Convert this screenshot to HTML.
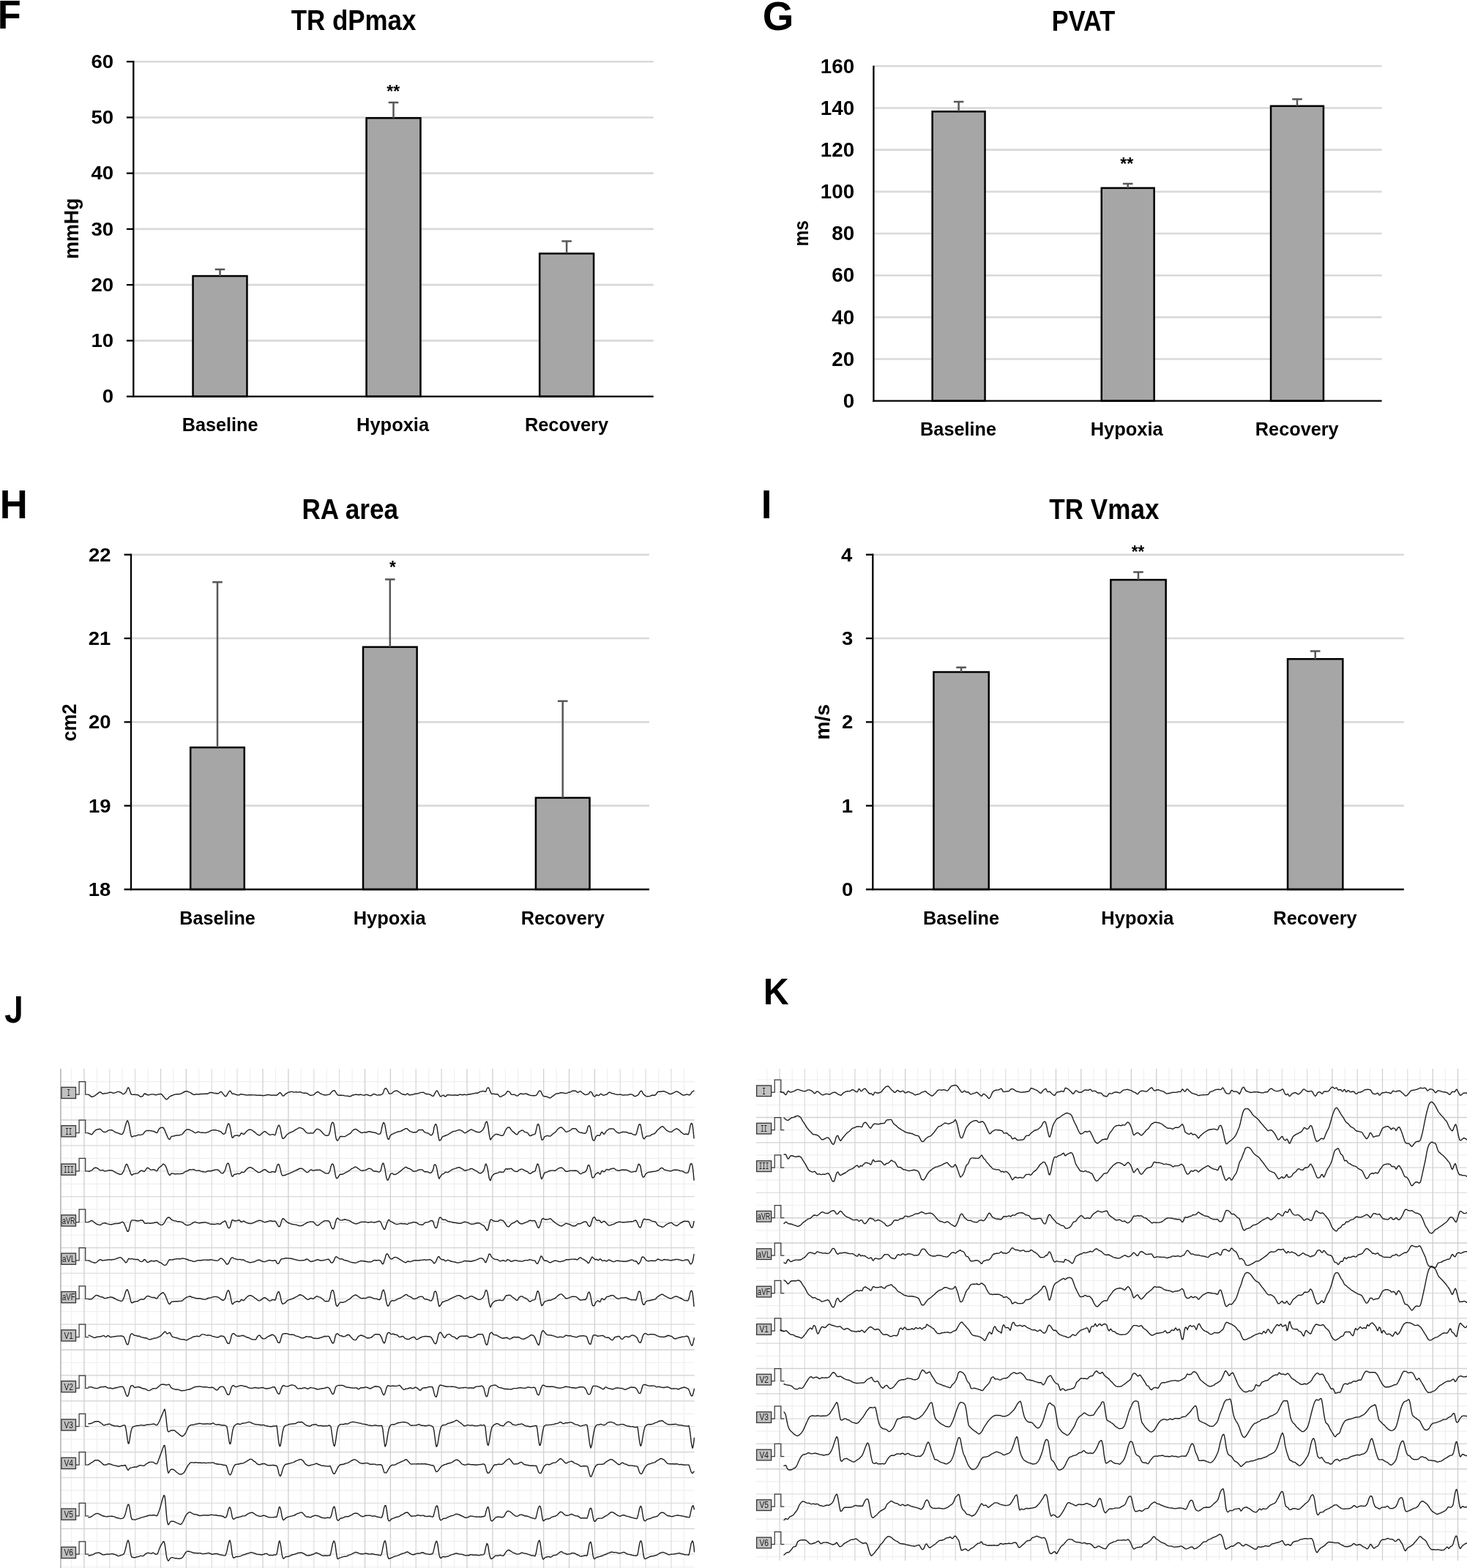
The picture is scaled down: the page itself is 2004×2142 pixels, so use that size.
<!DOCTYPE html>
<html lang="en"><head><meta charset="utf-8"><title>Figure panels F-K</title>
<style>
html,body{margin:0;padding:0;background:#fff}
body{width:2004px;height:2142px;overflow:hidden;font-family:"Liberation Sans",sans-serif}
svg{display:block}
text{white-space:pre}
</style></head><body>
<svg width="2004" height="2142" viewBox="0 0 2004 2142">
<rect width="2004" height="2142" fill="#fff"/>
<g>
<line x1="182.3" y1="465.37" x2="892.7" y2="465.37" stroke="#d9d9d9" stroke-width="2.6"/>
<line x1="182.3" y1="389.13" x2="892.7" y2="389.13" stroke="#d9d9d9" stroke-width="2.6"/>
<line x1="182.3" y1="312.90" x2="892.7" y2="312.90" stroke="#d9d9d9" stroke-width="2.6"/>
<line x1="182.3" y1="236.67" x2="892.7" y2="236.67" stroke="#d9d9d9" stroke-width="2.6"/>
<line x1="182.3" y1="160.43" x2="892.7" y2="160.43" stroke="#d9d9d9" stroke-width="2.6"/>
<line x1="182.3" y1="84.20" x2="892.7" y2="84.20" stroke="#d9d9d9" stroke-width="2.6"/>
<rect x="263.55" y="377.05" width="73.90" height="164.55" fill="#a6a6a6" stroke="#000" stroke-width="2.5"/>
<rect x="500.55" y="161.25" width="73.90" height="380.35" fill="#a6a6a6" stroke="#000" stroke-width="2.5"/>
<rect x="737.15" y="346.35" width="73.90" height="195.25" fill="#a6a6a6" stroke="#000" stroke-width="2.5"/>
<path d="M300.50 377.00V368.00M293.70 368.00H307.30" stroke="#575757" stroke-width="2.5" fill="none"/>
<path d="M537.50 161.20V140.00M530.70 140.00H544.30" stroke="#575757" stroke-width="2.5" fill="none"/>
<path d="M774.10 346.30V329.60M767.30 329.60H780.90" stroke="#575757" stroke-width="2.5" fill="none"/>
<line x1="182.3" y1="83.05" x2="182.3" y2="542.75" stroke="#000" stroke-width="2.3"/>
<line x1="172.90" y1="541.60" x2="892.7" y2="541.60" stroke="#000" stroke-width="2.3"/>
<text x="139.84" y="550.40" font-family='"Liberation Sans", sans-serif' font-size="25.8" font-weight="bold" fill="#000" textLength="15.35" lengthAdjust="spacingAndGlyphs">0</text>
<line x1="172.90" y1="465.37" x2="182.3" y2="465.37" stroke="#000" stroke-width="2.3"/>
<text x="124.49" y="474.17" font-family='"Liberation Sans", sans-serif' font-size="25.8" font-weight="bold" fill="#000" textLength="30.71" lengthAdjust="spacingAndGlyphs">10</text>
<line x1="172.90" y1="389.13" x2="182.3" y2="389.13" stroke="#000" stroke-width="2.3"/>
<text x="124.49" y="397.93" font-family='"Liberation Sans", sans-serif' font-size="25.8" font-weight="bold" fill="#000" textLength="30.71" lengthAdjust="spacingAndGlyphs">20</text>
<line x1="172.90" y1="312.90" x2="182.3" y2="312.90" stroke="#000" stroke-width="2.3"/>
<text x="124.49" y="321.70" font-family='"Liberation Sans", sans-serif' font-size="25.8" font-weight="bold" fill="#000" textLength="30.71" lengthAdjust="spacingAndGlyphs">30</text>
<line x1="172.90" y1="236.67" x2="182.3" y2="236.67" stroke="#000" stroke-width="2.3"/>
<text x="124.49" y="245.47" font-family='"Liberation Sans", sans-serif' font-size="25.8" font-weight="bold" fill="#000" textLength="30.71" lengthAdjust="spacingAndGlyphs">40</text>
<line x1="172.90" y1="160.43" x2="182.3" y2="160.43" stroke="#000" stroke-width="2.3"/>
<text x="124.49" y="169.23" font-family='"Liberation Sans", sans-serif' font-size="25.8" font-weight="bold" fill="#000" textLength="30.71" lengthAdjust="spacingAndGlyphs">50</text>
<line x1="172.90" y1="84.20" x2="182.3" y2="84.20" stroke="#000" stroke-width="2.3"/>
<text x="124.49" y="93.00" font-family='"Liberation Sans", sans-serif' font-size="25.8" font-weight="bold" fill="#000" textLength="30.71" lengthAdjust="spacingAndGlyphs">60</text>
<text x="248.66" y="589.20" font-family='"Liberation Sans", sans-serif' font-size="26.6" font-weight="bold" fill="#000" textLength="103.83" lengthAdjust="spacingAndGlyphs">Baseline</text>
<text x="487.05" y="589.20" font-family='"Liberation Sans", sans-serif' font-size="26.6" font-weight="bold" fill="#000" textLength="99.03" lengthAdjust="spacingAndGlyphs">Hypoxia</text>
<text x="716.95" y="589.20" font-family='"Liberation Sans", sans-serif' font-size="26.6" font-weight="bold" fill="#000" textLength="114.08" lengthAdjust="spacingAndGlyphs">Recovery</text>
<text x="397.65" y="40.80" font-family='"Liberation Sans", sans-serif' font-size="38.2" font-weight="bold" fill="#000" textLength="170.76" lengthAdjust="spacingAndGlyphs">TR dPmax</text>
<text transform="translate(107.40 352.05) rotate(-90)" x="-1.74" y="0" font-family='"Liberation Sans", sans-serif' font-size="27.5" font-weight="bold" fill="#000" textLength="83.25" lengthAdjust="spacingAndGlyphs">mmHg</text>
<text x="528.30" y="132.70" font-family='"Liberation Sans", sans-serif' font-size="23" font-weight="bold" fill="#000" textLength="17.78" lengthAdjust="spacingAndGlyphs">**</text>
<text x="-3.30" y="38.70" font-family='"Liberation Sans", sans-serif' font-size="56.2" font-weight="bold" fill="#000" textLength="31.98" lengthAdjust="spacingAndGlyphs">F</text>
</g>
<g>
<line x1="1193.4" y1="490.53" x2="1887.6" y2="490.53" stroke="#d9d9d9" stroke-width="2.6"/>
<line x1="1193.4" y1="433.35" x2="1887.6" y2="433.35" stroke="#d9d9d9" stroke-width="2.6"/>
<line x1="1193.4" y1="376.18" x2="1887.6" y2="376.18" stroke="#d9d9d9" stroke-width="2.6"/>
<line x1="1193.4" y1="319.00" x2="1887.6" y2="319.00" stroke="#d9d9d9" stroke-width="2.6"/>
<line x1="1193.4" y1="261.83" x2="1887.6" y2="261.83" stroke="#d9d9d9" stroke-width="2.6"/>
<line x1="1193.4" y1="204.65" x2="1887.6" y2="204.65" stroke="#d9d9d9" stroke-width="2.6"/>
<line x1="1193.4" y1="147.48" x2="1887.6" y2="147.48" stroke="#d9d9d9" stroke-width="2.6"/>
<line x1="1193.4" y1="90.30" x2="1887.6" y2="90.30" stroke="#d9d9d9" stroke-width="2.6"/>
<rect x="1273.65" y="152.35" width="71.90" height="395.35" fill="#a6a6a6" stroke="#000" stroke-width="2.5"/>
<rect x="1504.75" y="256.85" width="71.90" height="290.85" fill="#a6a6a6" stroke="#000" stroke-width="2.5"/>
<rect x="1736.05" y="144.85" width="71.90" height="402.85" fill="#a6a6a6" stroke="#000" stroke-width="2.5"/>
<path d="M1309.60 152.30V139.00M1302.80 139.00H1316.40" stroke="#575757" stroke-width="2.5" fill="none"/>
<path d="M1540.70 256.80V251.00M1533.90 251.00H1547.50" stroke="#575757" stroke-width="2.5" fill="none"/>
<path d="M1772.00 144.80V135.50M1765.20 135.50H1778.80" stroke="#575757" stroke-width="2.5" fill="none"/>
<line x1="1193.4" y1="89.70" x2="1193.4" y2="548.85" stroke="#000" stroke-width="2.3"/>
<line x1="1192.25" y1="547.70" x2="1887.6" y2="547.70" stroke="#000" stroke-width="2.3"/>
<text x="1151.67" y="557.00" font-family='"Liberation Sans", sans-serif' font-size="27.2" font-weight="bold" fill="#000" textLength="15.43" lengthAdjust="spacingAndGlyphs">0</text>
<text x="1136.24" y="499.83" font-family='"Liberation Sans", sans-serif' font-size="27.2" font-weight="bold" fill="#000" textLength="30.86" lengthAdjust="spacingAndGlyphs">20</text>
<text x="1136.24" y="442.65" font-family='"Liberation Sans", sans-serif' font-size="27.2" font-weight="bold" fill="#000" textLength="30.86" lengthAdjust="spacingAndGlyphs">40</text>
<text x="1136.24" y="385.48" font-family='"Liberation Sans", sans-serif' font-size="27.2" font-weight="bold" fill="#000" textLength="30.86" lengthAdjust="spacingAndGlyphs">60</text>
<text x="1136.24" y="328.30" font-family='"Liberation Sans", sans-serif' font-size="27.2" font-weight="bold" fill="#000" textLength="30.86" lengthAdjust="spacingAndGlyphs">80</text>
<text x="1120.81" y="271.13" font-family='"Liberation Sans", sans-serif' font-size="27.2" font-weight="bold" fill="#000" textLength="46.29" lengthAdjust="spacingAndGlyphs">100</text>
<text x="1120.81" y="213.95" font-family='"Liberation Sans", sans-serif' font-size="27.2" font-weight="bold" fill="#000" textLength="46.29" lengthAdjust="spacingAndGlyphs">120</text>
<text x="1120.81" y="156.78" font-family='"Liberation Sans", sans-serif' font-size="27.2" font-weight="bold" fill="#000" textLength="46.29" lengthAdjust="spacingAndGlyphs">140</text>
<text x="1120.81" y="99.60" font-family='"Liberation Sans", sans-serif' font-size="27.2" font-weight="bold" fill="#000" textLength="46.29" lengthAdjust="spacingAndGlyphs">160</text>
<text x="1257.06" y="594.90" font-family='"Liberation Sans", sans-serif' font-size="26.6" font-weight="bold" fill="#000" textLength="104.03" lengthAdjust="spacingAndGlyphs">Baseline</text>
<text x="1489.65" y="594.90" font-family='"Liberation Sans", sans-serif' font-size="26.6" font-weight="bold" fill="#000" textLength="99.03" lengthAdjust="spacingAndGlyphs">Hypoxia</text>
<text x="1714.86" y="594.90" font-family='"Liberation Sans", sans-serif' font-size="26.6" font-weight="bold" fill="#000" textLength="113.77" lengthAdjust="spacingAndGlyphs">Recovery</text>
<text x="1436.66" y="42.00" font-family='"Liberation Sans", sans-serif' font-size="38.2" font-weight="bold" fill="#000" textLength="86.74" lengthAdjust="spacingAndGlyphs">PVAT</text>
<text transform="translate(1103.90 334.90) rotate(-90)" x="-1.60" y="0" font-family='"Liberation Sans", sans-serif' font-size="27.5" font-weight="bold" fill="#000" textLength="35.48" lengthAdjust="spacingAndGlyphs">ms</text>
<text x="1530.20" y="231.60" font-family='"Liberation Sans", sans-serif' font-size="23" font-weight="bold" fill="#000" textLength="17.98" lengthAdjust="spacingAndGlyphs">**</text>
<text x="1041.81" y="41.40" font-family='"Liberation Sans", sans-serif' font-size="56.3" font-weight="bold" fill="#000" textLength="42.55" lengthAdjust="spacingAndGlyphs">G</text>
</g>
<g>
<line x1="179.0" y1="1100.67" x2="886.9" y2="1100.67" stroke="#d9d9d9" stroke-width="2.6"/>
<line x1="179.0" y1="986.35" x2="886.9" y2="986.35" stroke="#d9d9d9" stroke-width="2.6"/>
<line x1="179.0" y1="872.03" x2="886.9" y2="872.03" stroke="#d9d9d9" stroke-width="2.6"/>
<line x1="179.0" y1="757.70" x2="886.9" y2="757.70" stroke="#d9d9d9" stroke-width="2.6"/>
<rect x="260.20" y="1021.05" width="73.60" height="193.95" fill="#a6a6a6" stroke="#000" stroke-width="2.5"/>
<rect x="496.00" y="883.85" width="73.60" height="331.15" fill="#a6a6a6" stroke="#000" stroke-width="2.5"/>
<rect x="731.90" y="1089.85" width="73.60" height="125.15" fill="#a6a6a6" stroke="#000" stroke-width="2.5"/>
<path d="M297.00 1021.00V795.20M290.20 795.20H303.80" stroke="#575757" stroke-width="2.5" fill="none"/>
<path d="M532.80 883.80V791.50M526.00 791.50H539.60" stroke="#575757" stroke-width="2.5" fill="none"/>
<path d="M768.70 1089.80V957.70M761.90 957.70H775.50" stroke="#575757" stroke-width="2.5" fill="none"/>
<line x1="179.0" y1="756.55" x2="179.0" y2="1216.15" stroke="#000" stroke-width="2.3"/>
<line x1="169.60" y1="1215.00" x2="886.9" y2="1215.00" stroke="#000" stroke-width="2.3"/>
<text x="120.68" y="1223.90" font-family='"Liberation Sans", sans-serif' font-size="26.4" font-weight="bold" fill="#000" textLength="30.54" lengthAdjust="spacingAndGlyphs">18</text>
<line x1="169.60" y1="1100.67" x2="179.0" y2="1100.67" stroke="#000" stroke-width="2.3"/>
<text x="120.95" y="1109.58" font-family='"Liberation Sans", sans-serif' font-size="26.4" font-weight="bold" fill="#000" textLength="30.54" lengthAdjust="spacingAndGlyphs">19</text>
<line x1="169.60" y1="986.35" x2="179.0" y2="986.35" stroke="#000" stroke-width="2.3"/>
<text x="120.95" y="995.25" font-family='"Liberation Sans", sans-serif' font-size="26.4" font-weight="bold" fill="#000" textLength="30.54" lengthAdjust="spacingAndGlyphs">20</text>
<line x1="169.60" y1="872.03" x2="179.0" y2="872.03" stroke="#000" stroke-width="2.3"/>
<text x="120.68" y="880.93" font-family='"Liberation Sans", sans-serif' font-size="26.4" font-weight="bold" fill="#000" textLength="30.54" lengthAdjust="spacingAndGlyphs">21</text>
<line x1="169.60" y1="757.70" x2="179.0" y2="757.70" stroke="#000" stroke-width="2.3"/>
<text x="120.95" y="766.60" font-family='"Liberation Sans", sans-serif' font-size="26.4" font-weight="bold" fill="#000" textLength="30.54" lengthAdjust="spacingAndGlyphs">22</text>
<text x="245.26" y="1263.00" font-family='"Liberation Sans", sans-serif' font-size="26.6" font-weight="bold" fill="#000" textLength="103.62" lengthAdjust="spacingAndGlyphs">Baseline</text>
<text x="482.65" y="1263.00" font-family='"Liberation Sans", sans-serif' font-size="26.6" font-weight="bold" fill="#000" textLength="99.03" lengthAdjust="spacingAndGlyphs">Hypoxia</text>
<text x="711.65" y="1263.00" font-family='"Liberation Sans", sans-serif' font-size="26.6" font-weight="bold" fill="#000" textLength="114.08" lengthAdjust="spacingAndGlyphs">Recovery</text>
<text x="412.44" y="708.80" font-family='"Liberation Sans", sans-serif' font-size="38.2" font-weight="bold" fill="#000" textLength="131.55" lengthAdjust="spacingAndGlyphs">RA area</text>
<text transform="translate(104.20 1011.80) rotate(-90)" x="-0.90" y="0" font-family='"Liberation Sans", sans-serif' font-size="27.5" font-weight="bold" fill="#000" textLength="51.32" lengthAdjust="spacingAndGlyphs">cm2</text>
<text x="532.10" y="782.90" font-family='"Liberation Sans", sans-serif' font-size="23" font-weight="bold" fill="#000" textLength="8.78" lengthAdjust="spacingAndGlyphs">*</text>
<text x="-0.32" y="707.90" font-family='"Liberation Sans", sans-serif' font-size="56.1" font-weight="bold" fill="#000" textLength="37.94" lengthAdjust="spacingAndGlyphs">H</text>
</g>
<g>
<line x1="1192.3" y1="1100.67" x2="1917.8" y2="1100.67" stroke="#d9d9d9" stroke-width="2.6"/>
<line x1="1192.3" y1="986.35" x2="1917.8" y2="986.35" stroke="#d9d9d9" stroke-width="2.6"/>
<line x1="1192.3" y1="872.03" x2="1917.8" y2="872.03" stroke="#d9d9d9" stroke-width="2.6"/>
<line x1="1192.3" y1="757.70" x2="1917.8" y2="757.70" stroke="#d9d9d9" stroke-width="2.6"/>
<rect x="1275.45" y="918.05" width="75.30" height="296.95" fill="#a6a6a6" stroke="#000" stroke-width="2.5"/>
<rect x="1517.35" y="792.05" width="75.30" height="422.95" fill="#a6a6a6" stroke="#000" stroke-width="2.5"/>
<rect x="1759.05" y="900.25" width="75.30" height="314.75" fill="#a6a6a6" stroke="#000" stroke-width="2.5"/>
<path d="M1313.10 918.00V911.80M1306.30 911.80H1319.90" stroke="#575757" stroke-width="2.5" fill="none"/>
<path d="M1555.00 792.00V781.50M1548.20 781.50H1561.80" stroke="#575757" stroke-width="2.5" fill="none"/>
<path d="M1796.70 900.20V889.40M1789.90 889.40H1803.50" stroke="#575757" stroke-width="2.5" fill="none"/>
<line x1="1192.3" y1="756.55" x2="1192.3" y2="1216.15" stroke="#000" stroke-width="2.3"/>
<line x1="1182.90" y1="1215.00" x2="1917.8" y2="1215.00" stroke="#000" stroke-width="2.3"/>
<text x="1149.92" y="1223.90" font-family='"Liberation Sans", sans-serif' font-size="26.4" font-weight="bold" fill="#000" textLength="15.27" lengthAdjust="spacingAndGlyphs">0</text>
<line x1="1182.90" y1="1100.67" x2="1192.3" y2="1100.67" stroke="#000" stroke-width="2.3"/>
<text x="1149.65" y="1109.58" font-family='"Liberation Sans", sans-serif' font-size="26.4" font-weight="bold" fill="#000" textLength="15.27" lengthAdjust="spacingAndGlyphs">1</text>
<line x1="1182.90" y1="986.35" x2="1192.3" y2="986.35" stroke="#000" stroke-width="2.3"/>
<text x="1149.92" y="995.25" font-family='"Liberation Sans", sans-serif' font-size="26.4" font-weight="bold" fill="#000" textLength="15.27" lengthAdjust="spacingAndGlyphs">2</text>
<line x1="1182.90" y1="872.03" x2="1192.3" y2="872.03" stroke="#000" stroke-width="2.3"/>
<text x="1149.92" y="880.93" font-family='"Liberation Sans", sans-serif' font-size="26.4" font-weight="bold" fill="#000" textLength="15.27" lengthAdjust="spacingAndGlyphs">3</text>
<line x1="1182.90" y1="757.70" x2="1192.3" y2="757.70" stroke="#000" stroke-width="2.3"/>
<text x="1148.96" y="766.60" font-family='"Liberation Sans", sans-serif' font-size="26.4" font-weight="bold" fill="#000" textLength="15.27" lengthAdjust="spacingAndGlyphs">4</text>
<text x="1260.96" y="1263.00" font-family='"Liberation Sans", sans-serif' font-size="26.6" font-weight="bold" fill="#000" textLength="104.03" lengthAdjust="spacingAndGlyphs">Baseline</text>
<text x="1504.35" y="1263.00" font-family='"Liberation Sans", sans-serif' font-size="26.6" font-weight="bold" fill="#000" textLength="99.03" lengthAdjust="spacingAndGlyphs">Hypoxia</text>
<text x="1739.35" y="1263.00" font-family='"Liberation Sans", sans-serif' font-size="26.6" font-weight="bold" fill="#000" textLength="114.28" lengthAdjust="spacingAndGlyphs">Recovery</text>
<text x="1433.35" y="708.80" font-family='"Liberation Sans", sans-serif' font-size="38.2" font-weight="bold" fill="#000" textLength="150.07" lengthAdjust="spacingAndGlyphs">TR Vmax</text>
<text transform="translate(1132.50 1009.00) rotate(-90)" x="-1.85" y="0" font-family='"Liberation Sans", sans-serif' font-size="27.5" font-weight="bold" fill="#000" textLength="48.97" lengthAdjust="spacingAndGlyphs">m/s</text>
<text x="1545.80" y="761.70" font-family='"Liberation Sans", sans-serif' font-size="23" font-weight="bold" fill="#000" textLength="17.38" lengthAdjust="spacingAndGlyphs">**</text>
<text x="1039.68" y="707.90" font-family='"Liberation Sans", sans-serif' font-size="56.1" font-weight="bold" fill="#000" textLength="14.63" lengthAdjust="spacingAndGlyphs">I</text>
</g>
<text x="6.31" y="1396.60" font-family='"Liberation Sans", sans-serif' font-size="51.4" font-weight="bold" fill="#000" textLength="25.52" lengthAdjust="spacingAndGlyphs">J</text>
<rect x="13" y="1359" width="8.95" height="9" fill="#fff"/>
<text x="1042.86" y="1371.90" font-family='"Liberation Sans", sans-serif' font-size="50.4" font-weight="bold" fill="#000" textLength="34.89" lengthAdjust="spacingAndGlyphs">K</text>
<g fill="none">
<path d="M97.5 1460V2142M132.3 1460V2142M167.2 1460V2142M202.1 1460V2142M236.9 1460V2142M271.8 1460V2142M306.7 1460V2142M341.6 1460V2142M376.4 1460V2142M411.3 1460V2142M446.2 1460V2142M481.1 1460V2142M515.9 1460V2142M550.8 1460V2142M585.7 1460V2142M620.6 1460V2142M655.4 1460V2142M690.3 1460V2142M707.7 1460V2142M725.2 1460V2142M760.1 1460V2142M794.9 1460V2142M829.8 1460V2142M864.7 1460V2142M899.6 1460V2142M934.4 1460V2142M82.9 1477.7H948.7M82.9 1495.1H948.7M82.9 1512.6H948.7M82.9 1547.5H948.7M82.9 1582.4H948.7M82.9 1617.3H948.7M82.9 1652.2H948.7M82.9 1687.0H948.7M82.9 1721.9H948.7M82.9 1756.8H948.7M82.9 1791.7H948.7M82.9 1826.6H948.7M82.9 1861.5H948.7M82.9 1896.4H948.7M82.9 1931.3H948.7M82.9 1966.2H948.7M82.9 2001.1H948.7M82.9 2035.9H948.7M82.9 2070.8H948.7M82.9 2105.7H948.7M82.9 2140.6H948.7" stroke="#f0f0f0" stroke-width="1.2"/>
<path d="M149.8 1460V2142M184.6 1460V2142M289.3 1460V2142M324.1 1460V2142M428.8 1460V2142M463.6 1460V2142M847.2 1460V2142M882.1 1460V2142M917.0 1460V2142M82.9 1599.8H948.7M82.9 1669.6H948.7M82.9 1739.4H948.7M82.9 1774.3H948.7M82.9 1948.7H948.7M82.9 2018.5H948.7M82.9 2053.4H948.7M82.9 2123.2H948.7" stroke="#dfdfdf" stroke-width="1.3"/>
<path d="M568.2 1460V2142M603.1 1460V2142M82.9 1564.9H948.7M82.9 1634.7H948.7M82.9 1704.5H948.7M82.9 1809.2H948.7" stroke="#d8d8d8" stroke-width="1.3"/>
<path d="M114.9 1460V2142M219.5 1460V2142M254.4 1460V2142M359.0 1460V2142M393.9 1460V2142M498.5 1460V2142M533.4 1460V2142M638.0 1460V2142M672.9 1460V2142M742.6 1460V2142M777.5 1460V2142M812.4 1460V2142M82.9 1530.0H948.7M82.9 1844.0H948.7M82.9 1878.9H948.7M82.9 1913.8H948.7M82.9 1983.6H948.7M82.9 2088.3H948.7" stroke="#d1d1d1" stroke-width="1.35"/>
<path d="M82.9 1460V2142" stroke="#b4b4b4" stroke-width="1.6"/>
</g>
<path d="M103.5 1495.1h4.6v-17.4h8.6v17.4h4.5" fill="none" stroke="#3a3a3a" stroke-width="1.25"/>
<rect x="83.9" y="1485.3" width="19.6" height="15.2" fill="#c1c1c1" stroke="#333" stroke-width="1.3"/>
<text x="93.7" y="1497.2" font-family='"Liberation Mono", monospace' font-size="12.8" font-weight="normal" text-anchor="middle" fill="#1c1c1c" textLength="4.6" lengthAdjust="spacingAndGlyphs">I</text>
<path d="M103.5 1547.5h4.6v-17.4h8.6v17.4h4.5" fill="none" stroke="#3a3a3a" stroke-width="1.25"/>
<rect x="83.9" y="1537.7" width="19.6" height="15.2" fill="#c1c1c1" stroke="#333" stroke-width="1.3"/>
<text x="93.7" y="1549.6" font-family='"Liberation Mono", monospace' font-size="12.8" font-weight="normal" text-anchor="middle" fill="#1c1c1c" textLength="9.0" lengthAdjust="spacingAndGlyphs">II</text>
<path d="M103.5 1599.8h4.6v-17.4h8.6v17.4h4.5" fill="none" stroke="#3a3a3a" stroke-width="1.25"/>
<rect x="83.9" y="1590.0" width="19.6" height="15.2" fill="#c1c1c1" stroke="#333" stroke-width="1.3"/>
<text x="93.7" y="1601.9" font-family='"Liberation Mono", monospace' font-size="12.8" font-weight="normal" text-anchor="middle" fill="#1c1c1c" textLength="13.6" lengthAdjust="spacingAndGlyphs">III</text>
<path d="M103.5 1669.6h4.6v-17.4h8.6v17.4h4.5" fill="none" stroke="#3a3a3a" stroke-width="1.25"/>
<rect x="83.9" y="1659.8" width="19.6" height="15.2" fill="#c1c1c1" stroke="#333" stroke-width="1.3"/>
<text x="93.7" y="1671.7" font-family='"Liberation Sans", sans-serif' font-size="12.4" font-weight="normal" text-anchor="middle" fill="#1c1c1c" textLength="17.6" lengthAdjust="spacingAndGlyphs">aVR</text>
<path d="M103.5 1721.9h4.6v-17.4h8.6v17.4h4.5" fill="none" stroke="#3a3a3a" stroke-width="1.25"/>
<rect x="83.9" y="1712.1" width="19.6" height="15.2" fill="#c1c1c1" stroke="#333" stroke-width="1.3"/>
<text x="93.7" y="1724.0" font-family='"Liberation Sans", sans-serif' font-size="12.4" font-weight="normal" text-anchor="middle" fill="#1c1c1c" textLength="17.6" lengthAdjust="spacingAndGlyphs">aVL</text>
<path d="M103.5 1774.3h4.6v-17.4h8.6v17.4h4.5" fill="none" stroke="#3a3a3a" stroke-width="1.25"/>
<rect x="83.9" y="1764.5" width="19.6" height="15.2" fill="#c1c1c1" stroke="#333" stroke-width="1.3"/>
<text x="93.7" y="1776.4" font-family='"Liberation Sans", sans-serif' font-size="12.4" font-weight="normal" text-anchor="middle" fill="#1c1c1c" textLength="17.6" lengthAdjust="spacingAndGlyphs">aVF</text>
<path d="M103.5 1826.6h4.6v-17.4h8.6v17.4h4.5" fill="none" stroke="#3a3a3a" stroke-width="1.25"/>
<rect x="83.9" y="1816.8" width="19.6" height="15.2" fill="#c1c1c1" stroke="#333" stroke-width="1.3"/>
<text x="93.7" y="1828.7" font-family='"Liberation Sans", sans-serif' font-size="12.4" font-weight="normal" text-anchor="middle" fill="#1c1c1c" textLength="12.4" lengthAdjust="spacingAndGlyphs">V1</text>
<path d="M103.5 1896.4h4.6v-17.4h8.6v17.4h4.5" fill="none" stroke="#3a3a3a" stroke-width="1.25"/>
<rect x="83.9" y="1886.6" width="19.6" height="15.2" fill="#c1c1c1" stroke="#333" stroke-width="1.3"/>
<text x="93.7" y="1898.5" font-family='"Liberation Sans", sans-serif' font-size="12.4" font-weight="normal" text-anchor="middle" fill="#1c1c1c" textLength="12.4" lengthAdjust="spacingAndGlyphs">V2</text>
<path d="M103.5 1948.7h4.6v-17.4h8.6v17.4h4.5" fill="none" stroke="#3a3a3a" stroke-width="1.25"/>
<rect x="83.9" y="1938.9" width="19.6" height="15.2" fill="#c1c1c1" stroke="#333" stroke-width="1.3"/>
<text x="93.7" y="1950.8" font-family='"Liberation Sans", sans-serif' font-size="12.4" font-weight="normal" text-anchor="middle" fill="#1c1c1c" textLength="12.4" lengthAdjust="spacingAndGlyphs">V3</text>
<path d="M103.5 2001.1h4.6v-17.4h8.6v17.4h4.5" fill="none" stroke="#3a3a3a" stroke-width="1.25"/>
<rect x="83.9" y="1991.3" width="19.6" height="15.2" fill="#c1c1c1" stroke="#333" stroke-width="1.3"/>
<text x="93.7" y="2003.2" font-family='"Liberation Sans", sans-serif' font-size="12.4" font-weight="normal" text-anchor="middle" fill="#1c1c1c" textLength="12.4" lengthAdjust="spacingAndGlyphs">V4</text>
<path d="M103.5 2070.8h4.6v-17.4h8.6v17.4h4.5" fill="none" stroke="#3a3a3a" stroke-width="1.25"/>
<rect x="83.9" y="2061.0" width="19.6" height="15.2" fill="#c1c1c1" stroke="#333" stroke-width="1.3"/>
<text x="93.7" y="2072.9" font-family='"Liberation Sans", sans-serif' font-size="12.4" font-weight="normal" text-anchor="middle" fill="#1c1c1c" textLength="12.4" lengthAdjust="spacingAndGlyphs">V5</text>
<path d="M103.5 2123.2h4.6v-17.4h8.6v17.4h4.5" fill="none" stroke="#3a3a3a" stroke-width="1.25"/>
<rect x="83.9" y="2113.4" width="19.6" height="15.2" fill="#c1c1c1" stroke="#333" stroke-width="1.3"/>
<text x="93.7" y="2125.3" font-family='"Liberation Sans", sans-serif' font-size="12.4" font-weight="normal" text-anchor="middle" fill="#1c1c1c" textLength="12.4" lengthAdjust="spacingAndGlyphs">V6</text>
<g fill="none" stroke="#1e1e1e" stroke-width="1.4" stroke-linejoin="round" stroke-linecap="round">
<path d="M121.0 1495.6l1 .2l1 .8l1 1.1l1 .6l1 0l1-.3l1-.4l1-.4l1-.6l1-.9l1-.9l1-.6l1-.8l1-.8l1-.7l1-.1l1 .5l1 1l1 .8l1 .1l1-.4l1-.2l1-.1l1 .1l1-.1l1-.3l1-.3l1-.4l1-.2l1-.2l1 .2l1 .3l1 .5l1 .2l1-.2l1-.3l1-.4l1-.3l1-.5l1-.3l1 .1l1 .3l1 .3l1 .4l1 .7l1 .9l1 .6l1-.2l1-.6l1-.9l1-1l1-2.2l1-2.4l1-1.6l1 .6l1 2.5l1 3.3l1 2.3l1 .7l1 .3l1 0l1-.1l1 0l1 .1l1 .1l1 .1l1 .1l1 .3l1 .8l1 .9l1 .5l1 0l1-.4l1-.4l1-1.5l1-1.7l1-.2l1 .5l1 .5l1 .5l1 .2l1 0l1-.1l1-.2l1-.3l1-.2l1 0l1 0l1 .2l1 .2l1 .3l1 .2l1-.2l1-.4l1-.3l1-.1l1-.2l1-.1l1-.1l1 .7l1 1.1l1 1.3l1 1.1l1 1.3l1 1l1 .8l1 0l1-.6l1-1.1l1-1.2l1-.8l1-.6l1-.4l1-.5l1-.3l1-.4l1-.4l1-.3l1-.2l1-.1l1-.1l1 0l1 0l1-.1l1-.3l1-.3l1-.4l1-.5l1-.6l1-.5l1-.5l1-.5l1-.3l1-.1l1 .4l1 .4l1 .5l1 .3l1 .4l1 .5l1 .8l1 .8l1 .5l1 .3l1-.3l1-.2l1-.3l1 .1l1 .1l1 .1l1-.2l1-.3l1 0l1 0l1 0l1-.1l1-.1l1 .1l1-.1l1 0l1 0l1-.1l1-.2l1-.6l1-.5l1-.4l1 0l1 0l1 .2l1 .1l1 .4l1 .2l1 .1l1 0l1 .2l1 .1l1 .1l1-.6l1-.8l1-.9l1-.2l1 .7l1 1.3l1 1.2l1 1.3l1 1.2l1 .7l1-.4l1-1.5l1-1.8l1-1.4l1-1.7l1-.8l1 .5l1 1.8l1 1.4l1 .4l1 0l1 .1l1 .3l1 .5l1 .3l1 .3l1 .1l1 0l1-.1l1-.6l1-.5l1 .1l1 .2l1 .1l1 .2l1 .2l1 .1l1 .3l1 .1l1 .1l1-.2l1-.2l1-.1l1 .1l1 .1l1 0l1 .1l1 0l1 0l1 0l1 .1l1 .1l1 .1l1 .2l1 0l1-.1l1 0l1 0l1 .1l1 .1l1 .2l1-.1l1 0l1-.3l1-.1l1-.3l1-.2l1-.2l1 .1l1 .1l1 .2l1 .2l1 .1l1 0l1-.1l1-.1l1 .1l1 .2l1 0l1-.3l1-.5l1-.8l1-1.1l1-.8l1-.1l1 1.1l1 1.6l1 1.5l1 .3l1-.5l1-1.1l1-1l1-.7l1-.5l1-.7l1-.5l1-.4l1 0l1-.2l1-.2l1 0l1 .3l1 .3l1 .1l1-.2l1-.2l1 .1l1 .2l1 .1l1-.1l1-.2l1-.1l1 .2l1 .4l1 .5l1 .3l1 .1l1 0l1 0l1 0l1 .2l1 .4l1 .6l1 .8l1 .7l1 .5l1 0l1-.3l1-.2l1-.2l1-.3l1-1.1l1-1.2l1-.7l1-.4l1-.5l1 .2l1 .9l1 1l1 .4l1 .3l1 .5l1 .4l1 .3l1 .2l1 .2l1 .1l1-.1l1-.3l1-.2l1-.2l1-.3l1-.6l1-1.4l1-1.2l1-.9l1-.6l1-.5l1 0l1 1.3l1 1.6l1 1.5l1 1.4l1 .6l1 .2l1 0l1-.1l1-.1l1 .2l1 .1l1 .1l1 .1l1 .3l1 .2l1 0l1 0l1 .2l1 .2l1 .1l1 .1l1-.2l1-.5l1-.6l1-.4l1-.2l1-.2l1-.2l1-.2l1 0l1 .1l1 .3l1 .1l1-.2l1-.2l1-.1l1 .4l1 .3l1 .2l1 0l1-.1l1-.2l1-.4l1-.1l1 .3l1 .4l1 .4l1 .3l1 0l1 0l1-.5l1-.9l1-.7l1-.2l1 .4l1 .4l1 .5l1 .3l1 .1l1-.2l1-.1l1-.1l1 0l1-.3l1-.7l1-.9l1-2.4l1-3.3l1-1.1l1-.4l1 .7l1 1.5l1 2l1 2.5l1 .8l1 0l1-.2l1-.1l1-.8l1-1.1l1-.9l1-.3l1-.4l1-.3l1-.1l1 .4l1 .7l1 .7l1 .7l1 .6l1 .8l1 .6l1 .4l1 .2l1 .3l1 .2l1 .1l1-.5l1-1l1-.1l1 1l1 .9l1-.2l1-.1l1-.2l1 .1l1-.3l1-.3l1-.5l1-.1l1-.1l1 0l1-.3l1-.1l1-.4l1-.3l1-.5l1-.1l1-.1l1 0l1-.1l1 .2l1 .7l1 .8l1 .4l1 .1l1 0l1 .1l1 .2l1 .4l1 .4l1 .6l1 .6l1 .5l1 .1l1-1.6l1-2.2l1-1.7l1-1.5l1-.5l1 1.2l1 2.2l1 2l1 2l1 .5l1-.5l1-.5l1-.4l1-.1l1 .8l1 1l1-.3l1-1.1l1-1l1-.1l1 .1l1 .1l1 .1l1 .2l1 .1l1-.1l1-.1l1 0l1 0l1 0l1 0l1 .3l1 0l1-.3l1-.4l1-.4l1 0l1 .2l1 .3l1 0l1-.2l1-.2l1 0l1 .2l1 .1l1 0l1-.4l1-.2l1-.2l1 0l1-.1l1-.3l1-.3l1-.1l1-.1l1-.3l1-.2l1-.3l1 .1l1 0l1-.2l1-.6l1-.6l1-.5l1-.2l1-.1l1-.3l1-.3l1 .2l1 .5l1 .5l1-1l1-3.2l1-1.3l1-.5l1 1.1l1 2.7l1 2.2l1 2.1l1 .7l1 0l1-.2l1 .1l1 .3l1 .2l1-.1l1 .1l1 .2l1 1.1l1 1.3l1 .9l1-.1l1-.4l1-.6l1-.6l1-.4l1-.6l1-.6l1-1l1-1.7l1-1.5l1 0l1 .3l1 .3l1 1.5l1 1.7l1 .6l1 .2l1 0l1-.2l1 .2l1 .6l1 .6l1 .4l1-.1l1-.6l1-1l1-.9l1-.4l1 0l1 .3l1 .2l1 .1l1-.3l1-.2l1-.2l1 .2l1 .4l1 .5l1 .5l1 .4l1 .3l1 .2l1 .2l1 0l1 .1l1-.1l1 .1l1-.1l1 0l1-.9l1-1.3l1-1.9l1-1.9l1-.3l1-.1l1 .7l1 2.5l1 2.1l1 1.7l1 .3l1 .2l1 0l1 .3l1 .2l1 .5l1 .5l1 .5l1 .2l1-.2l1-.7l1-1l1-.6l1-.5l1-.8l1-.9l1-.7l1-.4l1-.2l1-.1l1-.1l1-.3l1-.4l1-.2l1-.1l1 0l1 .1l1 .3l1 .3l1 .1l1 .1l1-.2l1-.3l1-.6l1-.3l1-.2l1 0l1-.6l1-.7l1-.5l1 0l1 0l1 0l1 0l1 .4l1 1.1l1 .8l1-.3l1-.7l1-.7l1 .1l1 .6l1 1l1 .8l1 .6l1 .7l1 .7l1 .3l1-.2l1-.4l1-.3l1-.4l1-1.1l1-1.8l1 0l1 .6l1 1.6l1 2.3l1 1.3l1 .7l1-.1l1-1.4l1-.8l1 .4l1 .6l1 0l1-.9l1-1.1l1-.3l1 .5l1 .8l1 .6l1-.1l1-.2l1-.5l1-.2l1-.2l1-1l1-1.2l1-.5l1-.1l1 .5l1 .5l1 .4l1 .1l1 .2l1 .2l1 .5l1 .3l1 .2l1 .2l1 .1l1 0l1-.3l1-.1l1 .1l1 .4l1 .3l1 .3l1-.1l1-.1l1-.1l1 .1l1 0l1-.1l1-.2l1-.1l1-.4l1-.3l1 .1l1 .2l1 .4l1 .6l1 .8l1 .7l1 0l1-.5l1-.5l1-.5l1-.6l1-1.8l1-1.8l1-1.1l1-.6l1 .6l1 2.3l1 1.5l1 1l1 .8l1 .7l1 .5l1 .1l1 0l1-.1l1 0l1-.3l1-.4l1-.4l1-.2l1 0l1 0l1-.1l1-.2l1-.8l1-1.5l1-1.6l1-.7l1-.2l1 0l1 0l1 0l1-.2l1-.3l1-.1l1 .1l1 .4l1 .5l1 .4l1 .4l1 .5l1 .6l1 .5l1 .3l1 .2l1-.1l1-.4l1-.7l1-.5l1-.4l1-.5l1-.7l1-.3l1 .2l1 .5l1 .6l1 .6l1 .5l1 .8l1 .8l1 .6l1 .5l1 .1l1-.1l1-.4l1-.3l1-.3l1 .1l1 .2l1 .5l1 .1l1-.7l1-1.6l1-1.5l1-.9l1-.5l1-.5"/>
<path d="M121.0 1548.5l1 .1l1 .3l1 .5l1 .5l1-.5l1-1.4l1-1.6l1-1l1-1l1-.8l1-.4l1-.2l1-.2l1-.3l1-.2l1 .2l1 .7l1 1l1 1l1 .7l1 .5l1 .1l1-.1l1-.3l1-.5l1-.8l1-.5l1-.4l1 0l1-.2l1-.1l1 .2l1 .6l1 .6l1 .7l1 .6l1 .6l1 .3l1 .3l1 .3l1 .4l1 .4l1 .4l1 .4l1 .3l1-.3l1-1.5l1-2.2l1-2.8l1-4.1l1-3.3l1-3l1-1.7l1 1.3l1 3.3l1 4.7l1 6.5l1 4.8l1 1.8l1-.4l1-.4l1-.5l1-.1l1-.1l1-.2l1-.4l1-.5l1-.3l1 .1l1 .1l1-.1l1-.2l1-.3l1-.3l1-.9l1-1.5l1-1.3l1-.7l1-.5l1-.3l1 .1l1 0l1 0l1 .1l1 .1l1 .1l1 .3l1 .2l1 .2l1 .3l1 .6l1 .7l1 .5l1-.6l1-2.3l1-1.9l1-1.3l1-.8l1-.2l1-.1l1-.1l1 .2l1 1.5l1 1.9l1 2.3l1 2.6l1 2.3l1 2.4l1 1.8l1 .9l1 .1l1-1.8l1-1.8l1-.4l1-.2l1-.1l1-.2l1-.3l1-.4l1-.1l1 0l1 0l1-.1l1-.1l1-.4l1-.3l1-.3l1-.4l1-1.1l1-1.3l1-1.2l1-1.2l1-.9l1-.5l1-.2l1-.1l1 .1l1 .3l1 .6l1 .5l1 .4l1 .4l1 .7l1 .8l1 .7l1 .2l1-.3l1-.4l1-.6l1-.1l1 .2l1 .4l1 .3l1 .1l1 .1l1 0l1 .1l1 0l1 .1l1 0l1-.3l1-.3l1-.4l1-.3l1-.5l1-.6l1-.6l1-.4l1-.2l1-.1l1-.1l1 0l1-.1l1 .2l1 .3l1 .3l1 .2l1 .4l1 .3l1 .4l1 .5l1 1.2l1 1.2l1 .7l1-.2l1-.4l1-1.3l1-4.4l1-3.4l1-2.9l1-1.9l1 .8l1 2.7l1 5l1 6.3l1 4.3l1 .4l1-1.3l1-1.3l1-.3l1-.3l1-.1l1-.1l1 .3l1 .6l1 .1l1-1.4l1-1.9l1-.8l1 .6l1 .9l1 .2l1-.6l1-1.2l1-1.4l1-.9l1-.9l1-.7l1-.6l1-.1l1 .1l1 .2l1 .4l1 .7l1 .6l1 .8l1 .7l1 1l1 .9l1 .8l1 .6l1 .6l1 .4l1-.2l1-.7l1-1.1l1-.8l1-.8l1-.8l1-.8l1-.1l1 .5l1 1l1 .9l1 .8l1 .7l1 .5l1 .2l1-.1l1-.2l1-.3l1 0l1 .5l1 .4l1-.1l1-3.1l1-4.3l1-2.6l1-2.4l1-1l1 1.4l1 3.3l1 5.9l1 4.9l1 2.7l1 .2l1-.7l1-.9l1-1.3l1-1.4l1-1.1l1-.7l1-.8l1-.6l1-.6l1-.4l1-.4l1-.4l1-.5l1-.5l1-.7l1-.6l1-.6l1-.5l1-.5l1-.7l1-.6l1-.4l1 .1l1 .3l1 .5l1 .2l1 .6l1 .9l1 1.4l1 1.1l1 1l1 .7l1 .6l1 .3l1-.1l1-.1l1-.3l1 .2l1 .1l1 .1l1-.3l1-1.1l1-1.5l1-1.2l1-1l1-.7l1 .1l1 .4l1 .4l1 .5l1 .8l1 1.2l1 1.1l1 1.2l1 1l1 1l1 .7l1 .4l1 .1l1 0l1-.1l1-.5l1-2.5l1-3.3l1-6.6l1-3.2l1-1.8l1 .2l1 2.1l1 5.2l1 7.8l1 6.2l1 2.8l1 .7l1-1.1l1-1.6l1-1.8l1-1.2l1 0l1 0l1 0l1 .1l1 0l1 0l1-.5l1-.6l1-.6l1-.7l1-.5l1-.5l1-.5l1-.8l1-1.3l1-1.5l1-.9l1-.7l1-.5l1-.4l1-.1l1 .3l1 .8l1 .8l1 .7l1 .6l1 .7l1 .7l1 .4l1 0l1-.3l1-.3l1-.2l1 .1l1 .2l1-.2l1-.5l1-.5l1-.2l1 .2l1 .2l1 .3l1 .2l1 .3l1 .1l1 .3l1 .1l1 .2l1 .4l1 .6l1 .6l1 .3l1-.1l1-.4l1-.9l1-4.1l1-5.3l1-3.3l1-1.9l1 1l1 3l1 6.3l1 5.4l1 4.3l1 2.5l1 .7l1-2.3l1-2.9l1-1l1-.6l1-.6l1-.3l1-.6l1-.4l1-.5l1-.3l1-.4l1-.5l1-.3l1-.2l1-.1l1-.2l1-.4l1-.5l1-.5l1-.6l1-.5l1-.5l1-.6l1-.2l1 0l1 1.1l1 1.2l1 .8l1 .6l1 .4l1 .4l1 .3l1 .5l1 .1l1-.2l1 0l1 0l1-.3l1-1l1-1.1l1-.8l1-.2l1 .1l1 .1l1-.1l1-.2l1 .8l1 1.4l1 1.1l1 .5l1 .3l1 .2l1 .3l1 .3l1 .6l1 .9l1 .8l1 .4l1-.5l1-1.5l1-2.5l1-6.5l1-2.7l1-1.6l1 .8l1 3.5l1 7l1 6.4l1 4.5l1 .2l1-.8l1-1.5l1-2.5l1-.7l1-.4l1-.1l1-.5l1-.5l1-.4l1-.2l1-.4l1-.7l1-.8l1-.6l1-.5l1-.6l1-.6l1-.5l1-.3l1 0l1-.2l1-.4l1-.4l1-.3l1-.3l1-.3l1 .1l1 .3l1 .6l1 .4l1 .6l1 .8l1 1l1 .4l1-.2l1-.6l1-.8l1-.6l1-.5l1-.6l1-.7l1-.6l1-.1l1 .3l1 .5l1 .5l1 .7l1 .4l1 .4l1 .2l1 .3l1 .3l1 .2l1-.1l1-.4l1-.6l1-.8l1-.9l1-1.3l1-1.8l1-2.4l1-3.9l1-1.8l1-.7l1 2.7l1 5.4l1 7.9l1 5.8l1 3.1l1-1.2l1-1.8l1-1.2l1-.8l1-1l1-.9l1-.6l1-.1l1 .1l1 .2l1 .3l1 .4l1 .3l1 .4l1 .2l1 0l1-.3l1-1l1-2.3l1-2.4l1-1.8l1-1.8l1-.9l1-.7l1-.3l1 .4l1 1.3l1 1.5l1 1.2l1 1.1l1 .8l1 .8l1 .8l1 1.1l1 .6l1 .4l1-.3l1-1.8l1-1.7l1-.4l1-.4l1-.7l1-.5l1 .1l1 .7l1 1l1 .6l1 .3l1 .2l1 .4l1 .6l1 1.4l1 1.5l1 .8l1-.1l1-.5l1-.5l1-.4l1-.2l1-.2l1-.6l1-3.6l1-4.4l1-4.2l1-1.5l1 1.1l1 3.9l1 6.1l1 6l1 4.6l1 .2l1-.8l1-2l1-1.9l1-.3l1-.5l1-.2l1-.2l1 .3l1 .3l1 .1l1-.2l1-.8l1-1l1-.8l1-.8l1-.7l1-.7l1-.9l1-1.2l1-1.4l1-1.2l1-.9l1-.6l1-.5l1-.4l1 .1l1 .6l1 1l1 1l1 1l1 1.5l1 .9l1 .1l1-.3l1-.5l1-.3l1-.4l1-.4l1-.9l1-.9l1-.7l1-.1l1 .1l1 .1l1-.1l1 .5l1 1.2l1 1.5l1 .8l1 .6l1 .4l1 .3l1 .2l1 .2l1 .3l1 .3l1 .1l1 .1l1-.4l1-1.3l1-2.2l1-4.7l1-1.6l1-.6l1 1.9l1 3.9l1 6.7l1 4.7l1 2.7l1 .6l1 0l1-2.6l1-2.7l1-1.1l1-.6l1-.1l1 .4l1 .1l1-1.1l1-2.4l1-1.5l1 .7l1 1.5l1 .8l1-.7l1-1.6l1-1.6l1-1.1l1-.6l1-.8l1-.6l1-.3l1-.1l1 0l1-.1l1 0l1 .2l1 .8l1 1.2l1 1.1l1 .9l1 .7l1 .7l1 .3l1-.1l1-.2l1-.3l1-.4l1-.3l1-.2l1 .1l1 0l1 .1l1 0l1 .1l1 .4l1 .6l1 .4l1 .2l1-.1l1 .1l1 .4l1 .7l1 .6l1 .2l1 .2l1 .2l1-.8l1-3.2l1-3.7l1-4.2l1-2.3l1-.6l1 .8l1 5.4l1 6.1l1 5l1 2.3l1 .5l1-1.2l1-1.5l1-.7l1-.3l1-.2l1 0l1 0l1-.4l1-.6l1-.8l1-.5l1-.3l1-.2l1-.4l1-.8l1-1.2l1-1.5l1-1.2l1-.7l1-1l1-1l1-.9l1-.8l1-.6l1-.3l1 .5l1 1l1 1.2l1 1l1 1l1 1l1 .6l1 .4l1 .4l1 .3l1 .3l1 0l1-.5l1-.9l1-.8l1-.7l1-.6l1-.6l1-.4l1 .1l1 .6l1 .7l1 .8l1 .9l1 1.2l1 .9l1 .9l1 .6l1 .6l1 .3l1 0l1-.3l1 .1l1 .2l1 .4l1-2.2l1-4.5l1-5.5l1-2.7l1-.5l1 2.3l1 7.5l1 10.7"/>
<path d="M121.0 1600.1l1 .1l1-.5l1-.5l1-.4l1-.5l1-1.1l1-1l1-.5l1-.5l1-.1l1 .3l1 .5l1 .7l1 .9l1 .6l1 .6l1 .2l1-.2l1-.3l1 .2l1 .7l1 .5l1 .1l1-.2l1-.3l1-.3l1-.2l1-.1l1-.1l1 0l1 0l1 .2l1 .4l1 .6l1 .6l1 .6l1 .6l1 .6l1 .4l1 .4l1 .4l1 .5l1 .3l1 .1l1-.5l1-.8l1-1.7l1-1.9l1-2.6l1-3.4l1-2.4l1-.9l1 .9l1 2.8l1 2.7l1 1.9l1 3.3l1 2.5l1 1.1l1-.8l1-.5l1-.5l1-.2l1-.2l1-.1l1-.2l1-.2l1-.4l1-1l1-1.1l1-.8l1-.2l1 0l1 .3l1 .6l1 .5l1-1.2l1-1.3l1-1.5l1-1.1l1-.2l1 .5l1 .9l1 .9l1 .4l1 .1l1-.2l1-.2l1 0l1 .2l1 .7l1 .7l1 .4l1-.8l1-2l1-1.5l1-.9l1-.7l1-.6l1-1.1l1-1.2l1-.9l1 .6l1 .7l1 1.3l1 2l1 2.6l1 3.2l1 2.7l1 1.7l1 .7l1-1.3l1-1.2l1 0l1 .1l1 .2l1 .3l1 .1l1 0l1-.1l1-.1l1 0l1 .1l1 0l1 0l1-.3l1 .1l1-.1l1-.5l1-.8l1-.6l1-.7l1-.7l1-.2l1-.3l1-.5l1-.7l1-.6l1 0l1 .2l1 0l1-.3l1-.1l1 .2l1 .6l1 .4l1 .3l1 .1l1 0l1-.2l1 .1l1 .3l1 .5l1 .4l1 .3l1 0l1 .2l1 .2l1 .2l1-.1l1-.4l1-.6l1-.4l1-.1l1 .2l1 .1l1-.1l1-.2l1-.5l1-.2l1-.3l1-.1l1-.4l1-.1l1 0l1 .1l1 .2l1 .7l1 1.2l1 1.2l1 .7l1 .6l1 .2l1-.5l1-1.3l1-1.7l1-2.1l1-4.3l1-2.5l1-1.3l1-.1l1 2.7l1 3.9l1 4.3l1 4.5l1 2.6l1 .1l1-1.5l1-1.1l1-.2l1-.3l1-.1l1-.5l1-.2l1 .3l1 .1l1-.4l1-1l1-1l1 0l1 .4l1-.1l1-.8l1-1.2l1-1.2l1-1l1-.9l1-.8l1-.6l1-.4l1 .1l1 .2l1 .6l1 .5l1 .7l1 .7l1 .9l1 .7l1 .7l1 .7l1 .7l1 .5l1 .1l1-.3l1-.5l1-.7l1-.7l1-.5l1-.8l1-.5l1-.1l1 .6l1 .9l1 .8l1 .7l1 .6l1 .4l1 0l1-.2l1-.4l1-.4l1 0l1 .2l1 .4l1 .1l1-3l1-4.2l1-2.5l1-1.3l1 .4l1 2.9l1 3.5l1 4.8l1 3l1 1.2l1-.3l1-.3l1 0l1-.2l1-.7l1-.5l1-.3l1-.3l1-.4l1-.5l1-.5l1-.4l1-.4l1-.4l1-.5l1-.5l1-.6l1-.4l1-.4l1-.5l1-.5l1-.5l1-.5l1-.3l1-.1l1 .2l1 .4l1 .5l1 .8l1 .9l1 .9l1 .9l1 .7l1 .2l1-.5l1-1.1l1-1l1-.8l1-.3l1 .3l1 .6l1 .4l1-.4l1-.3l1 .1l1-.3l1-.2l1 .2l1 .1l1-.1l1-.1l1 .4l1 .7l1 .7l1 .6l1 .5l1 .7l1 .7l1 .3l1 .1l1 0l1 .2l1-.4l1-1.9l1-2.4l1-5l1-2.4l1-1.1l1 .4l1 2.8l1 4.9l1 6.3l1 4.1l1 1.5l1-.5l1-1.4l1-1.6l1-1.5l1-.8l1 .2l1 0l1-.2l1-.5l1-.5l1-.6l1-.6l1-.5l1-.5l1-.5l1-.6l1-.6l1-.7l1-.8l1-.9l1-.6l1-.4l1-.5l1-.8l1-.4l1 0l1 .5l1 .7l1 .8l1 .7l1 .7l1 .8l1 .6l1 .3l1 0l1-.2l1-.1l1-.3l1-.1l1-.2l1-.5l1-.7l1-.6l1-.2l1 .1l1 .2l1 .4l1 .8l1 1l1 .8l1 .4l1 0l1 0l1 0l1 .3l1 .4l1 .4l1 0l1-.6l1-1.1l1-4.1l1-4.3l1-2l1 .4l1 4.1l1 3.9l1 7l1 4.8l1 2.8l1 .1l1-1.9l1-2.8l1-2.8l1-1.1l1-.6l1 0l1 .8l1 .8l1 0l1-.1l1-.5l1-.4l1-.7l1-.7l1-.8l1-.7l1-.7l1-.8l1-.9l1-.9l1-.8l1-.8l1-.7l1-.6l1 0l1 .7l1 .8l1 .4l1 0l1 .5l1 .6l1 .5l1 .8l1 1l1 .5l1-.1l1-.1l1-.2l1-.2l1-.4l1-.7l1-.4l1-.2l1-.1l1 .1l1 0l1 .1l1 .9l1 1.1l1 .7l1 0l1 .1l1 0l1 .1l1 .3l1 .6l1 .5l1 .1l1-.4l1-1l1-1.8l1-2.6l1-5.1l1-.7l1 .3l1 2.4l1 4.2l1 5.8l1 4.4l1 2.4l1-2.1l1-1.5l1-1.2l1-1.6l1-.1l1-.2l1-.9l1-1.2l1-.4l1 .3l1 .3l1-.3l1-.6l1-.6l1-.7l1-.7l1-.7l1-.6l1-.3l1-.3l1-.3l1-.4l1-.3l1-.4l1-.4l1-.3l1-.1l1 .3l1 .5l1 .6l1 .4l1 .6l1 .8l1 .7l1 .4l1 0l1-.2l1-.4l1-.3l1-.2l1-.3l1-.6l1-.5l1-.1l1 .3l1 .5l1 .5l1 .6l1 .6l1 .5l1 .4l1 .7l1 .8l1 .8l1 .5l1 .2l1-.3l1-.5l1-.7l1-1.1l1-2l1-2.8l1-4.6l1-.8l1 2.4l1 3.8l1 5.7l1 6.6l1 3.1l1 1.2l1-3l1-2.7l1-1.3l1-1.2l1-.8l1-.6l1-.2l1-.3l1-.2l1-.3l1-.4l1-.6l1-.3l1 .3l1 .1l1 .1l1 0l1-.3l1-1.6l1-1.7l1-1.2l1 0l1 .8l1-.4l1-.4l1 .1l1-.2l1-.3l1 .6l1 .8l1 .9l1 .7l1 .6l1 .3l1 .3l1 .1l1-.1l1-1.2l1-1.1l1-.2l1-.4l1-.4l1 0l1 .3l1 .5l1 .7l1 .6l1 .5l1 .3l1 .4l1 .6l1 .9l1 1l1 .4l1-.3l1-.6l1-.8l1-.6l1-.5l1-.3l1-.4l1-3.3l1-3.5l1-2.9l1 .2l1 2.8l1 4l1 6.4l1 5.1l1 2l1-1.8l1-2.4l1-2.3l1-2l1-.4l1-.2l1-.3l1-.4l1-.6l1-.5l1-.2l1-.2l1-.2l1-.2l1 0l1 .2l1 .2l1 0l1-.5l1-.6l1-.8l1-.7l1-.7l1-.4l1-.3l1-.1l1-.1l1 .4l1 .7l1 .9l1 1.1l1 1.2l1 .8l1 .1l1 0l1-.2l1-.4l1-.3l1-.2l1-.1l1 0l1 .1l1 .1l1 0l1-.1l1-.2l1 .2l1 .2l1 .6l1 1l1 1.1l1 1l1 .5l1-.2l1-.7l1-.7l1-.2l1-.2l1-.4l1-.9l1-1.6l1-1.9l1-4.3l1-1.1l1 .6l1 3.4l1 3.8l1 6l1 3.4l1 .4l1-.7l1-.9l1-2.7l1-1.4l1-.2l1-.8l1-.6l1 .7l1 1.4l1 .2l1-2.1l1-2.2l1-.3l1 .8l1 .6l1-.5l1-1.2l1-1.2l1-.5l1 .5l1 .4l1-.3l1-.6l1-.4l1-.3l1-.2l1-.3l1-.3l1 .3l1 .8l1 .8l1 .5l1 .4l1 .4l1 .1l1-.2l1-.3l1-.2l1-.3l1-.2l1 0l1 .2l1 0l1 0l1-.1l1 .2l1 .4l1 .5l1 .5l1 .5l1 .5l1 .3l1 .1l1-.1l1-.4l1-.2l1 0l1 .3l1-.7l1-2.9l1-3.1l1-3.4l1-.5l1 1.5l1 2l1 6.1l1 5.4l1 2.7l1 .4l1-.6l1-1.8l1-2l1-.9l1-.7l1-.4l1-.4l1-.2l1-.1l1-.1l1-.2l1-.2l1-.1l1-.1l1-.1l1-.2l1-.3l1-.4l1-.2l1-.2l1-.8l1-.9l1-.9l1-.8l1-.2l1 .2l1 .9l1 1.1l1 .7l1 .1l1 0l1 .4l1 .3l1 .2l1 .1l1 .3l1 0l1-.1l1-.4l1-.5l1-.3l1-.3l1 .1l1 0l1 0l1 .1l1 .1l1 .3l1 .3l1 .4l1 .2l1 0l1 .1l1 .4l1 .8l1 .8l1 .4l1 .3l1-.1l1-.2l1-.3l1-2.6l1-4.2l1-4.3l1-1.2l1 .5l1 2.9l1 7.9l1 11.3"/>
<path d="M121.0 1669.1l1-.3l1-.5l1-.7l1-.3l1 .3l1 .7l1 .9l1 .8l1 .8l1 .9l1 .4l1 .4l1 .3l1 .4l1 .2l1 0l1-.6l1-.8l1-.6l1-.3l1-.2l1-.1l1 .2l1 .2l1 .4l1 .3l1 .2l1 .3l1 .2l1 .1l1 .1l1-.2l1-.3l1-.3l1-.3l1-.1l1-.1l1 0l1 0l1-.1l1-.2l1-.2l1-.2l1-.5l1-.7l1-.4l1 .4l1 1l1 1.6l1 2.5l1 2.3l1 2.8l1 2.3l1 .3l1-2l1-3.9l1-4.9l1-3.5l1-1.1l1-.1l1 0l1 .1l1 .1l1 .2l1 .2l1 .2l1 .1l1 0l1-.2l1-.3l1-.3l1-.1l1 .1l1 .2l1 1.2l1 1.9l1 .9l1 .2l1-.2l1-.2l1-.1l1 0l1 .3l1 0l1 .1l1-.2l1-.2l1-.2l1-.1l1-.3l1-.3l1-.3l1-.1l1 .4l1 1.1l1 .8l1 .6l1 .6l1 .3l1 0l1-.4l1-.7l1-1.2l1-1.6l1-1.8l1-1.9l1-1.4l1-1l1-.4l1 .2l1 .3l1 1.3l1 1.2l1 .5l1 .4l1 .4l1 .3l1 .2l1 .1l1 .3l1 .4l1 .2l1 0l1-.1l1 .2l1 .2l1 .3l1 .3l1 .7l1 .8l1 .8l1 .7l1 .6l1 .3l1 .1l1-.1l1-.3l1-.3l1-.4l1-.5l1-.6l1-.5l1-.8l1-.5l1-.3l1 .1l1 .3l1 .3l1 .3l1 .2l1 .1l1 0l1-.2l1-.2l1-.1l1 0l1-.2l1-.3l1-.1l1 .3l1 .4l1 .3l1 .2l1 .4l1 .5l1 .3l1 .2l1 0l1 .1l1 0l1 .2l1 0l1-.1l1-.3l1-.3l1-.2l1 .1l1 .3l1 .2l1-.2l1-.5l1-.9l1-.9l1-.6l1-.5l1-.7l1 .2l1 2.5l1 2.7l1 2.5l1 1.6l1 .3l1-.9l1-2.8l1-4.2l1-3l1-.4l1 .8l1 .6l1-.1l1 0l1-.1l1-.1l1-.2l1-.6l1 0l1 1l1 1.3l1 .4l1-.4l1-.7l1-.2l1 .4l1 .7l1 .6l1 .5l1 .3l1 .4l1 .2l1 .2l1 .1l1 0l1-.3l1-.3l1-.4l1-.4l1-.5l1-.5l1-.5l1-.4l1-.4l1-.3l1-.2l1-.1l1 .2l1 .3l1 .4l1 .4l1 .6l1 .4l1 .2l1-.3l1-.4l1-.2l1-.2l1-.4l1-.3l1-.2l1 0l1 .3l1 .3l1 .1l1-.1l1-.1l1-.1l1 1.3l1 2l1 1.5l1 1.8l1 1.1l1-.5l1-1.7l1-3.5l1-3.1l1-2.1l1-.2l1 .6l1 1.1l1 1l1 1.2l1 .7l1 .7l1 .5l1 .5l1 .3l1 .4l1 .3l1 .3l1 .2l1 .1l1 .2l1 .1l1 .2l1 .2l1 .4l1 .3l1 .4l1 .1l1 .1l1-.1l1-.2l1-.3l1-.4l1-.7l1-.7l1-.5l1-.6l1-.6l1-.5l1-.4l1-.2l1-.3l1-.1l1-.1l1 0l1 .1l1 .2l1 .9l1 1.1l1 1.2l1 .9l1 .8l1 0l1-.4l1-.8l1-.9l1-.7l1-.8l1-.8l1-.7l1-.6l1-.5l1-.2l1-.1l1 0l1 .1l1 0l1 .3l1 1l1 1.8l1 3.7l1 2.5l1 1.4l1 .5l1-.8l1-2.5l1-4.6l1-3.9l1-2.2l1-.9l1 .5l1 .9l1 .9l1 .6l1 0l1 0l1-.1l1-.4l1-.4l1-.2l1 .2l1 .3l1 .3l1 .2l1 .3l1 .2l1 .5l1 .6l1 .8l1 .7l1 .5l1 .4l1 .5l1 .3l1 .2l1 0l1-.3l1-.3l1-.4l1-.5l1-.5l1-.4l1-.1l1 .1l1 0l1-.1l1-.1l1 .1l1 .1l1 .2l1 .3l1 .1l1-.2l1-.2l1-.1l1-.2l1 .1l1 .2l1 .3l1 .1l1-.2l1-.2l1-.3l1-.3l1-.3l1-.3l1-.1l1 .2l1 .7l1 2.4l1 2.9l1 1.8l1 2l1 1.2l1-.8l1-2.9l1-3l1-3l1-2.2l1-1.5l1 .8l1 1.4l1 .4l1 .4l1 .3l1 .8l1 .6l1 .5l1 .5l1 .4l1 .2l1 0l1-.3l1-.2l1-.3l1-.1l1-.1l1 .1l1 .2l1 .1l1 0l1-.1l1 .1l1 .3l1 .6l1-.4l1-1l1-.4l1 0l1-.1l1-.2l1-.4l1-.5l1-.2l1 .1l1 .2l1 .2l1 .3l1 .6l1 .7l1 .7l1 .4l1 .2l1 .1l1 .2l1 .1l1-.5l1-1.1l1-1l1-.6l1-.2l1-.1l1-.2l1-.2l1-.5l1-.6l1-.5l1-.3l1 0l1 .5l1 1.3l1 4.1l1 2.4l1 1.5l1 .3l1-1.6l1-4.2l1-4.4l1-3.3l1-1.2l1 .3l1 1l1 1.5l1 .5l1 .1l1-.1l1-.1l1 .5l1 .7l1 .7l1 .3l1 .3l1 .2l1 .2l1 .1l1 .3l1 .4l1 .2l1 .2l1 .1l1 .1l1 .1l1 .2l1 .2l1 .3l1 .1l1 .1l1-.1l1-.3l1-.3l1-.6l1-.4l1-.4l1-.1l1 .1l1 .3l1 .3l1 .3l1 .4l1 .6l1 .5l1 .4l1 .1l1 0l1-.1l1-.1l1-.2l1-.3l1-.3l1-.2l1-.2l1-.1l1 0l1 .3l1 .6l1 .6l1 .6l1 .5l1 .6l1 .7l1 1l1 1.9l1 1.5l1 2l1-.6l1-2.3l1-4.6l1-4.3l1-2.8l1-.5l1 .6l1 .6l1 .5l1 .5l1 .2l1 .1l1 0l1 0l1 0l1-.4l1-.8l1-.6l1-.1l1 .2l1 .4l1 .5l1 .6l1 1.4l1 1.4l1 1.5l1 1.7l1 1.2l1 .3l1 0l1-.6l1-1.4l1-1.4l1-.6l1-.5l1-.5l1-.4l1-.6l1-.7l1-.8l1-.4l1 0l1 1.2l1 1.4l1 .7l1 .4l1 .3l1 0l1-.1l1-.4l1-.6l1-.3l1-.4l1-.3l1-.5l1-.5l1-.6l1-.7l1-.3l1 .1l1 .3l1 .2l1-.1l1-.2l1 .1l1 .5l1 1.8l1 2.6l1 2.6l1 1.8l1 .6l1-1.5l1-3l1-3.3l1-3.6l1-1l1-.5l1 .5l1 .7l1 .1l1 0l1 .2l1-.1l1-.3l1-.5l1-.3l1 .1l1 .7l1 1l1 .9l1 .9l1 .8l1 .9l1 .7l1 .7l1 .6l1 .7l1 .6l1 .6l1 .4l1 .3l1 .1l1-.3l1-.6l1-.6l1-.7l1-.8l1-.5l1 0l1 .3l1 .4l1 .2l1 .3l1 .4l1 .7l1 .6l1 .5l1 .1l1 0l1-.1l1-.2l1-.5l1-1l1-1l1-.3l1 0l1 0l1-.1l1-.5l1-.6l1-.6l1-.4l1-.4l1-.2l1-.1l1 .6l1 1.2l1 2.6l1 1.1l1 1l1-.1l1-1.8l1-3.7l1-3.1l1-2.7l1-1l1-.3l1 1.4l1 2l1 1l1 .2l1-.2l1-.1l1 .3l1 1.1l1 1.5l1 .5l1-.7l1-1l1-.4l1 .4l1 .8l1 1.1l1 1l1 1.2l1 1l1 .4l1-.1l1-.3l1-.4l1-.4l1-.3l1-.2l1-.4l1-.6l1-.6l1-.5l1-.4l1-.3l1-.3l1-.1l1 0l1 .1l1 .3l1 .1l1 .1l1 0l1 0l1-.2l1-.1l1-.1l1-.1l1-.1l1-.1l1-.2l1-.1l1-.2l1 .1l1-.1l1-.2l1-.6l1-.5l1-.3l1 .5l1 1.7l1 2l1 2.5l1 2l1 1.2l1 0l1-2.2l1-3.2l1-3.6l1-1.8l1-.8l1 .2l1 .4l1 .1l1 0l1 0l1 0l1 .3l1 .4l1 .6l1 .5l1 .4l1 .2l1 .2l1 .2l1 .2l1 .8l1 1.5l1 1.6l1 1l1 .5l1 .4l1 .3l1 .4l1 .5l1 .2l1-.1l1-.6l1-.7l1-1l1-.8l1-.8l1-.4l1-.5l1-.3l1-.4l1-.2l1-.1l1 .5l1 .9l1 .9l1 .6l1 .5l1 .5l1 .3l1-.2l1-.7l1-.8l1-.8l1-.7l1-.7l1-.6l1-.5l1-.5l1-.5l1-.3l1-.1l1 .2l1 .1l1 .1l1-.2l1 1l1 2l1 2.9l1 1.9l1 1l1-.5l1-3.1l1-5.1"/>
<path d="M121.0 1722.1l1 .1l1 .5l1 .8l1 .4l1 .2l1 .3l1 .4l1 .2l1 .2l1-.3l1-.7l1-.7l1-.9l1-.9l1-.7l1-.3l1 .2l1 .6l1 .5l1-.1l1-.3l1-.2l1 .1l1-.1l1-.1l1-.4l1-.2l1 0l1 .2l1 .1l1 0l1-.2l1-.2l1-.1l1-.1l1-.2l1-.3l1-.5l1-.4l1-.4l1-.3l1-.4l1-.2l1 .2l1 .6l1 1l1 1.2l1 .9l1 1.1l1 1.5l1 .8l1-.7l1-1.8l1-2.3l1-1l1 .5l1 .2l1-.2l1-.4l1 .4l1 .3l1 .2l1 .2l1 .1l1 0l1-.1l1 .1l1 .4l1 .8l1 1l1 .7l1 .2l1-.2l1-.4l1-1.2l1-1.3l1 .3l1 1l1 1.3l1 1.1l1 .3l1-.3l1-.6l1-.6l1-.5l1-.2l1 .3l1 .3l1 .1l1-.2l1-.3l1-.2l1-.2l1 .4l1 .8l1 .7l1 .5l1 .3l1 .3l1 .7l1 1l1 .9l1 .4l1 .3l1 0l1-.7l1-1.3l1-1.9l1-1.8l1-1.3l1-.8l1 .2l1 .4l1-.3l1-.2l1-.2l1-.2l1-.2l1-.2l1-.2l1-.1l1 0l1 .1l1 0l1 .1l1-.2l1-.3l1-.3l1 .1l1 .2l1 .1l1 .3l1 .3l1 .3l1 .2l1 .5l1 .5l1 .4l1 .1l1 .1l1 .3l1 .5l1 .4l1 .1l1-.1l1-.2l1-.4l1-.5l1-.3l1-.2l1 0l1 .1l1 0l1-.1l1-.2l1-.1l1-.2l1-.1l1 0l1 0l1 .1l1 0l1 .1l1 0l1-.1l1-.2l1-.2l1 .1l1 .2l1 .2l1 .3l1 .2l1 .1l1 .1l1 .1l1 0l1-.2l1-.9l1-1l1-.9l1-.1l1 .3l1 .7l1 .7l1 1.2l1 1.3l1 1.4l1 1.9l1 .5l1-.2l1-.6l1-2.1l1-2.3l1-1.8l1-1.5l1-.6l1 0l1 .9l1 .6l1 .2l1 .2l1 .3l1 .4l1 .1l1-.1l1-.1l1 0l1 .3l1 .4l1-.1l1-.1l1 .3l1 .6l1 .7l1 .6l1 .3l1 .2l1 .4l1 .4l1 .3l1 0l1-.1l1-.3l1-.2l1-.2l1-.1l1-.5l1-.4l1-.6l1-.4l1-.4l1-.3l1 0l1 .1l1 .6l1 .6l1 .5l1 .3l1 .2l1 .1l1-.1l1-.3l1-.4l1-.4l1-.3l1-.4l1-.2l1 .1l1 .2l1 .3l1 .2l1 0l1-.2l1-.4l1-.1l1 1.3l1 2.1l1 1.1l1 .3l1-.9l1-1.9l1-1.7l1-1.7l1-.6l1 0l1 .1l1-.3l1-.4l1-.3l1 .1l1 0l1 .1l1 0l1 .1l1 .1l1 .1l1 .1l1 .2l1 .2l1 .4l1 .2l1 .3l1 .2l1 .3l1 .2l1 .3l1 .2l1 .1l1 .1l1-.1l1 0l1-.1l1 0l1-.2l1-.2l1-.4l1-.5l1-.5l1 .1l1 .7l1 1.1l1 .8l1 .5l1 .3l1-.2l1-.3l1-.3l1-.1l1-.4l1-.7l1-.3l1-.2l1-.3l1 .1l1 .5l1 .5l1 .2l1 0l1-.1l1-.1l1-.1l1-.3l1-.3l1-.2l1-.2l1-.3l1-.2l1 0l1 1.3l1 1.1l1 2l1 .4l1 0l1-.9l1-1.7l1-2.4l1-2.3l1-.9l1 .1l1 .9l1 .7l1 .6l1 .6l1 .2l1-.1l1-.1l1 .4l1 .6l1 .6l1 .4l1 .1l1 .2l1 .3l1 .3l1 .3l1 .5l1 .4l1 .3l1 .3l1 .3l1 0l1 .1l1 .3l1 .1l1 0l1-.4l1-.5l1-.4l1-.4l1-.3l1-.4l1-.3l1 0l1 .1l1 .1l1 .1l1 .2l1 .2l1 .1l1 .2l1 .2l1 .2l1 .1l1-.1l1-.2l1 0l1-.3l1-.6l1-.8l1-.4l1-.1l1 .2l1 .1l1 0l1-.2l1-.1l1 .1l1 .4l1 .6l1 1.8l1 1.8l1 .6l1-1.3l1-3.8l1-2.7l1-3.9l1-1.9l1-.4l1 1l1 2.1l1 1.7l1 1.5l1 .6l1 .3l1-.3l1-.9l1-.9l1-.3l1-.1l1 .1l1 .3l1 .5l1 .7l1 .6l1 .6l1 .6l1 .6l1 .6l1 .7l1 .6l1 .5l1 .5l1 .4l1-.3l1-.9l1-.6l1 .2l1 .4l1-.1l1-.1l1-.2l1-.3l1-.6l1-.3l1-.1l1-.1l1 0l1-.1l1 .1l1 .1l1 .1l1-.3l1-.2l1-.1l1 0l1 0l1-.3l1-.3l1 0l1 .3l1 .1l1 0l1-.1l1-.2l1-.2l1-.1l1 .3l1 .6l1 .8l1 1.1l1 1.1l1 1.5l1-.7l1-1l1-2l1-2.6l1-2.2l1-.9l1 .1l1 2.1l1 1l1 .4l1 .6l1-.1l1-.1l1 .9l1 1l1 .2l1-.6l1-.6l1-.1l1 .2l1 .5l1 .4l1 .5l1 .2l1 .3l1 .1l1 .3l1 .1l1 .2l1 .4l1 .2l1 .3l1-.1l1-.1l1-.3l1-.3l1-.2l1-.2l1-.3l1-.5l1-.5l1-.2l1 .1l1 .3l1 0l1 0l1 0l1 .2l1 .2l1 0l1-.2l1-.2l1-.3l1-.2l1-.3l1-.4l1-.3l1-.4l1-.3l1-.5l1-.5l1-.5l1-.2l1 0l1 .1l1 .2l1 .7l1 1.2l1 1.5l1 2.1l1-.3l1-2.8l1-2.5l1-3l1-2.8l1-.1l1 .5l1 2.6l1 1.4l1 .8l1 .7l1 .6l1 .4l1 .2l1 .1l1 .1l1 .2l1 .6l1 .9l1 .5l1-.2l1-.3l1-.3l1-.2l1-.1l1 .6l1 .4l1 .2l1-1l1-1.2l1 .1l1 .4l1 .2l1 1l1 1l1-.1l1-.4l1-.4l1-.3l1-.3l1-.2l1 .2l1 .1l1 .3l1 .4l1 .2l1-.3l1 .2l1 .3l1 0l1-.2l1-.4l1-.4l1-.3l1-.2l1 0l1 .1l1-.1l1-.3l1-.3l1-.2l1 .1l1 .3l1 .4l1 .2l1 .1l1 .2l1 .4l1 1.9l1 1.4l1 .7l1-1.2l1-2.3l1-1.9l1-2.9l1-2.3l1 .3l1 1.7l1 2.1l1 1.2l1 1l1 0l1 .1l1 .2l1 .5l1 .6l1 .7l1 .4l1 0l1-.4l1-.6l1-.4l1-.5l1-.4l1-.2l1 0l1 .2l1 .3l1 .2l1 .4l1 .2l1 .1l1-.1l1-.3l1-.3l1-.2l1-.2l1-.4l1-.6l1-.6l1-.2l1 0l1 0l1 0l1-.1l1-.2l1-.1l1-.2l1 0l1 0l1 .1l1 0l1 .1l1 0l1 .5l1-.1l1-.8l1-1.1l1-.7l1-.2l1 .5l1 .8l1 .7l1 .5l1 .5l1 .6l1 .7l1 .8l1 .7l1 1.7l1 .1l1-1l1-2.3l1-1.8l1-2.5l1-.9l1 1l1 .9l1 .8l1 1.1l1-.1l1-.5l1 .7l1 .7l1-.2l1-1.1l1-.6l1 .8l1 1.3l1 .6l1-.2l1-.4l1 .1l1 .4l1 .5l1 .1l1-.8l1-.9l1-.1l1 .4l1 .5l1 .5l1 .3l1 .5l1 .3l1-.1l1-.4l1-.5l1-.2l1-.1l1-.1l1 .1l1 .2l1 .3l1 .1l1 0l1 .1l1 .2l1 0l1 .1l1 0l1 0l1-.3l1-.3l1-.2l1-.2l1-.4l1-.4l1-.3l1-.3l1 .2l1 .7l1 .8l1 .3l1-.2l1 0l1 1.3l1 1.3l1 1.5l1-.6l1-1.6l1-1.5l1-3.4l1-2.3l1-.4l1 .4l1 .6l1 1.4l1 1.4l1 1l1 .5l1 .4l1 0l1-.1l1-.2l1-.2l1-.1l1 .1l1 .1l1 .2l1 0l1 0l1-.5l1-.8l1-.8l1-.4l1 .5l1 .4l1 .4l1 .4l1 .2l1-.2l1-.5l1-.5l1-.2l1 .2l1 .2l1 .1l1 0l1 .2l1 .2l1 .3l1 .1l1-.1l1-.2l1-.2l1-.2l1-.2l1-.2l1-.2l1-.1l1 0l1 .1l1 .3l1 .1l1 .3l1 .2l1 .4l1 .2l1 .1l1-.3l1-.4l1-.3l1-.1l1-.1l1 .1l1 .2l1 1.5l1 2.2l1 1.9l1 0l1-1l1-1.9l1-4.4l1-6"/>
<path d="M121.0 1774.7l1 .2l1-.1l1-.1l1-.2l1-.4l1-1l1-1.1l1-.8l1-1l1-.7l1-.1l1 .2l1 .4l1 .5l1 .4l1 .4l1 .4l1 .1l1 .2l1 .4l1 .7l1 .4l1 .1l1-.3l1-.4l1-.2l1-.1l1-.3l1-.2l1-.2l1 .1l1 .2l1 .3l1 .5l1 .5l1 .5l1 .6l1 .6l1 .5l1 .3l1 .4l1 .3l1 .4l1 .2l1 .1l1-.5l1-1.5l1-2.2l1-2.7l1-3.9l1-2.7l1-1.9l1-.2l1 2l1 3.1l1 3.2l1 4.8l1 3.6l1 1.4l1-.4l1-.5l1-.5l1-.3l1-.2l1-.1l1-.2l1-.2l1-.5l1-.7l1-.7l1-.5l1-.1l1 0l1 0l1 0l1-.3l1-1.2l1-1.1l1-1.1l1-.7l1-.2l1 .2l1 .4l1 .3l1 .5l1 .4l1 .2l1 .1l1-.1l1 .1l1 .5l1 .6l1 .4l1-.7l1-1.9l1-1.3l1-1l1-.9l1-.8l1-.8l1-.7l1-.1l1 1.1l1 1.3l1 1.8l1 2.5l1 2.5l1 2.8l1 2.2l1 1.2l1 .3l1-1.5l1-1.4l1-.4l1-.1l1-.1l1 0l1-.2l1-.1l1 0l1 0l1 0l1-.2l1-.1l1 0l1 0l1-.1l1-.4l1-.9l1-1l1-.7l1-.9l1-.7l1-.5l1-.3l1-.3l1-.4l1-.4l1 .2l1 .5l1 .5l1 .2l1 .2l1 .3l1 .3l1 .3l1 .3l1 .2l1 0l1-.1l1-.1l1 .1l1 .2l1 .4l1 .2l1 .2l1 .2l1 .2l1 .1l1-.3l1-.4l1-.5l1-.5l1-.3l1-.1l1-.2l1-.2l1-.3l1-.3l1-.3l1-.3l1-.1l1 0l1 .1l1 .1l1 .2l1 .3l1 .5l1 .9l1 .7l1 .7l1 .8l1 .6l1 .1l1-.8l1-.9l1-1.9l1-4.3l1-3l1-2l1-1l1 1.7l1 3.1l1 4.5l1 5.6l1 3.7l1 .6l1-1.4l1-1.2l1-.4l1-.3l1-.5l1-.3l1 .1l1 .6l1 .1l1-.9l1-1.4l1-.7l1 .5l1 .7l1-.1l1-.9l1-1.2l1-1.3l1-.9l1-.9l1-.7l1-.6l1-.3l1-.1l1 .2l1 .5l1 .6l1 .6l1 .8l1 .8l1 .7l1 .6l1 .8l1 .9l1 .7l1 .1l1-.2l1-.6l1-.7l1-.8l1-.7l1-.7l1-.5l1 0l1 .5l1 .7l1 .9l1 .8l1 1l1 .5l1-.1l1-.4l1-.6l1-.4l1-.1l1 .1l1 .2l1 .2l1-2.7l1-4.1l1-2.6l1-1.8l1-.2l1 2.6l1 3.5l1 5.5l1 3.5l1 1.7l1-.3l1-.6l1-.4l1-.7l1-1.2l1-1.1l1-.7l1-.5l1-.3l1-.2l1-.4l1-.4l1-.3l1-.4l1-.4l1-.5l1-.6l1-.6l1-.4l1-.5l1-.7l1-.7l1-.5l1-.2l1 .2l1 .4l1 .5l1 .4l1 .8l1 .9l1 .9l1 .8l1 .9l1 .5l1 .1l1-.4l1-.6l1-.5l1-.4l1 .3l1 .5l1 .2l1-.7l1-1l1-.7l1-.9l1-.3l1 .4l1 .5l1 .3l1 .3l1 .4l1 .7l1 .7l1 .8l1 1l1 1l1 .8l1 .1l1-.2l1 0l1 .2l1-.3l1-2.1l1-3.1l1-5.7l1-2.9l1-1.2l1 .3l1 2.6l1 4.9l1 6.9l1 5l1 2.2l1 0l1-1.5l1-1.6l1-1.4l1-.8l1 .1l1 .1l1 0l1-.2l1-.3l1-.4l1-.4l1-.6l1-.7l1-.6l1-.7l1-.4l1-.7l1-.8l1-1l1-1l1-.7l1-.6l1-.6l1-.4l1-.1l1 .4l1 .7l1 .7l1 .8l1 .5l1 .8l1 .5l1 .3l1-.2l1 0l1 0l1 .1l1-.1l1-.3l1-.4l1-.4l1-.4l1 0l1 0l1 0l1 .3l1 .4l1 .5l1 .4l1 .2l1 .3l1 0l1 .1l1 .2l1 .6l1 .4l1 .1l1-.5l1-1l1-4l1-4.8l1-2.5l1-.7l1 2.6l1 3.3l1 6.7l1 5l1 3.4l1 1.2l1-.5l1-2.3l1-2.7l1-1l1-.7l1-.4l1 .1l1 .2l1-.1l1-.5l1-.5l1-.6l1-.5l1-.5l1-.4l1-.4l1-.4l1-.4l1-.6l1-.8l1-.6l1-.7l1-.6l1-.7l1-.1l1 .3l1 1.1l1 .7l1 .3l1 .4l1 .4l1 .6l1 .7l1 .9l1 .6l1-.1l1-.1l1-.3l1-.3l1-.6l1-.7l1-.6l1-.2l1-.2l1-.2l1-.1l1 0l1 1.1l1 1.5l1 .8l1 .2l1 .1l1 .2l1 .3l1 .3l1 .3l1 .7l1 .4l1 0l1-.9l1-1.8l1-2.7l1-5.7l1-1.7l1-.4l1 1.7l1 4.1l1 6.4l1 5.4l1 3.3l1-.8l1-1.2l1-1.5l1-2.2l1-.5l1-.2l1-.4l1-.7l1-.4l1-.1l1-.1l1-.5l1-.5l1-.7l1-.5l1-.6l1-.5l1-.5l1-.4l1-.4l1-.4l1-.4l1-.5l1-.5l1-.3l1-.2l1 0l1 .3l1 .5l1 .5l1 .5l1 .6l1 1l1 .7l1 .4l1-.3l1-.4l1-.5l1-.3l1-.3l1-.7l1-.6l1-.5l1 0l1 .2l1 .5l1 .5l1 .6l1 .6l1 .5l1 .5l1 .6l1 .4l1 .3l1 .1l1-.3l1-.5l1-.6l1-.7l1-1.2l1-1.7l1-2.5l1-4.2l1-1.4l1 .8l1 3.3l1 5.5l1 7.2l1 4.4l1 2.2l1-2.1l1-2.3l1-1.3l1-1.1l1-1l1-.6l1-.3l1-.2l1-.1l1-.3l1-.2l1-.3l1 .1l1 .4l1 .2l1-.1l1-.2l1-.7l1-1.9l1-2l1-1.5l1-.7l1 .3l1-.3l1-.4l1 .1l1 .4l1 .6l1 .9l1 .9l1 .7l1 .6l1 .7l1 .9l1 .9l1 .5l1-.2l1-1.8l1-1.9l1-.6l1-.6l1-.4l1 .1l1 .5l1 .7l1 .6l1 .4l1 .4l1 .5l1 .7l1 .7l1 1.3l1 1l1 .5l1-.6l1-.6l1-.7l1-.2l1-.2l1-.3l1-.6l1-3.6l1-3.9l1-3.5l1-.4l1 2.1l1 3.8l1 5.9l1 5.2l1 3.2l1-.8l1-1.5l1-1.8l1-1.7l1-.3l1-.3l1-.3l1-.4l1-.2l1-.2l1 0l1 0l1-.4l1-.7l1-.4l1-.3l1-.3l1-.6l1-.7l1-.8l1-1l1-1l1-.8l1-.6l1-.5l1-.3l1 0l1 .6l1 .9l1 1l1 1.2l1 1.3l1 .8l1 .1l1-.2l1-.3l1-.4l1-.3l1-.4l1-.4l1-.4l1-.2l1 0l1 .1l1 .1l1-.1l1 .4l1 .5l1 .9l1 1l1 .8l1 .7l1 .4l1 0l1-.1l1-.3l1-.1l1 0l1 0l1-.5l1-1.3l1-2.1l1-4.5l1-1.8l1-.3l1 2.5l1 4l1 6.5l1 4.2l1 1.6l1 0l1-.4l1-2.6l1-2.1l1-.7l1-.9l1-.3l1 .7l1 1l1-.3l1-2.4l1-1.9l1 0l1 1.1l1 .7l1-.5l1-1.3l1-1.5l1-.9l1-.1l1-.1l1-.5l1-.4l1-.4l1-.2l1-.3l1 .1l1 .2l1 .9l1 .9l1 .9l1 .6l1 .6l1 .5l1 .2l1-.3l1-.4l1-.5l1-.3l1-.1l1 .1l1 0l1-.2l1-.1l1-.1l1 .4l1 .6l1 .5l1 .5l1 .3l1 .4l1 .3l1 .3l1-.1l1-.1l1-.1l1 .3l1 .4l1-.6l1-3.1l1-3.4l1-3.9l1-1.3l1 .6l1 1.5l1 5.7l1 5.5l1 3.8l1 1.3l1 0l1-1.7l1-1.9l1-1l1-.5l1-.3l1-.1l1-.1l1-.2l1-.2l1-.3l1-.3l1-.2l1-.1l1-.2l1-.3l1-.8l1-1.3l1-1l1-.7l1-.7l1-.7l1-.6l1-.6l1-.4l1 .1l1 .5l1 .9l1 .6l1 .4l1 .5l1 .7l1 .6l1 .4l1 .4l1 .4l1 .1l1 0l1-.4l1-.6l1-.6l1-.4l1-.4l1-.3l1 0l1 .2l1 .5l1 .5l1 .4l1 .4l1 .5l1 .5l1 .5l1 .7l1 .7l1 .6l1 .1l1 0l1 .1l1 0l1-.1l1-2.5l1-4.2l1-4.8l1-1.9l1 .1l1 2.6l1 7.6l1 10.9"/>
<path d="M121.0 1824.1l1 .2l1 .5l1 .4l1 .5l1 .4l1 .6l1 .5l1 .3l1-.1l1-.5l1-.4l1-.3l1 0l1-.1l1-.1l1-.2l1-.1l1-.3l1-.5l1-.3l1 0l1 .9l1 .8l1 .1l1-.9l1-.9l1 0l1 .7l1 .8l1 .4l1 0l1-.1l1-.3l1-.2l1-.2l1 0l1-.1l1-.2l1-.2l1-.1l1 0l1 0l1-.1l1-.1l1 .1l1 .2l1 .4l1 .6l1 1.8l1 2l1 3.3l1 2.4l1 1.2l1-.3l1-3.4l1-5.1l1-4.1l1-1.6l1-.6l1 .3l1 1l1 .9l1 .4l1 0l1 .1l1 .4l1 .4l1 0l1-.1l1 .3l1 .6l1 .6l1 .2l1 .1l1 .3l1 .3l1 .2l1-.1l1 .3l1 .3l1 .7l1 .6l1 .3l1-.2l1-.2l1-.3l1-.2l1-.3l1-.4l1-.2l1-.1l1-.1l1-.3l1-.4l1-.5l1-.6l1-.3l1-.6l1-.6l1-1.2l1-1.1l1-1l1-1.1l1-.9l1-.1l1 1.4l1 1.2l1 .2l1-.7l1-.7l1-.3l1 1.6l1 2.2l1 1.6l1 .6l1 .3l1 .3l1 .3l1 .2l1 .2l1 .1l1 .5l1 .4l1 .5l1 .1l1 .4l1 0l1 .2l1-.2l1 .1l1 .1l1 .6l1 .3l1 .1l1-.5l1-.6l1-.7l1-.3l1-.4l1-.4l1-.6l1-.7l1-.4l1-.4l1 0l1-.2l1-.2l1-.2l1 .1l1 .3l1 .1l1-.5l1-1l1-.9l1-.4l1 0l1 0l1 .2l1 .3l1 .4l1 .3l1 .1l1-.2l1 0l1-.1l1 .2l1 .2l1 .6l1 .4l1 .3l1 .2l1 .1l1 .4l1 .3l1 .3l1 .1l1-.2l1-.5l1-.7l1-.4l1-.2l1 .1l1 .1l1 .3l1 .3l1 1.4l1 1.9l1 2.1l1 2.3l1 1.5l1 .4l1 .1l1-2.2l1-3.2l1-4.8l1-2.5l1-.8l1-.4l1 .3l1 1l1 1.2l1 .6l1 .4l1 .2l1 0l1 0l1-.2l1-.2l1-.4l1 0l1 0l1 .2l1 .4l1 .7l1 .6l1 .4l1 .2l1 .2l1 .4l1 .5l1 .5l1 .5l1 .4l1 .3l1 .1l1 0l1 .1l1 .1l1-.9l1-2.2l1-1.5l1-.9l1-.5l1 .1l1 1.5l1 1.6l1 .7l1 .5l1 .4l1 0l1-.3l1-.5l1-.8l1-.8l1-.7l1-.4l1-.4l1-.5l1-.5l1-.5l1-.2l1 .2l1 .6l1 .9l1 1l1 1.9l1 2.3l1 2l1 1.9l1 .2l1-.1l1-2.6l1-3.7l1-3.7l1-1.8l1-.3l1-.3l1-.1l1 0l1 .1l1 .1l1 .3l1 .3l1 .3l1 .3l1 .1l1 0l1-.1l1 .1l1 .1l1 .5l1 .6l1 .5l1 .3l1 .2l1 .3l1 .4l1 .3l1 .5l1 .6l1 .4l1 0l1-.2l1-.2l1-.4l1-.6l1-.5l1-.3l1 .2l1 .2l1 .2l1-.1l1-.1l1 .2l1 .6l1 .7l1 .5l1 .2l1-.1l1 .1l1 .1l1 .1l1-.1l1-.1l1-.3l1-.4l1-.3l1-.3l1-.2l1-.4l1-.4l1-.5l1 0l1 0l1 .2l1-.3l1 0l1 .1l1 1.1l1 2l1 2.2l1 2.2l1 1.5l1 .5l1-.9l1-3.4l1-5l1-2.8l1-.8l1-.3l1 .7l1 1l1 .9l1 .2l1 .2l1 .2l1 .5l1 .3l1 .1l1-.3l1-.4l1-.7l1-.5l1-.5l1-.2l1 .4l1 1.1l1 1.2l1 1.1l1 1.2l1 1l1 .6l1 .5l1 .2l1-.2l1-1l1-1.6l1-1.5l1-1l1-.5l1-.5l1-.3l1 .2l1 .3l1 .5l1 .3l1 .3l1 .7l1 .7l1 .7l1 .1l1 0l1-.1l1-.1l1-.2l1-.4l1-.5l1-1l1-.8l1-1l1-.6l1-.4l1 0l1 0l1 0l1 .1l1 .2l1 .6l1 1.4l1 1.9l1 2.3l1 3.2l1 1.7l1 .8l1-1.9l1-3.4l1-4.7l1-2.7l1-1.3l1-.7l1 .5l1 1.1l1 .8l1 0l1-.3l1 0l1 .2l1 .5l1 .3l1 .1l1 .1l1 .5l1 1.1l1 1l1 .5l1-.2l1-.4l1-.4l1-.3l1 .6l1 1l1 1.1l1 .6l1 .5l1 .2l1 .2l1-.1l1-.2l1-.5l1-.5l1-.5l1-.5l1-.5l1-.3l1 .1l1 1l1 1.4l1 .9l1-.2l1-.3l1-.7l1-.5l1-.7l1-.4l1-.4l1-.4l1-.3l1-.1l1-.2l1-.1l1-.1l1 .2l1 .1l1 .1l1 0l1 .2l1 .3l1 .6l1 1.4l1 1.8l1 1.9l1 2.1l1 1.1l1 .6l1-.8l1-3.5l1-4.1l1-4.3l1-1.9l1-1l1 .1l1 1.2l1 1.6l1 1.6l1 1.7l1 1.1l1-.3l1-1.6l1-1.7l1-.6l1-.4l1-.3l1 0l1 .7l1 .9l1 1l1 .5l1 .4l1 .1l1 .5l1 .9l1 1.1l1 .5l1-.5l1-1.2l1-1.2l1-.4l1-.4l1-.2l1-.2l1 0l1 .1l1 .1l1-.1l1 0l1-.2l1-.1l1 .5l1 .8l1 .7l1 .4l1 0l1-.1l1-.1l1-.3l1-.4l1-.4l1-.5l1-.6l1-.7l1-.8l1-.6l1-.1l1 0l1 0l1-.1l1 0l1 .2l1 1.2l1 2.9l1 3.2l1 4.1l1 2.2l1 .9l1-1.3l1-4.5l1-4.8l1-4.5l1-1.2l1-.8l1 .3l1 1.2l1 1.3l1 .4l1 .2l1 .1l1 .1l1 .4l1 .7l1 .8l1 .5l1 .4l1 .5l1 .6l1 .5l1 0l1-.2l1-.2l1-.1l1-.2l1-.2l1 .2l1 .6l1 .7l1 .4l1-.1l1-.5l1-.6l1-.5l1-.5l1-.3l1-.3l1 .1l1 .3l1 .2l1-.3l1-.2l1 .3l1 .7l1 .7l1 .4l1 .4l1 .1l1 .1l1-.2l1-.2l1-.6l1-.5l1-.5l1-.6l1-.6l1-.8l1-.7l1-.5l1-.2l1 0l1 .4l1 .5l1 1.2l1 2l1 2.2l1 2.6l1 2.5l1 1.5l1 .9l1-2.8l1-4.7l1-6.5l1-3.5l1-2.1l1-.2l1 1l1 1.2l1 1.1l1 1.2l1 1l1 .3l1 .3l1-.1l1 .1l1 .1l1 .2l1 .1l1 .3l1 .3l1 .3l1 .2l1 .4l1 .5l1 .4l1 .1l1-.2l1-.1l1-.2l1 .1l1 0l1 .3l1-.1l1-.3l1-.7l1-.8l1-.6l1 0l1 .3l1 .2l1 .1l1-.2l1 .1l1 .1l1 .5l1 .3l1 .2l1 .1l1 .2l1 .5l1 .1l1-.1l1-.5l1-.4l1-.4l1-.2l1-.1l1 0l1-.1l1-.1l1-.1l1 .2l1 .2l1 .2l1 .3l1 1.9l1 3l1 2.9l1 2.2l1 .6l1 0l1-3.9l1-3.9l1-3.7l1-.8l1-.1l1 0l1 .4l1 .5l1 .5l1 0l1-.1l1-.2l1-.1l1-.2l1-.1l1-.1l1 .3l1 .6l1 .8l1 .7l1 .3l1 .2l1-.1l1 0l1 .4l1 .8l1 1l1 .8l1 .4l1-.1l1-1.1l1-1.4l1-1.3l1-.3l1-.1l1-.3l1-.4l1-.3l1 .4l1 1.1l1 1.4l1 .9l1 .4l1-.7l1-1l1-1.2l1-.5l1-.3l1 .1l1 .1l1 .4l1 .1l1-.4l1-.8l1-.7l1-.5l1-.1l1 .1l1 .4l1 .4l1 .6l1 .8l1 .9l1 1.8l1 2.7l1 1.6l1 .8l1 .1l1-2.3l1-2.7l1-4l1-2l1-1.1l1-.5l1 0l1 .5l1 .7l1 .6l1 0l1-.3l1-.3l1-.1l1 .1l1 0l1 .1l1 .1l1 0l1 .3l1 .5l1 .7l1 .4l1 .3l1 .4l1 .4l1 .1l1 .1l1 .1l1 .1l1 .1l1-.1l1-.2l1-.2l1-.5l1-.5l1-.5l1-.2l1 .2l1 .4l1 .4l1 .1l1 .5l1 .9l1 1.1l1 .7l1 .2l1-.1l1 0l1-.5l1-.3l1-.5l1-.1l1-.3l1-.2l1-.4l1-.2l1 0l1-.1l1-.2l1-.3l1-.2l1-.2l1 .3l1 .5l1 2.2l1 3l1 3.2l1 2.4l1 1.4l1-.5l1-4l1-4.4l.3-1.4"/>
<path d="M121.0 1894.7l1 .2l1 0l1-.1l1 0l1 .3l1 .4l1 .4l1 .2l1 .3l1 .1l1 .1l1-.1l1-.3l1-.4l1-.4l1-.4l1-.2l1-.2l1 0l1-.1l1 0l1-.2l1 0l1 .2l1 .8l1 .5l1 .3l1 .1l1-.1l1 .2l1 .2l1 .4l1 .1l1-.2l1-.4l1-.4l1-.2l1-.1l1-.1l1-.4l1-.3l1-.3l1-.1l1-.1l1-.1l1 0l1 .4l1 1.7l1 2l1 3.1l1 3l1 2.3l1 .8l1-1.1l1-2.9l1-5.3l1-3.2l1-2l1-.5l1 0l1 .7l1 1.5l1 .7l1-.2l1-.3l1-.1l1-.1l1 0l1 0l1 .2l1 .5l1 .5l1 .4l1 .4l1 .2l1 .3l1 .1l1 .3l1 .4l1 .7l1 .5l1 .3l1-.1l1-.3l1-.5l1-.7l1-.6l1-.5l1-.1l1 .1l1 0l1-.1l1-.5l1-.8l1-.8l1-.8l1-.9l1-.9l1-.6l1-.3l1-.1l1 .1l1 .1l1 .2l1 .3l1 .2l1-.1l1-.3l1-.3l1 0l1 1.2l1 1.8l1 1.6l1 .5l1 .5l1 .4l1 .4l1 .3l1 .2l1 0l1 0l1 0l1 .2l1 .4l1 .4l1 .5l1 .1l1 0l1-.2l1-.1l1 0l1-.1l1-.3l1-.5l1-.2l1-.1l1-.1l1-.2l1-.5l1-.3l1-.6l1-.4l1-.6l1-.5l1-.4l1-.2l1-.1l1-.1l1-.1l1-.1l1-.2l1 .1l1 .1l1 .2l1 .3l1 0l1 .2l1-.2l1 .1l1-.1l1 .2l1 .1l1 .3l1 .2l1 .2l1-.1l1 0l1-.2l1-.2l1 .4l1 .6l1 1l1 .6l1 .8l1 .4l1-.1l1-1.1l1-1.5l1-1l1-.5l1-.3l1-.3l1 0l1 .3l1 1.1l1 1.3l1 2.2l1 2.5l1 2.2l1 1.7l1-.1l1-.3l1-2.2l1-3.6l1-3.4l1-2.1l1-.9l1-.3l1 .7l1 1l1 .3l1 0l1-.3l1-.4l1-.4l1-.3l1-.2l1-.2l1 0l1 .2l1 .3l1 .4l1 .2l1 .2l1 0l1 .3l1 .6l1 .6l1 .4l1 .2l1 .1l1 .2l1 .1l1-.1l1-.3l1-.4l1-.2l1 0l1 .2l1 .2l1 .4l1 0l1-.1l1-.3l1 0l1-.2l1-.2l1 0l1 .3l1 .6l1 .3l1 .3l1 0l1 0l1-.2l1-.3l1-.1l1-.2l1-.3l1-.5l1-.3l1-.4l1 0l1 0l1 1.4l1 2.3l1 2.1l1 2.3l1 1.1l1 .5l1-.8l1-3.2l1-2.8l1-2.7l1-1.5l1-.8l1 .2l1 .5l1 .4l1 .2l1 0l1-.1l1-.2l1-.4l1-.5l1-.4l1-.2l1-.1l1 .1l1 .3l1 .2l1 .5l1 .9l1 1.2l1 1l1 .8l1 .1l1-.2l1-.2l1-.1l1 .1l1-.2l1-.3l1-.3l1-.2l1 .1l1 .5l1 .6l1 .4l1-.1l1-.5l1-.7l1-.4l1 0l1 .3l1 .2l1 0l1 .2l1 .3l1 .4l1 .5l1 .2l1 .3l1-.1l1-.2l1-.4l1-.2l1-.1l1-.2l1-.1l1-.1l1-.1l1-.4l1-.4l1-.2l1-.2l1 .1l1 .4l1 .9l1 1.7l1 2.1l1 1.9l1 1.9l1 .3l1-1.1l1-3.3l1-3.9l1-2.1l1-1.1l1-.2l1-.3l1-.1l1 .1l1-.1l1 0l1 0l1 .1l1 .2l1 .5l1 .6l1 .6l1 .3l1 .3l1 .1l1 .1l1 .1l1 .1l1 .2l1 .2l1 .1l1 0l1 .1l1 0l1-.1l1-.1l1 0l1 .7l1 .8l1 .3l1-.6l1-.8l1-.7l1 .2l1 0l1 .1l1-.4l1-.2l1-.4l1 .1l1 .1l1 .4l1 .4l1 .5l1 .4l1 .2l1-.5l1-.7l1-.5l1-.3l1-.6l1-.4l1-.2l1 .2l1 .2l1 .1l1 0l1 .3l1 .7l1 1.1l1 2.1l1 3.2l1 2.2l1 1.8l1-.4l1-2.5l1-3.4l1-3.5l1-2.2l1-1.1l1 .4l1 .3l1 .3l1-.1l1 0l1-.2l1 0l1 0l1 .2l1 .1l1-.1l1-.1l1-.3l1-.2l1-.4l1 0l1 .9l1 1.4l1 1.2l1 .9l1 1.2l1 .3l1-.3l1-.8l1-.2l1 0l1-.1l1-.5l1-.3l1-.2l1 0l1 .2l1 .5l1 .2l1-.3l1-.8l1-.6l1 0l1 .5l1 .7l1 .7l1 .9l1 .9l1 .5l1-.6l1-1.3l1-1l1-.4l1-.1l1-.3l1 .1l1 0l1-.2l1-.4l1-.5l1-.1l1-.1l1 .1l1-.2l1 .2l1 .4l1 3.8l1 4.1l1 3.7l1 1.3l1 .6l1-2.7l1-4.3l1-5.6l1-2.5l1-1.1l1-.2l1 .3l1 .3l1 .3l1 .2l1 .4l1 .2l1 .2l1 .2l1 .1l1 0l1-.2l1 0l1 0l1 .1l1 0l1 0l1 .1l1 .1l1 .2l1 .1l1 .2l1 .5l1 .5l1 .2l1 .2l1-.1l1-.1l1-.2l1 0l1-.1l1-.1l1-.1l1-.2l1-.1l1 .3l1 .3l1 .2l1-.1l1-.1l1 .1l1 0l1-.1l1 .1l1 .3l1 0l1-.6l1-.9l1-.5l1-.2l1 0l1-.2l1 0l1-.1l1 0l1-.4l1-.1l1 .1l1 1.3l1 1.6l1 4.4l1 4l1 2.7l1 .6l1-1.8l1-3.9l1-5.5l1-2.1l1-1.1l1-.5l1-.3l1-.2l1-.2l1-.1l1 0l1 0l1 .4l1 .8l1 .9l1 .7l1 .3l1 .2l1 .1l1 .2l1 .4l1 .4l1 .4l1 .2l1 .2l1-.1l1 .1l1 0l1 .2l1 .2l1 0l1 .1l1-.1l1-.1l1-.5l1-.4l1-.3l1 0l1 0l1 0l1-.1l1-.2l1-.1l1-.3l1-.2l1-.1l1 .1l1 .2l1 .2l1 .3l1 0l1 0l1-.3l1-.3l1-.5l1-.3l1-.1l1 .2l1 .2l1 .3l1 0l1 0l1-.3l1 0l1 .1l1 .5l1 2.6l1 3l1 2.9l1 1l1 .4l1-2.4l1-3.1l1-3.8l1-2.2l1-1.6l1-.5l1 .2l1 .7l1 .5l1 .4l1 0l1 .2l1 0l1 .1l1-.1l1 0l1 .1l1 0l1 0l1 .1l1 .1l1 .3l1 .3l1 .4l1 .3l1 .1l1 .1l1 .1l1 .1l1-.1l1-.2l1-.2l1-.3l1-.3l1-.4l1-.2l1-.2l1 0l1 .2l1 .1l1 .2l1 0l1 .4l1 .2l1 .4l1 0l1-.2l1 .2l1 .2l1 .3l1-.1l1-.3l1-.3l1-.3l1-.3l1-.2l1 0l1 0l1 0l1 0l1 .1l1 .4l1 .9l1 1.3l1 1.8l1 2.8l1 1.8l1 1l1-.2l1-.3l1-1.9l1-3.8l1-3.1l1-2l1-.2l1 0l1 .1l1-.1l1 .2l1 .2l1 .5l1 .3l1 .5l1 .5l1 .5l1 .7l1 .6l1 .4l1-.6l1-1.3l1-1l1 0l1 .6l1 .7l1 .4l1 .1l1 .2l1 .2l1 .4l1 .3l1 0l1-.2l1-.5l1-.4l1-.5l1-.2l1-.1l1 .1l1 .1l1 .2l1 .1l1 .1l1 0l1 .3l1 .3l1 .5l1 .4l1 .2l1-.1l1-.5l1-.5l1-.4l1-.4l1-.6l1-.4l1-.3l1 0l1 .2l1 0l1 0l1 .2l1 .5l1 .8l1 1.5l1 1.6l1 2.3l1 1.3l1 .2l1-.7l1-3.1l1-3.5l1-3.6l1-.9l1-.3l1 0l1 .2l1 .4l1 .4l1 .3l1 .3l1 .2l1 .1l1-.1l1-.1l1 0l1-.1l1 0l1 .2l1 .4l1 .7l1 .3l1 0l1-.3l1-.1l1 .2l1 .3l1 .3l1 .1l1 .2l1 .1l1 0l1-.2l1-.2l1-.3l1-.1l1 0l1 .2l1 .4l1 .6l1 .6l1 .5l1 .1l1-.1l1-.1l1 .1l1-.1l1 0l1 .2l1 .2l1 .4l1 0l1-.2l1-.7l1-.5l1-.3l1-.1l1-.4l1-.3l1-.2l1 .4l1 .3l1 .6l1 .4l1 .5l1 1.3l1 2.6l1 3l1 2.1l1 .9l1-.7l1-3.1l1-4.3l.3-1.5"/>
<path d="M121.0 1945.0l1-.3l1 0l1-.2l1-.1l1-.5l1-.5l1-.7l1-.5l1-.2l1 0l1-.2l1-.1l1 0l1 .3l1 .6l1 .8l1 .6l1 .8l1 .9l1 .9l1 .4l1-.1l1-.4l1-.3l1-.3l1-.1l1-.3l1-.2l1 .1l1 .5l1 .6l1 .5l1 .3l1 .2l1 .3l1 .2l1 .1l1 0l1-.1l1 .2l1 .3l1 .3l1 0l1-.3l1-.3l1-.5l1-.4l1-.4l1 0l1 .4l1 4.7l1 6.2l1 7.4l1 5.9l1 .5l1-4.6l1-6.7l1-5.5l1-3.6l1-1.8l1-.8l1-.4l1-.3l1-.2l1-.3l1-.3l1-.1l1 .1l1-.1l1-.2l1-.3l1-.1l1 .1l1 .2l1 .1l1 .1l1-.2l1-.4l1-.4l1-.1l1 0l1 0l1-.1l1-.2l1-.2l1-.1l1-.1l1-.2l1-.1l1 .2l1 .7l1 .6l1 .2l1-.6l1-1.6l1-1.7l1-2l1-2.4l1-2.5l1-2.4l1-2.4l1-2.3l1-2.6l1-1.4l1 4.3l1 8.8l1 9.7l1 6.5l1 1.6l1-.1l1-.7l1-.9l1-.2l1 0l1 0l1 0l1-.1l1 .6l1 .9l1 .9l1 .8l1 .7l1 .9l1 .9l1 .8l1 .8l1 .6l1 .2l1-.5l1-.8l1-.9l1-1.3l1-1.9l1-2.1l1-2.4l1-2.2l1-1.6l1-.7l1-.6l1-.4l1-.1l1 0l1 0l1-.4l1-.2l1-.4l1-.1l1-.2l1-.1l1-.4l1-.2l1-.1l1 .2l1 .2l1 .3l1 .1l1 .1l1 0l1 0l1-.1l1-.2l1-.1l1 .1l1 .1l1 .2l1-.1l1 0l1-.2l1-.7l1-.4l1 .5l1 .8l1 .7l1 .2l1 .1l1 0l1-.2l1 0l1 .2l1 .3l1 .3l1 .2l1-.1l1 .1l1-.1l1 .3l1 .3l1 .6l1 1.1l1 5.9l1 6.9l1 6.7l1 3.8l1-.5l1-6.1l1-6.7l1-6l1-3.1l1-2l1-1l1-.9l1-.7l1-.3l1-.2l1 .3l1 .2l1 .2l1-.4l1-.5l1-.5l1-.1l1-.1l1 0l1-.2l1-.2l1-.3l1-.3l1-.3l1-.2l1 0l1 .3l1 .6l1 .5l1 .4l1 .4l1 .4l1 .3l1 .2l1 .2l1 .1l1 .1l1 .1l1 .1l1 .2l1 .2l1 0l1-.1l1-.1l1 .1l1 .2l1 .5l1 .4l1 .2l1 .1l1 .2l1 .2l1 .2l1 .1l1 .1l1-.1l1-.2l1-.2l1 0l1-.1l1-.1l1-.3l1-.1l1 7.3l1 9.2l1 7.6l1 3.7l1-.3l1-5.6l1-6.3l1-6.9l1-3.9l1-3l1-1.4l1-.7l1-.3l1-.2l1-.3l1-.5l1-.4l1-.2l1-.1l1-.1l1-.2l1-.1l1 0l1-.1l1-.1l1-.3l1-.6l1-.6l1-.4l1-.2l1 .1l1 0l1-.1l1-.2l1 .4l1 .8l1 .8l1 .9l1 .8l1 .7l1 .4l1 .2l1 .3l1 .4l1 .1l1-.3l1-.7l1-.6l1-.3l1-.1l1-.1l1-.2l1-.4l1 .3l1 .8l1 .7l1 .2l1-.1l1 .1l1-.1l1 0l1 .2l1 .3l1 .2l1-.2l1-.1l1-.1l1 .2l1-.1l1-.2l1-.5l1-.1l1 .5l1 1.4l1 6.5l1 7.5l1 6.7l1 4.9l1 1l1-4l1-6.2l1-7.6l1-5.6l1-3.4l1-1.5l1-.9l1-.4l1-.4l1 0l1 .1l1 .1l1-.3l1-.3l1-.2l1 0l1 .2l1-.1l1-.4l1-.6l1-.6l1-.3l1-.3l1-.3l1-.2l1 .1l1 .1l1 .3l1 .2l1 .2l1 .1l1 .3l1 .2l1 .2l1 .1l1 .2l1 .5l1 .3l1 .2l1 0l1 .1l1 .3l1 .2l1 .2l1 .2l1 .4l1 .3l1 .2l1 0l1 .2l1 .1l1 0l1-.2l1-.3l1-.1l1 0l1 .3l1 .1l1 .2l1 0l1 .1l1-.1l1 0l1-.3l1 1l1 4.7l1 9l1 8.4l1 5.7l1-1.4l1-3.9l1-6.7l1-6.2l1-5.1l1-3.2l1-2l1-1.2l1-.3l1-.2l1 .1l1 0l1-.2l1-.4l1-.5l1-.6l1-.3l1-.3l1-.2l1-.1l1-.2l1-.1l1-.2l1-.1l1 0l1 0l1 .1l1 .1l1 .3l1 .3l1 .3l1 .6l1 1l1 1l1 .6l1 .1l1 0l1-.1l1 0l1 0l1 0l1-.1l1-.2l1-.2l1-.5l1-.4l1 .2l1 .7l1 .5l1 .1l1 0l1 .2l1 .1l1 .2l1 0l1 .1l1-.2l1-.3l1-.2l1-.1l1 .1l1 .3l1 .5l1 .4l1 .4l1 1.6l1 4.8l1 7.9l1 7.4l1 5.8l1-.5l1-3.9l1-5.8l1-6.3l1-5.1l1-3.8l1-2.1l1-1.4l1-.5l1-.1l1-.1l1-.1l1-.4l1-.5l1-.6l1-.5l1-.3l1-.1l1-.3l1-.3l1-.5l1-.2l1-.3l1-.3l1-.7l1-.7l1-.5l1 0l1 .4l1 .8l1 .8l1 .7l1 .6l1 .8l1 .9l1 .9l1 .9l1 .8l1 .1l1-.4l1-.5l1-.2l1-.1l1 .1l1 .2l1 0l1 .1l1-.1l1-.1l1 .1l1 .3l1 .3l1 .1l1 .1l1 0l1-.1l1-.2l1-.2l1-.3l1-.3l1 0l1 .2l1 .1l1-.2l1-.2l1 .2l1 2.9l1 9.6l1 8.4l1 5.5l1 1.3l1-4.2l1-5.5l1-6.8l1-4.7l1-3.6l1-1.5l1-1.1l1-.8l1-.6l1-.5l1-.5l1-.2l1 .3l1 .5l1 .8l1 .6l1 .5l1 .1l1 .2l1 .1l1-.1l1-1.1l1-1.3l1-.9l1-1l1-.7l1-.4l1 .2l1 .2l1 .4l1 .6l1 1.1l1 1.1l1 .5l1 .1l1 .2l1 .2l1 .1l1-.3l1-.5l1-.4l1 0l1-.1l1-.1l1-.4l1 0l1 .5l1 .8l1 .5l1 .5l1 .5l1 .3l1 0l1 0l1 .3l1 .3l1 .2l1-.2l1-.1l1-.2l1-.2l1-.2l1-.2l1-.1l1-.3l1 .1l1 5.3l1 8.3l1 7.7l1 5.4l1 0l1-3.8l1-5.9l1-7.2l1-5l1-3.6l1-1l1-.7l1-.4l1-.1l1 0l1 0l1 0l1-.2l1 0l1-.1l1-.2l1-.2l1-.1l1-.2l1-.4l1-.4l1-.1l1-.1l1-.2l1-.6l1-.7l1-.5l1 .1l1 .5l1 .9l1 .7l1 0l1-.4l1-.5l1-.1l1 0l1 0l1-.2l1-.3l1-.1l1-.1l1 0l1 .1l1 .4l1 .7l1 .7l1 .4l1 .5l1 .2l1 .2l1 .1l1 .4l1 .6l1 .5l1 .2l1-.1l1-.4l1-.3l1-.2l1-.2l1-.3l1-.3l1 .1l1 .7l1 5.4l1 7.8l1 8l1 6l1 3.7l1-2.2l1-5.1l1-7.1l1-6.2l1-4.6l1-3.5l1-1.5l1-.9l1-.5l1 0l1-.1l1-.3l1-.4l1-.1l1 .4l1 .4l1 .3l1 .2l1-.2l1-.5l1-.9l1-.9l1-.7l1-.5l1-.3l1-.1l1-.1l1 0l1 .3l1 .4l1 .3l1 .4l1 .7l1 .8l1 .7l1 .2l1 .1l1 .1l1-.2l1-.3l1-.3l1-.2l1 0l1 .1l1 .3l1 .3l1 .6l1 .4l1 .4l1 .3l1 .2l1 .1l1 .2l1 .3l1 .1l1 0l1-.1l1 .2l1 .4l1 .3l1 .1l1-.2l1-.3l1 .2l1 7.1l1 8.2l1 6.5l1 4.1l1-1.3l1-4.6l1-6l1-6.2l1-4.4l1-3.5l1-1.6l1-.8l1-.5l1-.6l1-.1l1 0l1 .2l1-.2l1-.1l1-.3l1-.3l1-.5l1-.5l1-.5l1-.2l1-.3l1-.4l1-.7l1-.5l1-.3l1 0l1-.2l1-.2l1 .1l1 .7l1 .9l1 .8l1 .6l1 .6l1 .7l1 .5l1 .3l1 0l1 0l1 .1l1-.1l1-.2l1-.1l1 .1l1-.1l1-.2l1-.1l1 .3l1 .5l1 .3l1 .2l1 .1l1 .1l1 .1l1-.1l1 .3l1 .3l1 .3l1 .1l1 0l1 .2l1 .2l1-.1l1-.2l1-.3l1 4.3l1 6.9l1 9.5l1 6.1l1 3.8l1-2.7l1-7.4l.3-3.7"/>
<path d="M121.0 2000.6l1-.4l1-.8l1-.7l1-.5l1-.5l1-.6l1-1l1-.8l1-.5l1-.1l1-.1l1 .1l1 .1l1 .6l1 .7l1 .8l1 .6l1 1l1 1.1l1 .9l1 .5l1 .1l1 .2l1-.2l1-.5l1-.6l1-.3l1 0l1 .1l1 .3l1 .4l1 .4l1 .4l1 .3l1 .3l1 .2l1 .2l1 .1l1 .4l1 .2l1 .3l1-.3l1-.4l1-.3l1-.1l1 .1l1 0l1-.2l1-.4l1-.2l1 1.5l1 2l1 2.3l1 1.1l1-.9l1-1.7l1-.4l1-.3l1-.2l1-.3l1-.2l1-.2l1-.2l1 0l1 0l1-.2l1-.4l1-.8l1-.5l1-.3l1 0l1 .1l1 .2l1 .2l1 .1l1-.2l1-.7l1-.9l1-.9l1-.5l1-.6l1-.6l1-.5l1-.1l1 0l1 0l1 0l1 0l1 .6l1 .7l1 .5l1 .3l1 .2l1-1l1-2.7l1-2.7l1-2.8l1-2.7l1-2.5l1-2.7l1-3l1-2.6l1-2.4l1-.1l1 6.1l1 10.7l1 10.5l1 7.2l1 3.2l1-1.1l1-2.1l1-1.1l1-.6l1-.2l1 .1l1 .5l1 .6l1 .7l1 .9l1 1.1l1 .8l1 .7l1 .6l1 .6l1 .3l1 0l1-.2l1-.4l1-.6l1-.8l1-1.3l1-1.8l1-2l1-1.8l1-1.9l1-1.7l1-1.1l1-1.2l1-.9l1-.4l1-.1l1 .1l1 .2l1 .1l1-.2l1-.3l1 .1l1 .3l1 .1l1 .1l1-.1l1 .1l1 0l1 .2l1 0l1-.1l1-.1l1 .1l1 .1l1 .1l1 0l1-.2l1 0l1-.1l1 .1l1 0l1 0l1-.3l1 0l1-.1l1 .3l1 .5l1 .5l1 .4l1 .1l1 .2l1 .2l1 .1l1 .1l1 0l1 .1l1 .1l1 .4l1 .3l1 .2l1 0l1 .1l1 .4l1 2.1l1 3.5l1 3.7l1 2.3l1 1.1l1-.2l1-1.9l1-2.7l1-3.3l1-2.4l1-1.7l1-1.3l1-.6l1-.2l1-.1l1 0l1-.2l1-.4l1-.2l1-.3l1 0l1-.1l1-.2l1-.4l1-.7l1-.5l1-.4l1-.7l1-.6l1-.8l1-.5l1-.6l1-.4l1 .1l1 .2l1 1l1 .8l1 .7l1 .5l1 .9l1 1l1 .9l1 .7l1 .4l1 .3l1 0l1-.4l1-.4l1-.2l1-.1l1-.2l1-.1l1 .3l1 .6l1 .6l1 .6l1 .2l1 .2l1-.1l1 0l1-.1l1-.1l1-.1l1 0l1 .2l1 .1l1 .2l1 .2l1 .4l1 1.8l1 4.2l1 4.6l1 2.5l1 .9l1-2l1-3l1-3.7l1-3l1-2l1-1.5l1-.9l1-.2l1-.3l1-.3l1-.2l1-.2l1-.2l1-.3l1-.4l1-.3l1-.2l1-.3l1-.4l1-.7l1-.5l1-.6l1-.3l1-.4l1-.3l1-.4l1-.4l1 0l1 .5l1 .6l1 .8l1 1.3l1 1.6l1 1.3l1 .7l1 .7l1 .6l1 .5l1 0l1-.2l1-.3l1-.3l1-.3l1-.2l1-.2l1-.3l1-.3l1-.6l1-.3l1 .2l1 .6l1 .5l1 .2l1 .3l1 .6l1 .5l1 .2l1 .1l1-.1l1 .2l1 .1l1 .2l1 .1l1 .1l1 .1l1-.1l1-.2l1-.1l1 1.9l1 2.6l1 2.8l1 2.2l1 1.1l1 0l1-1.5l1-2.2l1-1.8l1-2.2l1-1.8l1-1.4l1-1l1-.6l1-.1l1-.2l1 0l1-.2l1-.3l1-.5l1-.3l1-.3l1-.2l1-.3l1-.4l1-.6l1-.6l1-.7l1-.6l1-.5l1-.5l1-.4l1-.3l1 .1l1 .4l1 .7l1 .6l1 .7l1 .9l1 .9l1 .5l1 .2l1 .3l1 .1l1 0l1-.2l1-.1l1-.2l1-.1l1 0l1 .1l1 .5l1 .5l1 .5l1 0l1 .2l1-.1l1 0l1-.2l1 0l1 .1l1 .5l1 .2l1 .2l1-.1l1-.1l1-.2l1 0l1 .1l1 .4l1 1.1l1 3.1l1 3.5l1 3l1 0l1 .2l1-.4l1-1.7l1-1.9l1-1.7l1-1.8l1-1.4l1-.9l1-.6l1-.3l1-.1l1 .1l1-.2l1-.3l1-.6l1-.6l1-.6l1-.4l1-.3l1-.5l1-.5l1-.5l1-.4l1-.4l1-.4l1-.6l1-.7l1-.4l1-.2l1 .8l1 1l1 1.2l1 1l1 1.2l1 .8l1 .3l1-.1l1-.1l1 0l1 0l1 0l1 0l1 .1l1-.2l1 0l1 0l1 .1l1 0l1-.2l1 0l1 .1l1 .1l1-.1l1 0l1 0l1 .2l1 .3l1 0l1 .3l1 0l1 .4l1 .4l1 .3l1 .1l1 0l1 .4l1 1.1l1 3.2l1 2.4l1 1.7l1-.3l1-.7l1-1.2l1-1.4l1-1.4l1-1.2l1-1.4l1-.7l1-.5l1-.4l1-.6l1-.2l1-.3l1-.3l1-.5l1-.3l1-.2l1-.2l1-.3l1-.4l1-.3l1-.5l1-.7l1-.7l1-.7l1-.6l1-.3l1-.1l1 .3l1 .5l1 .7l1 .9l1 1.1l1 1.2l1 .9l1 .5l1 .3l1 .4l1 .1l1 .1l1-.3l1-.4l1-.3l1 0l1 .1l1 .2l1 .1l1 .2l1-.1l1 0l1 .1l1 .2l1 .3l1 0l1 0l1-.3l1-.1l1-.2l1-.1l1 0l1-.1l1-.1l1-.3l1-.2l1 .1l1 .6l1 1.7l1 4.4l1 3.4l1 2.2l1-.1l1-.2l1-1.1l1-1.7l1-1.4l1-1.7l1-1.7l1-1.6l1-1.4l1-.4l1 0l1 0l1-.3l1-.3l1-.3l1 .1l1 .2l1 .1l1-.1l1-.2l1-.5l1-.9l1-.9l1-1.1l1-1.1l1-1l1-.5l1-.7l1-.6l1 .1l1 .9l1 1.3l1 1.3l1 1.5l1 1.3l1 .7l1 .1l1-.2l1-.2l1 .1l1-.1l1-.3l1-.8l1-.5l1-.5l1-.1l1 .3l1 1l1 1l1 .7l1 .2l1 .3l1 .2l1 .2l1 .1l1 .2l1 .3l1 .2l1 .1l1-.1l1 0l1-.1l1 .2l1 .1l1 .1l1-.2l1 .5l1 3.4l1 2.9l1 2.4l1 .7l1 .5l1-.3l1-2l1-2.4l1-2.4l1-2l1-1l1-1l1-.8l1-.4l1 0l1 .3l1 .1l1-.2l1-.5l1-.5l1-.6l1-.4l1-.2l1-.1l1-.2l1-.2l1-.6l1-.9l1-.9l1-.9l1-1l1-.8l1-.2l1 .6l1 .9l1 .9l1 1l1 1.2l1 1.1l1 .6l1-.1l1-.6l1-.7l1-.4l1-.2l1-.3l1-.4l1-.1l1 .5l1 .8l1 .8l1 .6l1 .4l1 .2l1 .4l1 .5l1 .6l1 .5l1 .8l1 .7l1 .4l1-.2l1-.3l1-.1l1-.1l1 .2l1 0l1 .1l1 .1l1 1.1l1 4.5l1 4.3l1 3.1l1 1.2l1-.4l1-2.8l1-2.6l1-2.7l1-2.7l1-2l1-1.5l1-1.1l1-.6l1-.3l1-.1l1 0l1 0l1 0l1-.1l1-.2l1 0l1-.4l1-.8l1-1.1l1-.7l1-.7l1-.7l1-.5l1-.6l1-.5l1-.4l1-.1l1 .3l1 .5l1 .8l1 .7l1 .8l1 .9l1 .8l1 .8l1 .7l1 .7l1 .2l1-.4l1-.9l1-.9l1-.5l1 .2l1 .8l1 .6l1 .4l1 0l1 .4l1 .6l1 .7l1 .2l1 .1l1-.1l1 .1l1 0l1 .1l1 .2l1 .3l1 .1l1 .1l1 0l1 .2l1 .3l1 3.1l1 2.9l1 2.6l1 1.1l1 .4l1-.8l1-2.1l1-2l1-2l1-2l1-1.3l1-1.1l1-.9l1-.7l1-.5l1-.3l1-.2l1-.3l1-.4l1-.4l1-.1l1-.2l1-.3l1-.5l1-.8l1-.8l1-.6l1-.5l1-.6l1-.7l1-.7l1-.2l1 .1l1 .6l1 .4l1 .6l1 .8l1 1.3l1 1.2l1 1.1l1 .6l1 .3l1 .1l1 .1l1 .1l1 0l1-.1l1 .1l1 0l1 .2l1 0l1-.2l1 0l1 0l1 .3l1 .3l1 .3l1-.1l1-.1l1 0l1 .2l1 .3l1 .3l1 0l1-.1l1-.1l1 0l1 0l1 0l1 .1l1 2.7l1 3.2l1 3.2l1 1.6l1 .7l1-.9l1-1.5"/>
<path d="M121.0 2072.8l1 0l1-.2l1-.4l1-.6l1-.6l1-.8l1-.7l1-.8l1-.4l1-.5l1-.2l1-.2l1 .3l1 .4l1 .6l1 .3l1 .5l1 .6l1 .7l1 .2l1 .2l1 .2l1 .4l1 .1l1 0l1-.2l1-.2l1-.1l1 0l1 0l1-.1l1 0l1 .2l1 .1l1 .3l1 .4l1 .6l1 .4l1 .2l1 .2l1 .1l1 .4l1 .3l1 .1l1-.2l1-.2l1-.4l1-.7l1-1.6l1-2.7l1-3.4l1-4.4l1-3.4l1-2.5l1 .3l1 4l1 6.6l1 6.2l1 2.9l1 .8l1 0l1 0l1 .3l1-.2l1-.3l1-.6l1-.2l1-.3l1-.3l1-.5l1-.4l1-.2l1-.3l1-.2l1-.3l1-.3l1-.5l1-.1l1-.2l1-.3l1-.5l1-.4l1-.1l1-.1l1 .2l1-.1l1 0l1-.2l1-.1l1 0l1 .2l1 .6l1 .3l1-.8l1-2.4l1-2.5l1-2.9l1-3.4l1-3.7l1-3.7l1-3.6l1-2.9l1-2.3l1 1.1l1 8l1 13.2l1 10.6l1 5.6l1 1.8l1-1.2l1-2l1-1.1l1-.4l1-.1l1 .1l1 .2l1 .3l1 .5l1 .5l1 .5l1 .4l1 .3l1 .4l1 .6l1 .5l1 .1l1-.9l1-1.5l1-1.6l1-1.8l1-2.4l1-2.3l1-1.8l1-1.5l1-1.1l1-.8l1-.7l1-.4l1 .1l1 .7l1 .7l1 .5l1 .4l1 .5l1 .1l1 .2l1-.1l1 .3l1 .4l1 .5l1 .3l1 .2l1 0l1-.1l1-.1l1-.3l1-.1l1-.1l1 .1l1 .1l1 0l1 0l1 0l1 0l1-.1l1-.3l1-.2l1-.1l1 .1l1 .2l1 .2l1 .1l1-.1l1 0l1 .2l1 .2l1 .3l1 0l1 0l1 0l1 .3l1 .4l1 0l1 .4l1 .8l1 .9l1-.2l1-.9l1-1.9l1-4.5l1-3.6l1-2.5l1-.8l1 2.4l1 4.3l1 6.1l1 2.7l1 .8l1-.2l1-.7l1-.7l1-.5l1-.3l1 0l1-.1l1-.3l1-.3l1-.3l1-.3l1-.4l1-.2l1 0l1 0l1-.3l1-.7l1-.8l1-.7l1-.6l1-.4l1-.4l1-.4l1-.3l1-.1l1 .3l1 .4l1 .7l1 .7l1 .8l1 .6l1 .5l1 .3l1 .4l1 .3l1 .3l1-.1l1-.2l1-.3l1-.4l1-.2l1 0l1 .4l1 .4l1 .4l1 .4l1 .4l1 .3l1 .2l1 .1l1 0l1 0l1 0l1 0l1 0l1-.5l1-.1l1 .2l1-.4l1-3.5l1-4.1l1-4.7l1-1.3l1 1.9l1 4.2l1 6.5l1 3.5l1 1.9l1-.4l1-1.1l1-1l1-.5l1-.6l1-.5l1-.3l1-.2l1-.2l1-.3l1-.3l1-.2l1-.3l1-.2l1-.4l1-.5l1-.5l1-.8l1-.4l1-.3l1-.4l1-.3l1-.4l1-.3l1-.1l1 .6l1 .9l1 1.1l1 1.1l1 1.2l1 .9l1 .4l1-.1l1 .1l1 .2l1 .2l1 .2l1-.3l1-.6l1-.5l1-.4l1-.3l1-.4l1 0l1 0l1 .3l1 .1l1 .4l1 .4l1 .7l1 .3l1 .5l1 .2l1 .3l1 .1l1 .2l1 0l1 0l1-.4l1-.1l1 0l1 .1l1 .1l1 0l1-1.8l1-2.9l1-4.4l1-4l1-2l1-.1l1 4l1 6.1l1 6.3l1 2l1 .5l1-.8l1-1.1l1-1l1-.5l1-.1l1-.1l1-.2l1-.6l1-.6l1-.3l1-.1l1 0l1 0l1-.2l1-.5l1-.5l1-.5l1-.4l1-.6l1-.7l1-.6l1-.4l1-.2l1-.1l1 .1l1 .2l1 .5l1 .8l1 .7l1 .8l1 .7l1 .6l1 .2l1-.1l1-.2l1-.4l1-.5l1-.2l1 0l1 .1l1-.1l1-.2l1 0l1 .2l1 .4l1 .3l1 .2l1-.1l1-.1l1 0l1 .3l1 .4l1 .3l1 .3l1 .2l1 .1l1 .3l1 .2l1 .3l1-1.7l1-3.2l1-5.3l1-4.5l1-2.1l1 .1l1 4.7l1 7l1 6.9l1 2.1l1 .4l1-.8l1-1.3l1-.8l1-.4l1-.3l1-.4l1-.4l1-.4l1-.4l1-.3l1-.1l1 0l1-.4l1-.7l1-.8l1-.6l1-.4l1-.4l1-.5l1-.8l1-.7l1-.4l1-.3l1-.2l1 .3l1 1l1 1.3l1 1l1 1.1l1 .6l1 0l1-.2l1-.2l1 0l1 .1l1-.1l1-.5l1-.4l1-.3l1 .2l1 .2l1 .4l1 0l1-.1l1-.3l1 0l1 .4l1 .5l1 .4l1 .2l1-.1l1 0l1-.1l1-.1l1 0l1 0l1 .4l1 .3l1 .2l1-1l1-3.6l1-3.9l1-4.1l1-1.9l1-.8l1 2.2l1 5.4l1 7.4l1 3.7l1 1.2l1-.4l1-.7l1-.8l1-.5l1-.1l1-.1l1-.1l1-.5l1-.6l1-.5l1-.3l1-.5l1-.4l1-.5l1-.2l1-.2l1-.2l1-.4l1-.7l1-.5l1-.3l1 .1l1 .1l1 .4l1 .1l1 .5l1 .5l1 .7l1 .1l1 .5l1 .5l1 .8l1 .5l1 .2l1 0l1-.1l1-.3l1-.6l1-.6l1-.4l1-.3l1 .1l1 0l1 .3l1 .3l1 .2l1 0l1 .1l1 .2l1-.1l1 0l1-.1l1 .3l1 0l1 .1l1-.4l1-.2l1-.1l1 0l1-.6l1-1.8l1-4.8l1-3.2l1-2.4l1-.3l1 4l1 6.5l1 6.4l1 1.8l1 .5l1-.4l1-1.1l1-1.1l1-1.1l1-1l1-.6l1 0l1-.2l1-.1l1 0l1 .2l1 .1l1 .2l1 0l1-.2l1-.4l1-1l1-2.3l1-1.9l1-1.4l1-1l1-.3l1 .2l1 .4l1 .4l1 .8l1 .8l1 1.1l1 .8l1 .8l1 .6l1 .7l1 .4l1 .2l1-.3l1-.5l1-.6l1-.5l1-.4l1 0l1 .1l1 .5l1 .3l1 .5l1 .3l1 .2l1 0l1 .2l1 .2l1 .4l1 .3l1 .6l1 .4l1 .4l1 .2l1 .2l1 .3l1 .4l1 .3l1-1.2l1-3.8l1-4.4l1-4.4l1-2.4l1-1.4l1 .4l1 3.5l1 6.8l1 6.5l1 3l1 .1l1-1l1-1l1-.3l1-.2l1-.1l1-.2l1-.1l1-.4l1-.6l1-.7l1-.6l1-.3l1-.4l1 0l1-.4l1-.3l1-.6l1-.6l1-1l1-1.1l1-1.2l1-.9l1-.3l1 .2l1 .6l1 .9l1 1l1 .9l1 .7l1 .4l1 .2l1 0l1-.1l1-.3l1-.4l1-.4l1-.5l1 0l1 .3l1 .6l1 .5l1 .4l1 .3l1 .2l1 .1l1 .1l1 .4l1 .7l1 1l1 .7l1 .2l1-.3l1 0l1 .1l1 0l1-.2l1 .1l1 .3l1 .1l1-3l1-3.6l1-4.3l1-2.3l1-.7l1 1.1l1 5l1 5.8l1 4.4l1 1.8l1 0l1-1.3l1-1.5l1-.8l1-.3l1-.2l1-.1l1 0l1 0l1-.1l1-.4l1-.5l1-.7l1-.8l1-.5l1-.5l1-.5l1-.6l1-.8l1-.8l1-1l1-.7l1-.5l1 0l1 .2l1 .5l1 .5l1 .7l1 .8l1 .6l1 .6l1 .6l1 .5l1 .4l1 .1l1-.2l1-.5l1-.6l1-.3l1 .1l1 .3l1 .4l1 .5l1 .3l1 .2l1 .2l1 .3l1 .3l1 .3l1 .3l1 .3l1 .2l1 .3l1 .2l1 .3l1 .2l1 .2l1 .1l1-2.3l1-3.9l1-5.1l1-3.8l1-1.9l1 .6l1 4.3l1 6.8l1 5.5l1 2.3l1 .7l1-.5l1-.9l1-.8l1-.4l1-.3l1-.1l1-.3l1-.4l1-.5l1-.5l1-.3l1-.3l1-.1l1-.3l1-.3l1-.3l1-.4l1-.8l1-1.2l1-1.2l1-.8l1-.6l1-.2l1-.2l1 .3l1 .5l1 .8l1 .8l1 .7l1 .7l1 .6l1 .3l1 0l1 .2l1 .4l1 .2l1 .2l1-.2l1-.4l1-.3l1-.3l1-.2l1-.3l1-.1l1 0l1 .2l1 .2l1 0l1 .2l1 .2l1 .2l1 .1l1 .2l1 .3l1 .4l1 .3l1 0l1 .1l1 .3l1 .2l1-.3l1-4.3l1-4.5l1-4.3l1-2.3l1-.4l1 3.7l.3 1.3"/>
<path d="M121.0 2125.0l1 0l1-.2l1-.3l1-.4l1-.1l1-.3l1-.5l1-.7l1-.6l1-.3l1-.1l1-.3l1-.1l1-.1l1 .3l1 .5l1 .6l1 .7l1 .6l1 .3l1-.1l1-.2l1-.2l1-.3l1-.1l1 0l1 .1l1 0l1-.1l1-.2l1-.3l1 0l1 .1l1 .3l1 .3l1 .3l1 .2l1 .5l1 .6l1 .7l1 0l1-.2l1-.4l1-.3l1-.3l1-.2l1-.6l1-.7l1-1.9l1-3.4l1-3.8l1-4.4l1-3.5l1-1.9l1 2.4l1 4.8l1 8.2l1 5.1l1 2.6l1 .2l1 .2l1 .2l1 0l1-.1l1-.5l1-.3l1-.2l1-.1l1-.4l1-.5l1-.2l1 0l1 .2l1 .1l1-.3l1-.9l1-1.1l1-.8l1-.6l1-.4l1-.3l1 .1l1 .3l1 .2l1 .2l1 0l1-.5l1-.4l1 .2l1 .9l1 .7l1 .3l1-.2l1-.5l1-1.8l1-3.2l1-2.6l1-2.4l1-1.9l1-1.6l1-1.7l1-1.4l1-.2l1 3.4l1 6.2l1 8l1 5l1 2.7l1 1.1l1-1l1-1.7l1-1l1-.7l1-.2l1 0l1 .5l1 .3l1 .3l1 0l1 0l1 .2l1 .3l1 .1l1-.1l1-.1l1-.4l1-.1l1-.9l1-1l1-1.5l1-1.7l1-1.8l1-1.2l1-.8l1-.4l1-.2l1 .2l1 .2l1 .4l1 .2l1 .4l1 .4l1 .4l1 .2l1 0l1 0l1 .1l1 .1l1 .1l1-.1l1-.1l1 0l1 .2l1 .3l1 .3l1 .2l1 .1l1-.3l1 0l1-.2l1 0l1-.3l1-.3l1-.1l1 .2l1 .5l1 .3l1 .5l1 .2l1 0l1-.3l1-.2l1-.2l1 0l1 0l1 .2l1 .3l1 .4l1 .4l1 .2l1 .1l1 .1l1 .2l1 .4l1 .3l1 0l1-.5l1-2.6l1-3.3l1-5.3l1-4.3l1-3.6l1-1.4l1 3.4l1 6.2l1 8.9l1 4.1l1 1.6l1-.3l1-.6l1-.7l1-.2l1-.1l1 .1l1-.1l1-.2l1-.3l1-.3l1-.4l1-.5l1-.5l1-.3l1-.2l1-.2l1-.6l1-.4l1-.4l1-.1l1-.3l1-.3l1-.5l1-.1l1-.1l1 .4l1 .3l1 .4l1 .2l1 .4l1 .4l1 .4l1 .2l1 .1l1 0l1 .1l1 .2l1 .2l1 0l1-.3l1-.3l1-.4l1-.3l1-.3l1-.1l1 .3l1 .9l1 .8l1 .4l1-.2l1-.1l1 .2l1 .1l1-.1l1-.4l1-.3l1 .1l1 0l1-.8l1-5.1l1-5.5l1-6.3l1-1.4l1 3.5l1 6l1 8.3l1 4.3l1 2.2l1-.4l1-1.2l1-.8l1-.3l1 0l1-.1l1-.1l1-.4l1-.4l1-.6l1-.4l1-.5l1-.2l1-.2l1-.3l1-.3l1-.3l1-.4l1-.4l1-.4l1-.1l1-.1l1 0l1-.3l1 0l1 .3l1 .7l1 .4l1 .5l1 .7l1 .8l1 .5l1 .1l1 0l1-.2l1 0l1-.3l1-.4l1-.4l1-.2l1-.2l1-.5l1-.7l1-.6l1-.2l1 .2l1 .4l1 .4l1 .4l1 .5l1 .6l1 .7l1 .5l1 .4l1-.1l1-.1l1-.2l1 0l1 .2l1 .1l1-.1l1-.3l1-.1l1 0l1-3.9l1-4.8l1-5.5l1-3.4l1-2.2l1 .9l1 4.2l1 8.2l1 6.9l1 4.1l1 .2l1-.7l1-.6l1-.3l1-.3l1-.4l1-.3l1-.3l1-.2l1-.2l1 .1l1-.2l1-.2l1-.8l1-.5l1-.5l1-.1l1-.3l1-.4l1-.7l1-.5l1-.5l1-.5l1-.6l1-.1l1 .2l1 .4l1 .4l1 .4l1 .4l1 .3l1 .2l1 0l1 .1l1 .1l1-.2l1-.4l1-.3l1 0l1 .3l1 .2l1 .2l1 .3l1 .1l1-.1l1-.3l1-.1l1 .1l1 .4l1 .2l1 .2l1 .1l1 .1l1 .2l1 .1l1 .3l1 .1l1 .3l1 0l1-1.1l1-4.4l1-4.9l1-5.2l1-3.2l1-1.2l1 3.1l1 6.1l1 9.3l1 4.1l1 2.1l1-.1l1-.5l1-.4l1-.4l1-.3l1-.6l1-.6l1-.4l1-.3l1-.2l1-.2l1-.3l1-.3l1-.5l1-.4l1-.6l1-.4l1-.4l1-.2l1-.4l1-.2l1-.3l1-.4l1-.6l1-.4l1 .2l1 .5l1 .8l1 .5l1 .6l1 .5l1 .4l1 .3l1-.1l1-.2l1-.5l1-.3l1-.3l1-.3l1-.2l1 .1l1 .1l1-.2l1-.5l1-.4l1-.2l1 .2l1 .5l1 .4l1 .6l1 .1l1 .3l1 0l1 .2l1 .2l1 .2l1-.1l1-.4l1-.3l1-.2l1-2.8l1-4l1-4.7l1-3.5l1-2.3l1 .9l1 4l1 8l1 6.1l1 3.3l1 1l1-.5l1-.9l1-.6l1 0l1 .2l1 .1l1-.1l1-.3l1-.1l1-.3l1-.4l1-.6l1-.4l1-.5l1-.2l1-.3l1-.2l1-.4l1-.4l1-.4l1-.2l1 0l1 .3l1 .3l1 .2l1 .3l1 0l1 0l1 .2l1 .3l1 .4l1 .3l1 .4l1 .3l1-.1l1-.1l1 0l1 0l1-.3l1-.5l1-.2l1 .1l1 .1l1 .2l1 .1l1 .1l1-.1l1 0l1-.1l1 .2l1 .3l1 .1l1-.2l1-.3l1-.3l1 .1l1 0l1-.2l1-.7l1-1.4l1-5.3l1-4.2l1-3.6l1 .6l1 3.6l1 7.3l1 5.4l1 2.9l1 1l1-.2l1-.7l1-.8l1-1.1l1-1l1-.7l1 .1l1 .1l1 0l1-.1l1-.4l1-.2l1 0l1 .4l1 .3l1 .2l1-.4l1-1.4l1-1.8l1-1.4l1-1.1l1-1.2l1-.6l1 0l1 .5l1 .5l1 .6l1 .7l1 .7l1 .6l1 .3l1 .3l1 .6l1 .4l1 .4l1 0l1 0l1-.4l1-.3l1-.6l1-.4l1-.3l1 .2l1 .3l1 .3l1 .2l1 .1l1 .2l1 .3l1 .4l1 .3l1 .4l1 .4l1 .5l1 .3l1 0l1 0l1 .1l1 .5l1 .1l1-2.9l1-4.8l1-6l1-4.4l1-2.7l1-.6l1 3.8l1 7.2l1 8.8l1 4.2l1 1.8l1-.6l1-1.2l1-.8l1-.3l1-.2l1-.4l1-.2l1 .1l1 .5l1 .2l1-.4l1-.6l1-.8l1-.5l1-.3l1-.1l1-.1l1-.2l1-.6l1-.9l1-.9l1-.7l1-.8l1-.5l1-.1l1 .5l1 .8l1 .6l1 .3l1 .3l1 .5l1 .5l1 .1l1-.2l1-.1l1-.1l1-.2l1-.6l1-.4l1-.2l1 .1l1 .2l1 .2l1 .4l1 .6l1 .8l1 .2l1 .4l1 .6l1 .8l1 .3l1-.1l1-.3l1-.1l1-.1l1-.3l1-.2l1-.1l1 .4l1-.2l1-4.6l1-5.8l1-5.3l1-2.4l1-.5l1 3.5l1 6.6l1 8.3l1 3.4l1 1.4l1-.7l1-1l1-.6l1-.1l1-.3l1-.3l1-.3l1-.4l1-.3l1-.2l1-.2l1-.4l1-.7l1-.4l1-.3l1-.2l1-.6l1-.5l1-.5l1-.3l1-.4l1-.5l1-.3l1-.1l1 .3l1 .3l1 .1l1-.2l1 0l1 .2l1 .4l1 .3l1 .2l1 .1l1 0l1-.2l1-.2l1-.5l1-.3l1-.2l1 .3l1 .5l1 .7l1 .6l1 .3l1 .4l1 .2l1 .2l1 .2l1 .2l1 .3l1 .3l1 .2l1 .2l1 .1l1 .1l1 0l1-.1l1-1.3l1-5.2l1-6.2l1-5.1l1-2.4l1 .4l1 3.8l1 7.8l1 7.6l1 3.8l1 1.3l1-.2l1-.5l1-.5l1-.5l1-.5l1-.5l1-.4l1-.5l1 0l1-.1l1-.1l1-.3l1-.2l1-.3l1-.3l1-.3l1-.4l1-.7l1-.8l1-.6l1-.4l1-.4l1-.3l1-.3l1 .1l1 .3l1 .5l1 .3l1 .3l1 .6l1 .6l1 .5l1 .2l1-.1l1-.4l1-.2l1-.1l1 0l1 0l1-.2l1-.2l1-.2l1-.1l1-.2l1-.3l1-.2l1-.1l1 .3l1 .5l1 .3l1 0l1 .2l1 .4l1 .4l1 .1l1 .1l1 0l1 0l1 .3l1 0l1-4l1-5.5l1-5.5l1-2.8l1-1.4l1 2.1l1 6.6l.5 6.2"/>
</g>
<g fill="none">
<path d="M1047.8 1460V2132M1082.2 1460V2132M1116.5 1460V2132M1150.8 1460V2132M1185.1 1460V2132M1219.4 1460V2132M1253.7 1460V2132M1288.0 1460V2132M1322.4 1460V2132M1356.7 1460V2132M1391.0 1460V2132M1425.3 1460V2132M1459.6 1460V2132M1493.9 1460V2132M1528.2 1460V2132M1562.5 1460V2132M1596.9 1460V2132M1631.2 1460V2132M1665.5 1460V2132M1699.8 1460V2132M1734.1 1460V2132M1768.4 1460V2132M1802.7 1460V2132M1837.1 1460V2132M1871.4 1460V2132M1905.7 1460V2132M1940.0 1460V2132M1974.3 1460V2132M1033.0 1475.0H2004.0M1033.0 1492.2H2004.0M1033.0 1509.3H2004.0M1033.0 1543.6H2004.0M1033.0 1577.9H2004.0M1033.0 1612.2H2004.0M1033.0 1646.5H2004.0M1033.0 1680.8H2004.0M1033.0 1715.1H2004.0M1033.0 1749.4H2004.0M1033.0 1783.7H2004.0M1033.0 1818.0H2004.0M1033.0 1852.3H2004.0M1033.0 1886.6H2004.0M1033.0 1920.9H2004.0M1033.0 1955.2H2004.0M1033.0 1989.5H2004.0M1033.0 2023.8H2004.0M1033.0 2058.1H2004.0M1033.0 2092.4H2004.0M1033.0 2126.7H2004.0" stroke="#f0f0f0" stroke-width="1.2"/>
<path d="M1099.3 1460V2132M1133.6 1460V2132M1270.9 1460V2132M1339.5 1460V2132M1373.8 1460V2132M1408.1 1460V2132M1511.1 1460V2132M1614.0 1460V2132M1648.3 1460V2132M1751.3 1460V2132M1785.6 1460V2132M1922.8 1460V2132M1033.0 1595.0H2004.0M1033.0 1629.3H2004.0M1033.0 1732.2H2004.0M1033.0 1766.5H2004.0M1033.0 1938.0H2004.0M1033.0 2040.9H2004.0M1033.0 2075.2H2004.0M1033.0 2109.6H2004.0" stroke="#dfdfdf" stroke-width="1.3"/>
<path d="M1065.0 1460V2132M1167.9 1460V2132M1305.2 1460V2132M1854.2 1460V2132M1033.0 1835.2H2004.0" stroke="#d8d8d8" stroke-width="1.3"/>
<path d="M1202.3 1460V2132M1236.6 1460V2132M1442.5 1460V2132M1476.8 1460V2132M1545.4 1460V2132M1579.7 1460V2132M1682.6 1460V2132M1717.0 1460V2132M1819.9 1460V2132M1888.5 1460V2132M1957.2 1460V2132M1991.5 1460V2132M1033.0 1526.5H2004.0M1033.0 1560.8H2004.0M1033.0 1663.7H2004.0M1033.0 1698.0H2004.0M1033.0 1800.8H2004.0M1033.0 1869.5H2004.0M1033.0 1903.8H2004.0M1033.0 1972.3H2004.0M1033.0 2006.7H2004.0" stroke="#d1d1d1" stroke-width="1.35"/>
</g>
<path d="M1053.6 1492.2h4.6v-17.1h8.6v17.1h4.5" fill="none" stroke="#3a3a3a" stroke-width="1.25"/>
<rect x="1033.6" y="1482.9" width="20.0" height="14.7" fill="#c1c1c1" stroke="#333" stroke-width="1.3"/>
<text x="1043.6" y="1494.5" font-family='"Liberation Mono", monospace' font-size="12.8" font-weight="normal" text-anchor="middle" fill="#1c1c1c" textLength="4.6" lengthAdjust="spacingAndGlyphs">I</text>
<path d="M1053.6 1543.6h4.6v-17.1h8.6v17.1h4.5" fill="none" stroke="#3a3a3a" stroke-width="1.25"/>
<rect x="1033.6" y="1534.3" width="20.0" height="14.7" fill="#c1c1c1" stroke="#333" stroke-width="1.3"/>
<text x="1043.6" y="1546.0" font-family='"Liberation Mono", monospace' font-size="12.8" font-weight="normal" text-anchor="middle" fill="#1c1c1c" textLength="9.0" lengthAdjust="spacingAndGlyphs">II</text>
<path d="M1053.6 1595.0h4.6v-17.1h8.6v17.1h4.5" fill="none" stroke="#3a3a3a" stroke-width="1.25"/>
<rect x="1033.6" y="1585.8" width="20.0" height="14.7" fill="#c1c1c1" stroke="#333" stroke-width="1.3"/>
<text x="1043.6" y="1597.4" font-family='"Liberation Mono", monospace' font-size="12.8" font-weight="normal" text-anchor="middle" fill="#1c1c1c" textLength="13.6" lengthAdjust="spacingAndGlyphs">III</text>
<path d="M1053.6 1663.7h4.6v-17.1h8.6v17.1h4.5" fill="none" stroke="#3a3a3a" stroke-width="1.25"/>
<rect x="1033.6" y="1654.4" width="20.0" height="14.7" fill="#c1c1c1" stroke="#333" stroke-width="1.3"/>
<text x="1043.6" y="1666.0" font-family='"Liberation Sans", sans-serif' font-size="12.4" font-weight="normal" text-anchor="middle" fill="#1c1c1c" textLength="17.6" lengthAdjust="spacingAndGlyphs">aVR</text>
<path d="M1053.6 1715.1h4.6v-17.1h8.6v17.1h4.5" fill="none" stroke="#3a3a3a" stroke-width="1.25"/>
<rect x="1033.6" y="1705.8" width="20.0" height="14.7" fill="#c1c1c1" stroke="#333" stroke-width="1.3"/>
<text x="1043.6" y="1717.5" font-family='"Liberation Sans", sans-serif' font-size="12.4" font-weight="normal" text-anchor="middle" fill="#1c1c1c" textLength="17.6" lengthAdjust="spacingAndGlyphs">aVL</text>
<path d="M1053.6 1766.5h4.6v-17.1h8.6v17.1h4.5" fill="none" stroke="#3a3a3a" stroke-width="1.25"/>
<rect x="1033.6" y="1757.2" width="20.0" height="14.7" fill="#c1c1c1" stroke="#333" stroke-width="1.3"/>
<text x="1043.6" y="1768.9" font-family='"Liberation Sans", sans-serif' font-size="12.4" font-weight="normal" text-anchor="middle" fill="#1c1c1c" textLength="17.6" lengthAdjust="spacingAndGlyphs">aVF</text>
<path d="M1053.6 1818.0h4.6v-17.1h8.6v17.1h4.5" fill="none" stroke="#3a3a3a" stroke-width="1.25"/>
<rect x="1033.6" y="1808.7" width="20.0" height="14.7" fill="#c1c1c1" stroke="#333" stroke-width="1.3"/>
<text x="1043.6" y="1820.4" font-family='"Liberation Sans", sans-serif' font-size="12.4" font-weight="normal" text-anchor="middle" fill="#1c1c1c" textLength="12.4" lengthAdjust="spacingAndGlyphs">V1</text>
<path d="M1053.6 1886.6h4.6v-17.1h8.6v17.1h4.5" fill="none" stroke="#3a3a3a" stroke-width="1.25"/>
<rect x="1033.6" y="1877.3" width="20.0" height="14.7" fill="#c1c1c1" stroke="#333" stroke-width="1.3"/>
<text x="1043.6" y="1889.0" font-family='"Liberation Sans", sans-serif' font-size="12.4" font-weight="normal" text-anchor="middle" fill="#1c1c1c" textLength="12.4" lengthAdjust="spacingAndGlyphs">V2</text>
<path d="M1053.6 1938.0h4.6v-17.1h8.6v17.1h4.5" fill="none" stroke="#3a3a3a" stroke-width="1.25"/>
<rect x="1033.6" y="1928.8" width="20.0" height="14.7" fill="#c1c1c1" stroke="#333" stroke-width="1.3"/>
<text x="1043.6" y="1940.4" font-family='"Liberation Sans", sans-serif' font-size="12.4" font-weight="normal" text-anchor="middle" fill="#1c1c1c" textLength="12.4" lengthAdjust="spacingAndGlyphs">V3</text>
<path d="M1053.6 1989.5h4.6v-17.1h8.6v17.1h4.5" fill="none" stroke="#3a3a3a" stroke-width="1.25"/>
<rect x="1033.6" y="1980.2" width="20.0" height="14.7" fill="#c1c1c1" stroke="#333" stroke-width="1.3"/>
<text x="1043.6" y="1991.9" font-family='"Liberation Sans", sans-serif' font-size="12.4" font-weight="normal" text-anchor="middle" fill="#1c1c1c" textLength="12.4" lengthAdjust="spacingAndGlyphs">V4</text>
<path d="M1053.6 2058.1h4.6v-17.1h8.6v17.1h4.5" fill="none" stroke="#3a3a3a" stroke-width="1.25"/>
<rect x="1033.6" y="2048.8" width="20.0" height="14.7" fill="#c1c1c1" stroke="#333" stroke-width="1.3"/>
<text x="1043.6" y="2060.4" font-family='"Liberation Sans", sans-serif' font-size="12.4" font-weight="normal" text-anchor="middle" fill="#1c1c1c" textLength="12.4" lengthAdjust="spacingAndGlyphs">V5</text>
<path d="M1053.6 2109.6h4.6v-17.1h8.6v17.1h4.5" fill="none" stroke="#3a3a3a" stroke-width="1.25"/>
<rect x="1033.6" y="2100.2" width="20.0" height="14.7" fill="#c1c1c1" stroke="#333" stroke-width="1.3"/>
<text x="1043.6" y="2111.9" font-family='"Liberation Sans", sans-serif' font-size="12.4" font-weight="normal" text-anchor="middle" fill="#1c1c1c" textLength="12.4" lengthAdjust="spacingAndGlyphs">V6</text>
<g fill="none" stroke="#1e1e1e" stroke-width="1.4" stroke-linejoin="round" stroke-linecap="round">
<path d="M1066.0 1491.4l1 .3l1 .4l1 .3l1 .2l1 .6l1 1.2l1 1.1l1-.2l1-2l1-2.3l1-.6l1 .7l1 .7l1 .3l1-.3l1-.3l1-.4l1-.3l1-.4l1-.4l1-.7l1-.5l1-.4l1 0l1 .1l1 .4l1 .3l1 .4l1 .2l1 .3l1 .3l1 .2l1 .1l1-.1l1-.3l1-.6l1-.5l1-.3l1 0l1 .1l1 .3l1 .5l1 .5l1 .6l1 1.2l1 1.3l1 .4l1-.7l1-1.3l1-.9l1 .1l1 .7l1 .9l1 .7l1 .9l1 .8l1 .6l1 .2l1-.2l1-.4l1-.4l1-.3l1-.1l1 0l1 .2l1 .2l1 .2l1-.1l1-.7l1-.7l1-.6l1-.3l1-.3l1-.1l1 .1l1 .5l1 .5l1 .9l1 .8l1 .3l1 .4l1 .4l1 .2l1-1l1-1.3l1-.8l1-.6l1-.6l1-.7l1-.2l1-.3l1 0l1-.2l1 0l1-.1l1-.4l1-.8l1-.6l1-.1l1 .4l1 .7l1 .7l1 .7l1 .5l1 0l1-1.6l1-2.3l1-.2l1 1.7l1 1.4l1-.2l1-.8l1-1l1-.9l1-.6l1 .2l1 1.2l1 1.3l1 1.3l1 1.2l1 1.2l1 .5l1 0l1-.1l1 .4l1 1.5l1 0l1-1.9l1-1.8l1 0l1 .5l1 .5l1 .2l1-.3l1-.2l1-.4l1-.2l1-.7l1-1.2l1-1.5l1-1.1l1-1l1-1.1l1-.9l1-.4l1-.3l1-.3l1 .6l1 1.1l1 1.2l1 1.3l1 1.1l1 .8l1 .8l1 1l1 .8l1-.1l1-1l1-1.2l1-.7l1 .3l1 .9l1 .8l1 .1l1-.3l1-.6l1-.3l1 .1l1 1.1l1 1.2l1 .4l1-.4l1-.6l1-.7l1-.1l1 .3l1 .6l1 .5l1 .4l1 .2l1 .4l1 .8l1 .8l1 .5l1-.2l1-.3l1-.3l1-.2l1-.2l1-.2l1-.6l1-.8l1-.7l1-.4l1-.3l1-.3l1-.4l1-.2l1 .6l1 1.1l1 .8l1 .7l1 .7l1 .7l1 .6l1 .6l1 .5l1-.1l1-.8l1-1.1l1-.9l1-.9l1-1.3l1-1.3l1-1.1l1-.4l1-.2l1 0l1 .2l1 .1l1-.1l1-.3l1 0l1 .1l1 .1l1 .4l1 .5l1 .3l1-.7l1-1.3l1-1.4l1-1.3l1-1.3l1-.7l1-.3l1-.2l1-.3l1-.2l1 0l1 .2l1 .5l1 .8l1 1.5l1 1.6l1 1.4l1 1.4l1 1.4l1 .8l1-.1l1-.8l1-.8l1-.1l1 1l1 .7l1 0l1-.3l1 .3l1 1.2l1 1.2l1 .4l1-.2l1-.3l1-.4l1-.2l1-.3l1-.3l1-.6l1-.4l1 .1l1 1l1 1.1l1 .8l1 .9l1 .9l1 .4l1-1.1l1-1.7l1-.1l1 .5l1 .8l1 .7l1 1l1 1.4l1 1.2l1 .8l1-.8l1-1.7l1-2l1-2.4l1-2.1l1-.9l1-.8l1-.4l1-.4l1-.1l1-.2l1 .1l1-.2l1-.4l1-.6l1-.5l1-.2l1 1.7l1 2l1 .6l1-.1l1-.1l1-.2l1-.2l1-.1l1-.1l1-.1l1-.6l1-1.2l1-1l1-.2l1-.1l1 .4l1 .5l1 .7l1 .6l1 .8l1 .4l1 .3l1 .1l1 .1l1 .4l1 .3l1 .1l1-.1l1-.1l1-.2l1 .1l1-.2l1 0l1-.4l1-.1l1-.2l1-.1l1-.5l1-1.7l1-1.7l1-.5l1 .3l1 .3l1 .5l1 .5l1 .5l1 .3l1 .5l1 .5l1 .8l1 .8l1 .9l1 .7l1 .2l1-.9l1-1.6l1-1.1l1-.9l1-.8l1-.7l1 .3l1 2.2l1 1.6l1 .1l1-.2l1 0l1 .6l1 1.2l1 1.1l1 .8l1 .7l1 .6l1-.3l1-1.3l1-1.7l1-.9l1-.4l1-.1l1-.1l1-.1l1-.6l1-.3l1 .1l1 .5l1 .1l1-2.1l1-2.6l1-.2l1 .4l1 .5l1 .5l1 .8l1 .9l1 1.1l1 .8l1 1.2l1 1.3l1 .5l1-1l1-1.5l1-1.5l1-.4l1 .3l1 .8l1 .7l1 .5l1 .1l1 .1l1-.4l1-.2l1-1l1-.7l1-.8l1-.2l1-.2l1 .1l1 .2l1 .2l1-.1l1-.6l1-.5l1 .2l1 1.2l1 1l1 .1l1-.3l1-.1l1 .1l1 .4l1 1l1 .9l1 .5l1-.2l1 0l1 .1l1 .2l1 .6l1 1.1l1 1.3l1 .8l1 .2l1 .2l1 .3l1 .1l1-1l1-1.8l1-1.2l1-.2l1 .2l1 .2l1-.2l1-.4l1-.8l1-.4l1-.3l1 0l1 0l1 0l1 .2l1 .4l1 .5l1-.2l1-.7l1-1l1-1l1-.7l1-.4l1-.2l1 0l1-.3l1-.2l1-.1l1 .2l1 .3l1 .3l1 .3l1 .3l1 .5l1 .6l1 .5l1 .5l1 .3l1 .5l1 .8l1 .9l1 .4l1-.8l1-1.5l1-1.1l1-.5l1-.4l1-.2l1 0l1 .2l1 .2l1 .2l1 .1l1 .1l1-.3l1-.9l1-1l1-1l1-.7l1-.9l1-.4l1 .3l1 1.7l1 1.4l1 .7l1-.1l1-.3l1-.5l1-.3l1 .1l1 .2l1 .4l1 .3l1 .4l1 .3l1 .3l1 .2l1 .5l1 .8l1 .9l1 .5l1 .4l1-.1l1-.1l1-.3l1-.2l1-.2l1-.3l1-.2l1-.3l1 0l1 .1l1 0l1 0l1-.3l1-.2l1-.4l1-.1l1 0l1 .1l1-.4l1-1.6l1-1.5l1 .3l1 1.3l1 1.3l1 .2l1-1.3l1-1.8l1-.3l1 .8l1 1.2l1 .9l1 .8l1 .9l1 .8l1 .4l1 .3l1 .4l1 .3l1 .2l1 .2l1 .6l1 .7l1 .4l1-.1l1-.2l1-.2l1-.2l1 0l1-.2l1 0l1-.1l1 0l1 0l1-.1l1 0l1-.1l1-.9l1-1.4l1-1.3l1-.7l1-.1l1-.3l1-.3l1-.6l1-.5l1-.5l1-.2l1-.2l1-.2l1-.1l1 .1l1 .2l1 .2l1-.2l1-1.3l1-1.1l1 .3l1 2l1 1.8l1 1.8l1 1.5l1 .4l1 .1l1 .2l1 .1l1-.7l1-2l1-1.8l1-.3l1 .8l1 .7l1 .4l1-.2l1-.1l1 .1l1 .5l1 .6l1 1.1l1 1.2l1-1.2l1-2.4l1-2.6l1-1.6l1-1.3l1-.2l1 1.2l1 2.3l1 1.3l1 .5l1 .4l1 .5l1 .2l1 .4l1 .2l1 .3l1-.1l1-.2l1-.3l1-.1l1 0l1-.1l1-.1l1 0l1 .2l1 .2l1 .2l1 .2l1 .2l1 .1l1 .2l1 0l1-.1l1-.4l1-.5l1-.1l1 0l1 0l1-.6l1-1.5l1-1.2l1-.8l1-.5l1-.1l1 .6l1 .8l1 .9l1 .3l1 .4l1 .3l1 .2l1 0l1-.2l1-.2l1-.3l1-.2l1-.7l1-.6l1-.7l1 .8l1 2.8l1 2.4l1 1.2l1 .7l1-.2l1-1.2l1 1l1 2l1 .2l1-1l1-1.4l1-.8l1-.6l1-.5l1-.3l1-.1l1 .1l1 .6l1 .7l1 .7l1-.1l1-.5l1-.9l1-1l1-1.1l1-1.4l1-1.3l1-.6l1 .3l1 .8l1 .8l1 .5l1 .5l1 .2l1 0l1-.1l1-.3l1-.1l1 .1l1 1.2l1 2.1l1 1.5l1 1.4l1 .5l1-1l1-2l1-1.6l1-.7l1-.2l1-.1l1 .8l1 1l1 .8l1-.9l1-1.7l1-.7l1 0l1 0l1-.1l1 .2l1-.2l1-.6l1-1l1-1.5l1-1.4l1-.7l1-.8l1 .3l1 1l1 .9l1-.4l1-.6l1-.2l1 1.7l1 1.4l1-.2l1-.1l1-.2l1 .4l1 1.3l1 .9l1-.9l1-1.7l1-.1l1 2l1 1.4l1-.8l1-1.3l1-.1l1 .8l1 1l1 .3l1-.2l1-.3l1-.2l1 .1l1 .6l1 1.3l1 1.1l1 .3l1-.7l1-.9l1-.6l1-.1l1-.1l1-.2l1-.4l1-.5l1-.5l1-.7l1-.8l1-.3l1-.2l1 .1l1-.3l1 .1l1 .1l1 .3l1 .1l1 1.2l1 2.1l1 1.6l1 .3l1 .3l1 .2l1 .1l1-.5l1-.6l1-.2l1 1l1 1.6l1 .1l1-.9l1-1.4l1-.7l1-.2l1 0l1-.2l1-.3l1-.3l1 0l1 .4l1 .2l1 .1l1 .1l1 .7l1 .2l1-1l1-1.6l1-.9l1 .2l1 .4l1 .3l1-.1l1-.2l1-.3l1-.2l1 0l1-.1l1 .5l1 .8l1 1l1 .8l1 1l1 1l1 1l1 .8l1-.1l1-.6l1-1.1l1-1.1l1-1.2l1-1.6l1-1.1l1-.5l1-.3l1-.1l1-.2l1 0l1-.3l1-.3l1-.3l1-.3l1-.4l1-.5l1-.4l1-.4l1 0l1 .1l1 .3l1-.1l1-.3l1-.2l1 0l1 1.2l1 1.6l1 1.1l1-.4l1-.8l1-.8l1-.3l1 .2l1 .3l1 .3l1 .5l1 1.4l1 1.6l1 .8l1-.6l1-1.3l1-1l1-.1l1 .3l1 .2l1 .3l1 .3l1 .5l1 .2l1 0l1 .2l1 .2l1 .2l1 .2l1 .5l1 .7l1 1l1 .6l1-.2l1-1.4l1-1.5l1-.8l1 .1l1 .1l1 .1l1-1l1-1.8l1-.7l1 1.5l1 2.1l1 1.9l1 2l1 .7l1-.4l1-.9l1-.8l1-.7l1-.4l1-.1l1 .1l1 .2l1 0"/>
<path d="M1071.0 1526.9l1 1.2l1 .9l1 .7l1 .5l1 .2l1-.2l1-.8l1-.8l1-.9l1-.6l1-.4l1-.1l1-.2l1-.4l1-.5l1-.5l1-.4l1-.2l1-.1l1 .4l1 .5l1 .7l1 1l1 1.7l1 2.1l1 1.5l1 1.4l1 1.4l1 1.7l1 1.8l1 1.5l1 1.4l1 1.1l1 1.2l1 1l1 1l1 1l1 1.3l1 1.2l1 .5l1 .1l1 .1l1 .3l1 0l1 .4l1 .4l1 .8l1 .8l1 1.1l1 1.4l1 1.1l1 .6l1 0l1-.3l1-.5l1-.7l1-.5l1-.4l1-.3l1-.1l1 .6l1 1.2l1 1.5l1 1.9l1 2l1 1.3l1 .8l1-.2l1-2.4l1-2.8l1-3.9l1-1.9l1-.8l1 .5l1 3.1l1 2l1 1.4l1-.4l1-1.6l1-1.6l1-1.2l1-1.3l1-1.1l1-1.1l1-1.1l1-1.1l1-.8l1-.8l1-.7l1-.8l1-1l1-1.1l1-.9l1-.6l1-.3l1-.2l1-.4l1-.6l1-.4l1-.2l1 0l1 0l1-.1l1 0l1 .5l1 .3l1-.8l1-3.1l1-1.4l1-.8l1-.5l1 .6l1 1.1l1 1.4l1 1.5l1 1.5l1 1.1l1 1l1-.6l1-1.7l1-1.7l1-1.1l1-.8l1-.3l1 .2l1 .1l1 .1l1 .1l1 .1l1-.1l1-.4l1-.2l1-.2l1-.1l1-.1l1-.1l1 0l1-1.1l1-1.9l1-1.1l1-.5l1-.2l1 .1l1-.2l1-.2l1 0l1 .6l1 1.8l1 2.1l1 1.4l1 .8l1 .7l1 .8l1 .8l1 1.1l1 .9l1 .7l1 .6l1 .6l1 .8l1 .7l1 .4l1 .5l1 .7l1 .9l1 .2l1 .3l1 .3l1 .4l1 .3l1 0l1 .2l1 .2l1 .3l1 .2l1 .3l1 .6l1 .6l1 .5l1 .4l1 .2l1 .1l1 .1l1 .6l1 1.7l1 1.9l1 1.9l1 1.6l1 .2l1 .1l1-.6l1-1.2l1-1.6l1-.8l1-.8l1-.7l1-.7l1-.4l1-.4l1-.4l1-.7l1-.9l1-1.2l1-1.1l1-1.2l1-1.3l1-1.6l1-1.1l1-1.4l1-1.3l1-1.1l1-.4l1-.2l1-.3l1-.7l1-.7l1-.7l1-.7l1-.8l1-.4l1 .1l1 .4l1 .3l1 .4l1 0l1-.2l1-.5l1-.5l1-.5l1-.5l1-.3l1-.6l1-1.5l1-1.2l1 1.8l1 2.6l1 3.8l1 4.3l1 4.8l1 3.8l1 3.2l1 .5l1 .3l1-1.1l1-3l1-2.6l1-2.8l1-2.6l1-2.1l1-1.7l1-1.1l1-1.1l1-1.2l1-1.1l1-.8l1-.5l1-.7l1-.5l1-.4l1-.2l1-.3l1-.1l1 .1l1 .5l1 1.1l1 .9l1 .1l1-.4l1-.5l1-.3l1-.2l1 .6l1 1l1 1.4l1 1.8l1 2.5l1 2.1l1 2.2l1 2.1l1 2l1 1.1l1-.3l1-1.3l1-1.1l1-.8l1-.5l1-.6l1-.4l1-.4l1 0l1 .2l1 .1l1 0l1 0l1 .3l1 .3l1 .2l1 .1l1 1.4l1 1.8l1 .3l1 0l1-.4l1 0l1 .6l1 1.2l1 .9l1 .7l1 .3l1 .8l1 2.3l1 1.4l1-.2l1-.8l1-.4l1 .2l1 1.1l1 1.1l1 .7l1-.1l1 0l1-.1l1-.1l1-.1l1-.1l1-.1l1-.3l1-.8l1-1.8l1-1.8l1-.7l1-.2l1 0l1-.1l1-.6l1-1.1l1-1.1l1-.9l1-.8l1-.8l1-.9l1-.6l1-.5l1-.3l1-.2l1-.4l1-.5l1-.8l1-.9l1-1l1-.9l1-1.2l1-2.3l1-1.9l1-.9l1-.6l1 .5l1 2.8l1 3.7l1 5.3l1 4.3l1 4l1 .5l1-2.2l1-3.5l1-5l1-3.9l1-2.5l1-1.9l1-1.7l1-1.8l1-1.4l1-1.1l1-.6l1-.5l1-.5l1-.6l1-.8l1-.7l1-.8l1-.5l1-.7l1-.6l1-.6l1-.4l1-.4l1 0l1 .4l1 .3l1 .5l1 .3l1 .9l1 1.1l1 2.3l1 2.7l1 2.4l1 2.1l1 2l1 1.9l1 2.2l1 2.4l1 2.1l1 1.9l1 1.8l1 1.2l1 0l1-.3l1-.5l1-.7l1-1l1-.7l1 0l1 .2l1 .2l1-.2l1-.4l1-.5l1 .5l1 1.6l1 2l1 2.1l1 2.2l1 2.2l1 2l1 1.9l1 1l1 .9l1 .3l1-.2l1-.8l1-.8l1-.7l1-.9l1-.9l1-.5l1-.3l1-.2l1-.3l1-.2l1 .2l1 .4l1-1.3l1-2.9l1-2.7l1-1.7l1-1.4l1-1.1l1-1.4l1-1.4l1-1.7l1-1.1l1-.9l1-.7l1-.5l1-.2l1-.1l1-.2l1-.1l1 .3l1 .2l1-.2l1-.5l1-.4l1 .3l1 .2l1-.4l1-1.4l1-1.1l1-1l1-.3l1 .9l1 1.3l1 1.6l1 2.3l1 2.9l1 3.5l1 3.9l1 1.4l1-.7l1-.9l1-.8l1-.6l1-.3l1 .4l1 .8l1 .8l1 1l1 .6l1-.3l1-.9l1-1.3l1-1.1l1-1.2l1-1.2l1-1.2l1-.8l1-.8l1-1l1-1.3l1-1.5l1-1.6l1-1.2l1-.6l1-.5l1-.6l1-.6l1-.1l1 .1l1 .1l1 .2l1 .1l1 .1l1 .4l1 .5l1 .4l1 .3l1 .6l1 .9l1 1l1 .8l1 .5l1 .8l1 .7l1 .5l1 .2l1-.1l1 0l1 .1l1 .3l1 .4l1 .2l1-.4l1-.7l1-.6l1-.4l1-.1l1 .2l1 .2l1-.3l1-.7l1-.9l1-.9l1-1.3l1-.7l1 1.3l1 2l1 4.1l1 3.4l1 .8l1 .5l1 .5l1 .6l1 .5l1-.1l1-.9l1-.7l1 .7l1 1.5l1 .1l1-.4l1-.2l1 .6l1 .9l1 1.1l1 1.8l1 1.1l1-.8l1-1.6l1-1.1l1-.8l1-.8l1-1l1-.9l1-.7l1-.7l1-.6l1-.7l1-.5l1-.7l1-.5l1-.3l1-.2l1 0l1-.2l1-.2l1-.2l1 0l1 0l1 .2l1 .3l1 .5l1 .2l1-1l1-2.9l1-1.7l1-.7l1 .3l1 2.4l1 3l1 4.3l1 4.3l1 5.2l1 3.4l1 2.4l1 0l1-.8l1-1.3l1-.7l1-.9l1-.6l1-.9l1-.7l1-.9l1-1.1l1-1.1l1-1.3l1-1.5l1-1.9l1-2.2l1-2.4l1-2.5l1-2.5l1-3.5l1-4.5l1-4.4l1-4.1l1-3.6l1-2.2l1-1.5l1-.7l1 0l1-.2l1-.1l1 .3l1 .9l1 1.1l1 1.1l1 1.3l1 1.6l1 1.6l1 1.2l1 .9l1 .7l1 .7l1 .9l1 .8l1 1l1 .9l1 1.2l1 1.3l1 1.3l1 1.2l1 1.1l1 1.1l1 1.2l1 1.3l1 1.1l1 1l1 1.3l1 1.2l1 .8l1-.1l1-.3l1-.4l1-.1l1 .2l1 .8l1 1.1l1 1l1 1.5l1 1.5l1 1.8l1 1.9l1 2.2l1 1.4l1-.2l1-1l1-1.1l1-1.2l1-1.1l1 .1l1 2.2l1 2l1 .7l1 .3l1-1.1l1-.7l1 1.4l1 2l1 2.2l1 .4l1-1.8l1-2.6l1-2.2l1-2.2l1-1.2l1-.7l1-.7l1-.7l1-.6l1-.5l1-.3l1-.6l1-.4l1-.6l1-.4l1-.9l1-1.1l1-1.6l1-1.9l1-.7l1 .6l1 .9l1 .6l1 0l1-.7l1-.8l1-1.9l1-1.4l1 0l1 1.4l1 2.7l1 4l1 3.9l1 3.9l1 2.8l1 2.4l1 .6l1-.4l1-.6l1-.6l1-.8l1-1.1l1-.7l1 0l1 .7l1 .4l1-1.5l1-2.7l1-2.6l1-2.3l1-2.3l1-1.7l1-2l1-2.6l1-3.5l1-3.5l1-3.6l1-3.5l1-3l1-2.9l1-2.4l1-1.5l1-1.2l1-.1l1 .9l1 1.4l1 1.5l1 1.8l1 1.8l1 1.7l1 1.4l1 1.4l1 1.3l1 1.9l1 1.8l1 1.8l1 1l1 .9l1 .7l1 1l1 1l1 1.4l1 .9l1 .7l1 .4l1 .6l1 .5l1 1l1 1.1l1 1.2l1 .6l1 .2l1 .2l1 .1l1 .4l1 .2l1 .2l1 .3l1 .9l1 1.6l1 1.7l1 1.3l1 1.6l1 1.4l1 .6l1-.9l1-1.4l1-2.1l1-2.8l1-1.1l1 .8l1 1.5l1 1.8l1 1.8l1-.2l1-.4l1-.6l1-.1l1-.2l1 .1l1-.3l1-.3l1-2l1-2.3l1-2.4l1-2.1l1-1.5l1-.7l1-.5l1-.3l1-.3l1-.4l1-.1l1 0l1 .6l1 .9l1 .8l1 1.5l1 .2l1-1.2l1-.6l1 .3l1 .5l1 .8l1 2.1l1-1.2l1-2.1l1-1.1l1-.6l1 .7l1 2.1l1 2.2l1 2.7l1 2.8l1 3.2l1 3l1 2.9l1 1.9l1 .6l1 .3l1 0l1 .1l1 .4l1 1l1 1.2l1 1.3l1 .1l1-1.1l1-1.5l1-1.1l1-1.4l1-1l1-.5l1-.1l1-.1l1 0l1-.6l1-.9l1-2.4l1-3.6l1-4l1-4.5l1-5l1-5l1-4.9l1-4.7l1-4.2l1-3.9l1-3.4l1-3.3l1-1.7l1-1.2l1-.6l1-.1l1 .8l1 1l1 1l1 1.5l1 1.6l1 1.9l1 2l1 2.1l1 1.6l1 1.3l1 1.2l1 1.4l1 1.1l1 1.1l1 .9l1 1.3l1 1.3l1 1.3l1 1l1 1.2l1 1.8l1 2.3l1 2.3l1 2l1 1.7l1 1.1l1 1.2l1 .6l1-1.7l1-2.7l1-2.3l1-2.1l1 .2l1 3.9l1 4.4l1 5.4l1 4.1l1 3.3l1 .4l1-.3l1-.8l1-1l1-1l1-.1l1 .4l1 .6l1 .6l1 .8"/>
<path d="M1071.0 1577.1l1-.1l1 0l1 .9l1 2.5l1 2.5l1 .2l1-1.3l1-1.7l1-1.1l1-.3l1 0l1 .3l1 .5l1 .4l1 .3l1 0l1 0l1-.2l1-.3l1-.2l1 .2l1 .4l1 .6l1 1.3l1 1.6l1 1.8l1 1.4l1 1.6l1 1.4l1 1.8l1 2l1 2l1 1.7l1 1.3l1 .9l1 .4l1 .4l1 .5l1 .4l1-.3l1-.7l1 0l1 1l1 1.3l1 1.2l1 .5l1-.1l1-.4l1 .2l1 .5l1 .2l1-.2l1-.4l1 .1l1 .1l1 0l1-.4l1-.5l1-.4l1-.2l1 .6l1 1.3l1 1.8l1 2.5l1 2.7l1 1.6l1 .9l1 0l1-2l1-2.9l1-4.1l1-2.6l1-1.4l1 0l1 2.4l1 1.3l1 .8l1-.3l1-.8l1-.5l1-.5l1-.5l1-.5l1-.5l1-.7l1-.7l1-.8l1-.8l1-.7l1-.5l1-.4l1-.3l1-.4l1-.6l1-.7l1-.9l1-.8l1-.7l1-.6l1-.5l1 .9l1 1.5l1 0l1-1.5l1-.6l1 .7l1 .1l1-2l1-.7l1-.7l1-1l1-.4l1 .3l1 .3l1 .2l1 .1l1 .9l1 1l1-.4l1-2.4l1-3l1-.9l1 1.2l1 1.3l1 .1l1-.3l1-.2l1-.1l1-.1l1 0l1 0l1 .2l1 .5l1 1l1 1.3l1 1.2l1 1l1-.1l1-1.2l1-.7l1-.2l1-.1l1-.6l1-1.1l1-1l1-.9l1-.5l1 .8l1 .8l1 .3l1 .3l1 .9l1 1.7l1 1.9l1 1.8l1 .9l1 .2l1-.2l1 .2l1 .6l1 .9l1 .8l1 .8l1 .1l1 .1l1 .2l1 .3l1 .4l1 .4l1 .3l1-.1l1-.1l1-.2l1-.2l1-.1l1-.3l1-.2l1 0l1 .2l1 .2l1 .3l1 .4l1 .6l1 1.1l1 2.3l1 2.7l1 2.9l1 2.2l1 .5l1 .1l1-.1l1-1.1l1-1.5l1-1.7l1-2l1-1.7l1-1.4l1-1.3l1-1.1l1-.8l1-.7l1-.9l1-.8l1-.6l1-.4l1-.8l1-.7l1-.1l1-.1l1-.3l1-.5l1-.4l1-.3l1-.4l1-.4l1-.5l1-.6l1-.6l1-.5l1-.3l1-.6l1-.3l1 0l1 .9l1 1.3l1 1.2l1 .9l1 1l1 .4l1 .1l1-.2l1-.7l1-1.6l1-.9l1 1.7l1 2.2l1 2.8l1 2.5l1 3.3l1 2.8l1 2.1l1-.9l1-.7l1-1.1l1-2.1l1-2l1-3l1-3.6l1-2.5l1-1.2l1-.7l1-1.5l1-2.4l1-2.6l1-1.2l1-.5l1-.2l1 0l1 .1l1 .1l1 .1l1 .1l1 .1l1 0l1-.1l1-.2l1-.7l1-1.2l1-1.4l1-.8l1 1.1l1 2.4l1 1.2l1 .8l1 1l1 1.8l1 1.4l1 1.1l1 1l1 1l1 1.5l1 1.1l1 .6l1 1.4l1 1.2l1 .3l1 .2l1 .2l1 .3l1 .2l1 .1l1-.1l1 .1l1 .3l1 .9l1 1l1 .9l1-.7l1-.1l1 1.1l1-.2l1-.4l1-.3l1 .1l1 .8l1 1l1 .9l1 1.2l1 1.9l1 1.9l1 2.4l1 1.2l1-.8l1-1.3l1-1.2l1-.5l1 .2l1 .6l1 .4l1-.1l1-.4l1-.2l1 0l1 .1l1 .4l1 .1l1-.2l1-.9l1-1.6l1-1.4l1-.5l1-.1l1 0l1 0l1-.2l1 .6l1 .5l1-.8l1-1.2l1-1.4l1-1.1l1-.7l1-.7l1-.8l1-1.1l1-1.1l1-1.5l1-1.4l1-1.5l1-1.2l1-.9l1-.5l1-1.1l1-.9l1 0l1 .3l1 1.3l1 2.4l1 1.5l1 3.5l1 4.3l1 3.8l1 .4l1-2.6l1-4.1l1-5.7l1-4.7l1-3.5l1-2.7l1-1.2l1 .1l1 .3l1-.5l1-.9l1-.6l1-.4l1-.2l1-.3l1-.7l1-.8l1-.8l1-.4l1 1.7l1 2l1-.4l1-1.1l1-.7l1-.4l1-.4l1-.6l1-.5l1-.1l1 .2l1 1.1l1 2.2l1 3.1l1 3.6l1 3.5l1 2.5l1 1.8l1 1.5l1 1.4l1 1.6l1 1.6l1 .9l1 0l1 0l1 .7l1 .3l1-.4l1-.8l1 0l1 .6l1 .6l1 .2l1 .1l1 .2l1 .7l1 .9l1 .1l1 .8l1 1.9l1 2.3l1 1.9l1 1.9l1 1.2l1 .5l1-.3l1-.8l1-1.2l1-1.1l1-1l1-.9l1-1l1-1.4l1-1.3l1-1.1l1-.4l1-.2l1 0l1-.1l1-.9l1-1.4l1-1.6l1-1.4l1-1.2l1-1.1l1-1.1l1-1.1l1-1.2l1-.6l1-.7l1-.7l1-.7l1-.4l1-.1l1-.1l1 .1l1 .2l1 .4l1 .5l1 .5l1 .7l1 .9l1 .7l1-.5l1-1.3l1-1.1l1-1l1-.5l1 .5l1 1.2l1 1.3l1 1.9l1 2.2l1 2.7l1 3.2l1 .8l1-1.1l1-1.4l1-1.1l1-1.2l1-.4l1 1.4l1 2.4l1 1.9l1 1.3l1 .7l1-.4l1-1l1-1.5l1-1.2l1-1.3l1-1.2l1-1.2l1-.6l1-.4l1-.2l1-.4l1-.2l1-.3l1-.7l1-1.4l1-2.2l1-2.1l1-.5l1 .1l1 .5l1 .3l1 .1l1-.2l1-.1l1 .3l1 .3l1 .2l1 .2l1 .5l1 .6l1 .4l1-.2l1-.3l1 0l1 .2l1 .3l1 .1l1 .3l1 .2l1 .3l1 .5l1 1l1 .7l1 0l1-.6l1-.4l1-.1l1 0l1 0l1 0l1-.2l1-.5l1-.7l1-.7l1-.1l1 .6l1 1l1 1.1l1 2.9l1 3l1 2l1 2.1l1 .9l1-.1l1-.7l1-1.2l1-1.5l1-1.1l1 .1l1 .7l1-.2l1-.7l1-.7l1-.1l1 .1l1 .3l1 1.3l1 .9l1-.6l1-1.2l1-.7l1-.7l1-.8l1-.8l1-.5l1-.6l1-.6l1-.6l1-.6l1-.5l1-.5l1 .3l1 .7l1 1l1 .8l1 .5l1 .5l1 .5l1 .2l1 .3l1 .2l1 .3l1 .5l1 .5l1-.6l1-2.7l1-1.7l1-1l1 .5l1 3.6l1 4l1 3.6l1 2.3l1 3.3l1 1.7l1 .6l1-.7l1-1l1-1l1-.7l1 .1l1 1.6l1 1.5l1-.3l1-1.5l1-2l1-1.8l1-1.4l1-1.2l1-1.9l1-2.8l1-3.2l1-3.8l1-3.8l1-2.1l1-1.6l1-2l1-2.9l1-2.9l1-2l1-2.7l1-3l1-1.3l1-.2l1-.3l1-.1l1 .3l1 .6l1 .7l1 1.2l1 1.6l1 1.6l1 1.4l1 1.2l1 1.1l1 .8l1 .8l1 .6l1 .5l1 .7l1 1l1 1.2l1 1.4l1 1.3l1 1.2l1 1.1l1 1.4l1 1.4l1 1.5l1 1.3l1 1.4l1 1.3l1 1.2l1 1.3l1 .9l1 .5l1 .4l1 .4l1 .5l1 .3l1 .2l1 .8l1 1.3l1 1.5l1 1.6l1 1.9l1 1.4l1 .4l1-.6l1-.7l1-.9l1-.6l1 .3l1 1.5l1-.4l1-.9l1-.8l1-2.3l1-.7l1 2.7l1 1.1l1-.2l1 .1l1-.5l1-.6l1-1l1-2l1-1.3l1-.7l1-.5l1-.8l1-1.2l1-1.4l1-1l1-.4l1 .2l1 .6l1 .5l1 .1l1 .2l1-.1l1-1.3l1-1.1l1-.6l1-.2l1 .2l1-.3l1-.8l1-.9l1-1.8l1-1.3l1 .4l1 1.6l1 1.8l1 1.9l1 2.7l1 2.5l1 2.2l1 2.9l1 2.1l1 .9l1 0l1-.2l1-.5l1-1.6l1-1.9l1-.7l1 1.3l1 2.4l1-.4l1-2.5l1-2.2l1-2.5l1-2.4l1-1.8l1-1.3l1-1.7l1-1.8l1-2.1l1-2.6l1-3.1l1-3.6l1-4.1l1-3.2l1-1.4l1-.9l1-.3l1-1.1l1-.3l1 1.6l1 2.4l1 2.5l1 1.7l1 .7l1 .8l1 2.5l1 3.2l1 1.9l1-.4l1-.4l1 1.1l1 1.6l1 1.1l1 .4l1 .3l1 .7l1 .8l1 .5l1 .4l1 .5l1 .4l1 .2l1 .3l1 .6l1 .9l1 1.1l1 .7l1 .5l1 .4l1 .5l1 .6l1 1l1 1.9l1 2.2l1 2.1l1 2.1l1 1.6l1 .5l1-.5l1-1.1l1-1.4l1-2.4l1-.9l1-.4l1-.8l1-.1l1 1.1l1-.6l1-.6l1-.5l1 .2l1 .6l1 .1l1-1.1l1-1.9l1-1.9l1-1.5l1-.9l1-1.7l1-1.4l1-.9l1-.6l1-.3l1-.1l1-.3l1-.1l1-.1l1 .3l1 .1l1 0l1 1.5l1 1.4l1 .2l1 0l1 .1l1 .4l1 1l1 2.3l1-1l1-2.2l1-1.2l1-.6l1 .8l1 1.7l1 1.6l1 2l1 2.3l1 2.5l1 2.4l1 1.7l1 .6l1 0l1 .7l1 1.2l1 1.4l1 1.9l1 2.4l1 2.1l1 1.7l1 .6l1-.9l1-1.3l1-1.1l1-1.1l1-.7l1-.1l1 .1l1 .6l1 .7l1 0l1-.8l1-2.6l1-4.4l1-4.6l1-4.7l1-4.5l1-4.4l1-4.6l1-5.5l1-5.7l1-4.6l1-3.3l1-2.6l1-1.3l1-1.2l1-.9l1-.3l1 .4l1 .8l1 .1l1 0l1 .9l1 2.1l1 3.2l1 3.2l1 2.1l1 1.2l1 .8l1 .8l1 1l1 .8l1 .8l1 .8l1 1.1l1 1l1 1l1 1.2l1 1.4l1 1.2l1 1.1l1 1.3l1 2.1l1 2.9l1 2.8l1 1.3l1-1.7l1-2.7l1-2.4l1-1.2l1 2.3l1 4.4l1 2.8l1 2.9l1 2l1 1.1l1-.4l1 .3l1 .6l1 .3l1-.2l1 0l1 .3l1 .3l1 .3l1 .6"/>
<path d="M1071.0 1671.5l1-1.1l1-.9l1-.2l1 .8l1 .9l1 .6l1 .2l1 .2l1 0l1 .2l1 .3l1 .4l1 .4l1 .3l1 .3l1 .4l1 .4l1 .3l1 .2l1-.2l1-.4l1-.7l1-.7l1-.9l1-1.2l1-.9l1-.8l1-.6l1-.7l1-.8l1-.8l1-.7l1-.6l1-.3l1-.3l1-.5l1-.7l1-1l1-1l1-.9l1-.5l1-.2l1 .3l1 .4l1 .2l1-.5l1-.7l1-.8l1-.9l1-.9l1-.8l1-.3l1 0l1 .3l1 .5l1 .5l1 .3l1 .1l1 0l1 0l1-.5l1-.8l1-.8l1-.6l1-.5l1-.2l1-.4l1 0l1 .8l1 1.4l1 1.8l1 .9l1-.1l1-.7l1-1.6l1-1.1l1-.7l1 .2l1 1.2l1 1.3l1 1.1l1 1l1 1.1l1 .9l1 .7l1 .5l1 .4l1 .4l1 .4l1 .6l1 .4l1 .7l1 .5l1 .6l1 .2l1 0l1-.1l1-.1l1-.1l1 0l1 .7l1 1.1l1 .1l1-.7l1-.9l1 0l1 .9l1 2.1l1 1.2l1 .8l1 0l1-.8l1-1.4l1-1.2l1-1.7l1-1.3l1-.9l1-.3l1 .4l1 .6l1-.1l1 .4l1 1.3l1 1.2l1 .1l1-.3l1-.6l1-.5l1 0l1 .4l1 .4l1 .5l1 .4l1 .7l1 .9l1 .7l1 .6l1 1l1 1.5l1 .8l1 .5l1 0l1-.5l1-.6l1-.4l1-.4l1-.9l1-1.3l1-1.7l1-1.3l1-.8l1-.4l1 .2l1 .2l1 .2l1-.3l1-.7l1-.8l1-.5l1-.2l1 0l1-.1l1-.7l1-1.3l1-1.2l1-.1l1 .1l1 .3l1 .1l1 .2l1-.1l1-.3l1-.5l1-.3l1-.2l1-.4l1-.7l1-.7l1-.4l1-.3l1-.1l1 0l1 0l1-.3l1-.8l1-.6l1-.4l1-.4l1 .4l1 .4l1 .5l1 .7l1 .6l1-.1l1-.2l1-.2l1-.2l1-.2l1-.1l1 .1l1 .3l1 .3l1 .6l1 .8l1 1l1 1.2l1 1.2l1 1.2l1 1.2l1 1.1l1 .9l1 .7l1 .6l1 .2l1 .2l1 .2l1 .4l1 .5l1 .3l1 .1l1-.6l1-.5l1-.4l1 .4l1 .7l1 .9l1 .9l1 .9l1 .6l1 .3l1 .7l1 .5l1 .8l1 0l1-1.4l1-2l1-2.1l1-2.5l1-2.9l1-2.7l1-2.5l1-.9l1-.2l1 .9l1 1.8l1 1.6l1 1.4l1 .8l1 .7l1 .8l1 .7l1 .5l1 0l1-.2l1 .1l1 .5l1 .5l1 .5l1 .3l1 .2l1 .2l1 .1l1 .2l1-.3l1-.8l1-1l1-.4l1-.4l1-.2l1 0l1 .5l1 .6l1-.4l1-.7l1-1.3l1-1.6l1-1.7l1-1.9l1-1.8l1-1.1l1-.1l1 1.3l1 1.5l1 1.8l1 1.1l1 .6l1 .4l1 .5l1 .4l1 .3l1 .1l1 .1l1 .1l1 .1l1 .2l1 0l1-.1l1-1l1-1.8l1-1l1-.1l1 0l1 0l1 0l1-.1l1-.3l1-.3l1 .1l1 .6l1 .1l1-1.1l1-.8l1 .1l1 .1l1 0l1-.5l1-.7l1-.8l1-.6l1-.2l1-.2l1-.2l1-.1l1-.1l1 .1l1 .2l1 .4l1 .6l1 .8l1 .8l1 .2l1 .1l1 .3l1 .2l1 .6l1 1.4l1 1.5l1 .8l1 .2l1 .2l1 .1l1 .1l1 0l1-.1l1-.2l1-.3l1-.1l1-.2l1 0l1 0l1 .5l1 1.2l1 2.2l1 1.9l1 1l1 .7l1-.2l1-1.7l1-3.3l1-3.4l1-2.2l1-1.7l1-.1l1 1l1 1.1l1 1.8l1 1.5l1 .9l1 .9l1 1.1l1 1.4l1 1.3l1 .7l1 .4l1 .4l1 .5l1 .7l1 .6l1 .5l1 .2l1 .1l1 .2l1 1.3l1 1.6l1 .5l1 .1l1-.1l1-.3l1-.3l1-.5l1-.9l1-1.1l1-1.5l1-1.9l1-1.7l1-.8l1-.1l1-.2l1-.8l1-1.5l1-1.5l1-1.2l1-.9l1-1.1l1-.8l1-.2l1 .3l1 .7l1 1.2l1 1.1l1 .6l1 0l1-.4l1-.4l1-.2l1 .4l1 .4l1 .1l1-1.1l1-1.6l1-1.6l1-1.2l1-.9l1-.7l1-.7l1-.5l1-.9l1-.8l1-.2l1 .3l1 .3l1 .2l1 .4l1 .4l1-.2l1-.4l1-.4l1-.2l1-.2l1-.3l1 0l1 1.3l1 2.3l1 1.9l1 .9l1 .8l1 .8l1 .6l1 .7l1 .8l1 .8l1 .8l1 .6l1 .3l1 0l1-.2l1-.3l1-.1l1 .2l1 .5l1 .9l1 .6l1 .2l1-.3l1-.3l1 .3l1 .9l1 .8l1 .5l1 .1l1-.5l1-.8l1-.8l1-1l1-1.5l1-1.8l1-2.2l1-.9l1 .1l1 .2l1-.2l1-.3l1-.2l1 .1l1 .2l1 .2l1-.3l1-.1l1 .5l1 .7l1 .8l1 .5l1 .4l1 .3l1 .5l1 .8l1 .9l1 .9l1 .7l1 .8l1 1l1 .9l1 .3l1-.5l1-.5l1 .1l1 .2l1 .1l1 0l1-.1l1 0l1 0l1-.1l1-.3l1-.3l1-.4l1-.5l1-.7l1-.8l1-.9l1-.7l1-.7l1-.5l1-.2l1-.1l1 0l1 0l1 .1l1 .1l1 .1l1 .3l1 .4l1 .3l1 .1l1 0l1 .2l1 .2l1 0l1 0l1 .1l1 .4l1 .7l1 1.6l1 1.1l1-.8l1-1.9l1-2.7l1-1.6l1 .3l1 .4l1-.1l1-.6l1-.6l1-.4l1-.1l1 0l1-.7l1-.8l1-.5l1 .1l1 0l1-.2l1-.5l1-.8l1-1.4l1-.9l1 .4l1 .9l1 .8l1 .6l1 .5l1 .5l1 .6l1 .5l1 .4l1 .2l1 .2l1 .1l1 .2l1 .5l1 .8l1 .8l1 .6l1 .3l1 .4l1 .3l1 .4l1 .1l1 0l1-.2l1-.1l1 .1l1 .7l1 1.5l1 .7l1 .2l1-.1l1-.6l1-1.1l1-2.4l1-3.2l1-3.4l1-2.5l1-1.9l1-.3l1 .3l1 .6l1 .3l1 .7l1 1.5l1 1.5l1 .5l1-.2l1 0l1 .4l1 .8l1 1.1l1 .9l1 1l1 .9l1 .5l1 .8l1 2.2l1 3.3l1 3.4l1 2.8l1 2.6l1 1.4l1 .2l1-.9l1-.8l1-.4l1-.3l1-.2l1-.5l1-.4l1-.5l1-.7l1-1l1-.8l1-.7l1-.2l1-.1l1-.2l1-.5l1-.5l1-.5l1-.6l1-.8l1-.8l1-.8l1-.6l1-.7l1-.7l1-.6l1-.4l1-.4l1-.4l1-.7l1-.6l1-.2l1 .8l1 .9l1 .8l1 .5l1 0l1-.7l1-1l1-.8l1-.9l1-1l1-1.1l1-1.2l1-1.2l1-.6l1 .1l1 .6l1 .8l1 .7l1 .9l1 .2l1-1.1l1-2.4l1-1.7l1-.9l1 .4l1 .8l1 .2l1-1.7l1-2.4l1-.7l1 1.5l1 2.1l1 1.6l1 1.4l1 .8l1 .6l1 .3l1 .2l1-.2l1-.3l1-.2l1 .4l1 .7l1 .9l1 .8l1 .9l1 1.2l1 1.4l1 1.2l1 .1l1-.6l1-.7l1-.5l1-.1l1 .2l1 .5l1 .9l1 .7l1 .1l1-.7l1-2l1-2.9l1-2.6l1-2.6l1-1.8l1-.9l1 .4l1 .9l1 .8l1 .5l1 .7l1 .2l1-.2l1-.4l1 .1l1 .7l1 1.2l1 1.2l1 1.1l1 1.1l1 1.4l1 1.2l1 1.3l1 1.6l1 2.4l1 2.6l1 2.4l1 2l1 1.4l1 .8l1 .9l1 .8l1 .7l1-.1l1-1.4l1-1.6l1-.6l1-.6l1-.6l1-1l1-1.5l1-1.3l1-.4l1 0l1-.6l1-1.7l1-1.2l1-.2l1 .2l1-.3l1-.8l1-.9l1-.6l1-.3l1-.2l1-.3l1-.5l1-.8l1-1.1l1-.9l1-.4l1 .1l1 .3l1 .3l1 .1l1 0l1-.1l1-.2l1-.4l1-.6l1-.5l1-.4l1-.6l1-.6l1-.3l1 .5l1 .6l1 1l1 1.3l1 .8l1-.9l1-1.7l1-1.7l1-1.2l1-.1l1 0l1 .2l1 .3l1 .6l1 .3l1-.3l1-.6l1 .8l1 1.5l1 1.6l1 1.4l1 1l1 .5l1 .2l1 .2l1 .1l1 .2l1 .1l1 0l1-.4l1-.9l1-.9l1-.7l1 .7l1 1.5l1 .8l1-.2l1-.4l1-.8l1-1.3l1 .6l1 1.3l1 .8l1 .4l1-.5l1-1.2l1-1.3l1-1.7l1-1.9l1-2.4l1-2.3l1-1.8l1-1.1l1 0l1 .3l1 .6l1 .4l1 .2l1 .3l1 .1l1-.3l1 0l1 .6l1 .9l1 .7l1 .7l1 .4l1 .1l1 .1l1 .4l1 .5l1 .6l1 .6l1 1.1l1 1.9l1 1.9l1 2.3l1 2.6l1 2.5l1 2.6l1 1.7l1 1.4l1 1.4l1 1.9l1 1.9l1 1.1l1 .7l1 .3l1 0l1-.6l1-.9l1-1.3l1-1.3l1-1l1-.5l1-.3l1-.7l1-.8l1-.8l1-.6l1-.7l1-.7l1-.6l1-.8l1-.8l1-.8l1-.7l1-.7l1-.9l1-1.1l1-1.3l1-1.3l1-1.5l1-1l1-.2l1 .1l1 .2l1 1.1l1 1.6l1 1.3l1 1.7l1 .8l1-1.8l1-3l1-3.7l1-3.1l1-2.8l1-.6l1 .3l1 .6l1 .8l1 .8l1 .5l1 0l1-.3l1-.4l1-.5"/>
<path d="M1071.0 1724.7l1 .8l1 .4l1-.6l1-2.2l1-2.2l1-.5l1 1l1 1.3l1 .8l1-.1l1-.4l1-.6l1-.4l1-.3l1-.3l1-.2l1-.1l1 0l1 .2l1 0l1-.1l1-.2l1-.2l1-.5l1-.8l1-.7l1-.5l1-.6l1-.8l1-1.1l1-1.2l1-1.3l1-1l1-.8l1-.4l1-.1l1 .3l1 .2l1 .1l1 .5l1 .7l1 .1l1-.7l1-1.2l1-.9l1-.2l1 .4l1 .6l1 .2l1 .1l1 .2l1 .3l1 .4l1-.1l1-.1l1-.1l1 .2l1 .3l1 .2l1-.1l1-.3l1-.6l1-.9l1-1.5l1-1.8l1-1.3l1-.6l1 0l1 1.1l1 1.6l1 2.4l1 1.5l1 1l1 .3l1-1.1l1-.4l1-.1l1 .3l1-.1l1-.5l1-.3l1 .1l1 0l1 .1l1 .2l1 .2l1 .3l1 .3l1 .2l1 .1l1 0l1 0l1 0l1 .2l1 .4l1 .8l1 .7l1 .6l1 .5l1 .4l1-1l1-1.8l1-.1l1 1.5l1 1l1-.4l1-.4l1 .6l1 0l1-.1l1 .5l1 .8l1 .7l1 .6l1 .7l1 .4l1-.4l1-.7l1-.1l1 1.3l1 2.2l1 .5l1-1.4l1-1.5l1-.2l1 .2l1 .2l1 .3l1 .2l1-.1l1-.1l1-.2l1-.5l1-1l1-1.3l1-1.3l1-1.1l1-.5l1-.1l1 0l1 0l1 .1l1 .8l1 1.2l1 1.2l1 1l1 .8l1 .1l1 .2l1 .4l1 .2l1-.7l1-1.4l1-1.8l1-1.4l1-.6l1 .4l1 .4l1 .1l1-.5l1-.7l1-.5l1-.1l1 .7l1 .7l1 .1l1-.4l1-.5l1-.4l1-.2l1 0l1 .2l1 .1l1 .3l1 .3l1 .4l1 .5l1 .4l1 0l1-.1l1-.1l1 0l1-.2l1-.6l1-1.5l1-1.7l1-2.1l1-1.6l1-.7l1-.3l1 0l1 .5l1 .8l1 1.4l1 1.5l1 1.3l1 1.1l1 1l1 .8l1 .4l1 .4l1 .4l1 .3l1 0l1-.1l1 .1l1-.1l1-.5l1-.5l1-.2l1 .2l1 .1l1 0l1 .1l1 .2l1 .3l1 .5l1 .4l1 .1l1 0l1 .3l1 .2l1 0l1-.7l1-.9l1-1l1-1l1-1.3l1-.7l1-.4l1-.2l1 .1l1 .6l1 .5l1-.6l1-.9l1-.8l1-.4l1-.8l1-.6l1-.3l1 1.1l1 .4l1 .2l1 .6l1 .8l1 1.7l1 2.2l1 1.5l1 .4l1 .1l1 .8l1 1.9l1 2.1l1 1l1 .3l1-.1l1-.1l1-.1l1-.2l1-.3l1-.3l1-.1l1 .1l1 .4l1 .6l1 .7l1 1.2l1 1.2l1 .6l1-1.1l1-2l1-.8l1-.2l1-.2l1-.6l1-.2l1 0l1-.1l1-.2l1-1l1-1l1-1.1l1-1.9l1-1.8l1-.7l1-.5l1-.2l1-.3l1-.2l1-.1l1 0l1-.1l1-.2l1-.7l1-.8l1-.4l1 1.1l1 .9l1-.4l1 .1l1 .3l1 .2l1 0l1-.5l1-.6l1-.5l1-.9l1-1.7l1-1.6l1-1.3l1-.4l1 .5l1 .8l1 .8l1 .5l1 .2l1 0l1 0l1 .3l1 .5l1 .5l1 .2l1-.3l1-.4l1-.4l1 0l1 .4l1 .8l1 .5l1 .1l1-.1l1-.1l1 0l1 0l1-.8l1-1.2l1 .1l1 .6l1 .8l1 .8l1 .6l1 .6l1 .5l1 .7l1 .8l1 1.1l1 1.2l1 1.3l1 .9l1 .4l1-.3l1 0l1 .1l1-.3l1-.5l1-1.1l1-1.1l1 .3l1-1l1-2l1-1.9l1 0l1 1.5l1 2.3l1 3.1l1 2.7l1 2.2l1 1.8l1 .3l1-.6l1-.7l1 .1l1 .3l1 .3l1 .2l1 0l1 0l1 0l1 .2l1 .3l1 .3l1-1.8l1-2.2l1 .1l1 .6l1 .5l1 .3l1 .5l1 .7l1 1l1 .7l1 .8l1 .2l1-1l1-2.1l1-2.6l1-2.4l1-1.4l1-.7l1-.5l1-.4l1-.7l1-.5l1-.5l1 0l1-.3l1-.7l1-.8l1-.1l1 .4l1 .1l1-.3l1-.3l1-.4l1-.2l1-.4l1-.5l1-.2l1 .6l1 .3l1-.7l1-1.1l1-1l1-.8l1-.6l1 0l1 .5l1 .8l1 .5l1 .6l1 .4l1 .5l1 .7l1 1.1l1 1l1 .9l1 .6l1 .5l1 .2l1 0l1-.1l1-.2l1 .2l1 .6l1 .6l1 .5l1 .5l1 .6l1 .6l1 .3l1 .1l1 .2l1 .3l1 .3l1 .1l1-.1l1-.2l1-.3l1-.5l1-.6l1-.6l1-.4l1-.7l1-.6l1-.1l1 .5l1 .6l1 .6l1 .4l1 0l1-.5l1-.6l1-.8l1-.9l1-1.3l1-1.4l1-.2l1 .8l1 1l1 1l1 1.2l1 .4l1-1l1-2.1l1-1.6l1-.9l1-.4l1 .2l1 .6l1 .7l1 .7l1 .6l1 .7l1 .4l1 .1l1-.2l1-.2l1 0l1-.1l1-.1l1 0l1 .8l1 1.9l1 1.7l1 .5l1-.2l1-.4l1-.3l1-.1l1 0l1 .2l1 .1l1 .2l1-.1l1 .1l1 0l1 .1l1-.1l1 0l1 .4l1 .4l1 .3l1-.2l1-.3l1-.3l1-.2l1-.1l1-.4l1-.7l1-.4l1 0l1 .3l1 .1l1 0l1-.2l1-.3l1-.1l1 .2l1 .2l1 .4l1 .1l1-.5l1-.9l1-.3l1-.1l1-1.1l1-1.5l1-1.7l1-1.7l1-.7l1 .4l1 .9l1 1.3l1 1.3l1 1.1l1 .1l1-.3l1 .2l1 .7l1 .4l1 0l1 .2l1 .3l1-.1l1-.3l1 .3l1 .5l1 .3l1 .2l1 .1l1 .2l1 .2l1 .2l1 .2l1 .3l1 .3l1 .3l1 .2l1-.5l1-1.1l1-1.1l1-.9l1-.2l1-.2l1-.2l1-.4l1-.4l1-.4l1-.4l1-.3l1-.2l1 .5l1 1.4l1 .9l1 .4l1-.5l1-2.7l1-2.6l1-1.4l1-.1l1-.5l1 0l1 .5l1 .6l1 .5l1 .7l1 .3l1-.6l1-2l1-1.6l1 .1l1 1.2l1 1.3l1 1l1 .5l1 .6l1 1l1 1.8l1 1.9l1 2.7l1 2.4l1 .4l1-.7l1-.1l1 .9l1 .9l1 .7l1 1.8l1 2.8l1 1.6l1 .5l1 .2l1 0l1-.3l1-.3l1-.3l1-.5l1-.5l1-.7l1-.5l1-.7l1-.6l1-.8l1-.3l1-.3l1 0l1-.1l1-.3l1-.7l1-.8l1-.8l1-.7l1-.6l1-.7l1-.8l1-.7l1-.7l1-.8l1-.8l1-.9l1-1.3l1-.9l1-.6l1-.4l1-.2l1 .1l1 .1l1 .2l1-.3l1-.4l1-.5l1-.7l1-.9l1-.8l1 0l1 .2l1 .2l1 0l1-.1l1-.4l1-.4l1 1.6l1 1.5l1 .8l1 1.4l1 .3l1-2.1l1 0l1 1.1l1 .3l1-.4l1-.5l1-.1l1 .6l1 .4l1 .3l1 .5l1 .6l1 .9l1 1l1 .8l1 .2l1-.4l1-.8l1-.7l1-.6l1-.8l1-.5l1 .4l1 .8l1 .8l1 .5l1 .2l1 .3l1 .5l1 .5l1 .7l1 .6l1-.4l1-.8l1-.2l1 .1l1-.6l1-.9l1-1l1-1.9l1-1.8l1-1.2l1-.4l1-.2l1 .2l1 1.1l1 1.5l1 .8l1-.8l1-2.1l1 0l1 1.3l1 1.3l1 1.2l1 1.2l1 .6l1 .3l1 .3l1 .1l1 .3l1 1l1 1.3l1 2.1l1 2.6l1 2l1 .6l1 .2l1 .1l1 1.5l1 1l1-.8l1-1.4l1-1.4l1-.8l1 .2l1 0l1-1.9l1-2.6l1-1l1 1l1 1l1-.6l1-1.1l1-.6l1 .1l1 .3l1-.1l1-.5l1-.5l1-.4l1-.1l1 .1l1 .5l1 .3l1-.4l1-1.1l1-1.1l1-.7l1-.1l1-.2l1-.2l1-.4l1-.6l1-1.2l1-1.5l1-1.4l1-1.3l1-.9l1-.3l1 .2l1 .5l1 .8l1 1.1l1 .6l1 .9l1 1.6l1 .9l1-.3l1 .4l1 .4l1 .2l1-.4l1-.6l1-.3l1 .9l1 1.4l1 1l1 .3l1 .1l1 .7l1 .7l1 .4l1 .2l1 .1l1 0l1 0l1 0l1 .1l1-.1l1 .1l1 .3l1-.6l1-1.1l1-.9l1-.3l1-.1l1-.2l1-.4l1-1l1 .5l1 1.1l1 .5l1 .3l1-.4l1-.7l1-.6l1-.6l1-.6l1-.7l1-.5l1-.5l1 .1l1 0l1-.6l1-1l1-1.4l1-1.6l1-2.1l1-1.7l1-1.1l1-.4l1 .5l1 .5l1 .4l1 .3l1 .3l1 0l1-.1l1-.4l1-.6l1-.2l1 .3l1 1.4l1 2.3l1 2.2l1 2.4l1 2.1l1 2.1l1 2.3l1 3.1l1 3.6l1 2.8l1 1.8l1 1.1l1 .3l1 .4l1 .5l1 .4l1 0l1-.3l1 .4l1 .5l1-.2l1-1.4l1-2.2l1-1.9l1-.9l1-.2l1-.2l1-.3l1-.4l1-.5l1-.5l1-.6l1-.4l1-.4l1-.3l1-.5l1-.4l1-.3l1 .1l1-.3l1-1l1-2.1l1-2.2l1-1l1 .8l1 1.3l1 1l1 0l1-2l1-2.3l1-.5l1-.4l1-.3l1 .4l1 .5l1-.1l1-.4l1-.6l1-.2l1-.6l1-.3l1-.2l1 .1l1-.1"/>
<path d="M1071.0 1748.9l1 .6l1 .5l1 .9l1 1.6l1 1.2l1 .1l1-1l1-1.2l1-1.1l1-.5l1-.3l1 0l1 .1l1 0l1-.1l1 0l1-.1l1-.2l1-.4l1 0l1 .4l1 .7l1 .9l1 1.5l1 1.8l1 1.6l1 1.4l1 1.4l1 1.7l1 1.8l1 2l1 1.9l1 1.5l1 1.2l1 .8l1 .7l1 .7l1 .9l1 .9l1 .2l1-.4l1 0l1 .5l1 .7l1 .7l1 .5l1 .3l1 .1l1 .7l1 .9l1 .8l1 .2l1-.1l1-.3l1-.4l1-.4l1-.3l1-.3l1-.4l1-.1l1 .7l1 1.5l1 1.7l1 2.2l1 2.2l1 1.3l1 .5l1-.1l1-2l1-2.7l1-4l1-2.4l1-1.2l1 .2l1 2.6l1 1.4l1 .8l1-.2l1-1l1-.8l1-.9l1-.9l1-.7l1-.7l1-.9l1-.9l1-.9l1-.6l1-.6l1-.6l1-.6l1-.6l1-.7l1-.7l1-.8l1-.7l1-.7l1-.6l1-.4l1-.2l1 .4l1 .5l1-.1l1-.7l1 .1l1 .5l1-.4l1-2.8l1-1.2l1-.7l1-.3l1 .3l1 .8l1 .6l1 .6l1 .5l1 1.1l1 1l1-.3l1-1.8l1-2.3l1-.9l1 .2l1 .6l1 .3l1 .1l1 .1l1-.2l1 0l1-.3l1-.3l1-.3l1 .2l1 .5l1 .6l1 .5l1 .4l1-.5l1-1.5l1-.8l1-.6l1-.3l1-.3l1-.4l1-.3l1-.4l1 .1l1 1.1l1 1.4l1 .6l1 .6l1 .8l1 1.2l1 1.4l1 1.3l1 .9l1 .5l1 .4l1 .6l1 .7l1 .7l1 .7l1 .7l1 .6l1 .3l1 .2l1 .2l1 .4l1 .3l1 .2l1 0l1 0l1 0l1 0l1 0l1 .2l1 .2l1 .2l1 .2l1 .3l1 .4l1 .4l1 .4l1 .8l1 1.9l1 2.2l1 2.5l1 2l1 .3l1 0l1-.3l1-1.1l1-1.5l1-1.4l1-1.4l1-1.1l1-1l1-.8l1-.6l1-.6l1-.8l1-.9l1-1l1-.8l1-.7l1-1l1-1.1l1-.9l1-.9l1-.8l1-.8l1-.5l1-.5l1-.3l1-.3l1-.5l1-.7l1-1l1-.5l1-.3l1 .1l1 .1l1 .3l1 .4l1 .5l1 .4l1 .2l1 .2l1 0l1-.2l1-.4l1-.7l1-1.5l1-.7l1 2l1 2.5l1 3.1l1 3.4l1 4l1 3.5l1 2.7l1-.2l1-.3l1-1.2l1-2.6l1-2.4l1-2.8l1-3l1-2.2l1-1.5l1-1.1l1-1.2l1-1.8l1-1.9l1-1.2l1-.6l1-.2l1-.1l1 0l1 0l1-.2l1-.1l1-.2l1 .2l1 .5l1 .4l1-.2l1-.7l1-.7l1-.5l1 .5l1 1l1 .8l1 .8l1 1.3l1 2.4l1 2.1l1 2l1 1.6l1 1.4l1 1.1l1 .3l1-.2l1 .2l1 .5l1-.2l1-.2l1-.1l1 .1l1 .1l1 0l1 0l1 0l1 .1l1 .3l1 .6l1 .6l1 .1l1 1.1l1 1.4l1-.1l1-.5l1-.3l1-.1l1 .7l1 .9l1 .8l1 .6l1 1l1 1.4l1 2.6l1 1.5l1-.4l1-.8l1-.8l1-.1l1 .4l1 .6l1 .6l1 .1l1 0l1 .1l1-.1l1 0l1-.1l1-.2l1-.5l1-.9l1-1.6l1-1.4l1-.4l1-.1l1 .1l1-.2l1-.5l1-.4l1-.4l1-1l1-1l1-1l1-1l1-.7l1-.6l1-.5l1-.6l1-.8l1-1l1-1.1l1-1l1-1l1-.9l1-.9l1-1.9l1-1.5l1-.5l1-.1l1 .9l1 2.6l1 2.8l1 4.4l1 4.3l1 3.8l1 .2l1-2.5l1-3.4l1-5l1-4l1-3l1-2.4l1-1.7l1-.9l1-.6l1-.6l1-.7l1-.6l1-.7l1-.7l1-.7l1-.5l1-.6l1-.6l1-.4l1 .7l1 1l1-.6l1-1l1-.7l1-.2l1-.1l1-.1l1 .1l1 .4l1 .6l1 1.7l1 2.6l1 2.9l1 2.8l1 2.6l1 2.1l1 2.1l1 2l1 2l1 1.8l1 1.8l1 .8l1 0l1-.3l1 .1l1-.4l1-.8l1-.8l1 .2l1 .6l1 .7l1 .1l1-.1l1-.1l1 .6l1 1.2l1 .9l1 1.4l1 2.2l1 2.2l1 1.9l1 1.7l1 1.2l1 .7l1 .1l1-.6l1-1l1-1.1l1-1l1-1.1l1-1l1-.9l1-.6l1-.5l1-.3l1 0l1 .1l1 .1l1-1.4l1-2.3l1-2.1l1-1.2l1-1.2l1-1.2l1-1.4l1-1.5l1-1.3l1-.8l1-.7l1-.7l1-.5l1-.3l1-.1l1-.3l1-.3l1-.2l1 .3l1 .3l1 .4l1 .3l1 .8l1 .7l1-.4l1-1.4l1-1.3l1-1l1-.6l1 .7l1 1.3l1 1.6l1 1.9l1 2.5l1 2.9l1 3.6l1 .9l1-.9l1-1.1l1-.9l1-1l1-.3l1 1l1 1.9l1 1.3l1 1.2l1 .5l1-.3l1-1.1l1-1.1l1-1.1l1-1.1l1-1.3l1-1.3l1-1l1-.6l1-.7l1-.8l1-.8l1-.8l1-.8l1-.9l1-1.3l1-1.3l1-.6l1 0l1 .3l1 .3l1 0l1-.1l1-.1l1 0l1 .3l1 .4l1 .4l1 .7l1 .7l1 .7l1 .5l1 .4l1 .2l1 .2l1 .2l1 .1l1 .2l1 .2l1 .2l1 .4l1 .7l1 .3l1-.3l1-.4l1-.3l1-.1l1-.1l1-.1l1-.2l1-.1l1-.6l1-.5l1-.8l1-.7l1-.3l1 1l1 1.6l1 3.7l1 3.5l1 1.5l1 1.2l1 .4l1 .1l1-.1l1-.5l1-1l1-.9l1 .4l1 1.1l1 .1l1-.6l1-.5l1 .1l1 .3l1 .4l1 1.6l1 1.1l1-.4l1-1.4l1-1l1-1l1-1l1-.9l1-.7l1-.5l1-.5l1-.5l1-.5l1-.5l1-.4l1 0l1 .3l1 .2l1 .1l1 .2l1 .2l1 .2l1 0l1 0l1 .2l1 .4l1 .5l1 .3l1-.9l1-2.8l1-1.8l1-.7l1 .6l1 3.1l1 3.5l1 3.7l1 3.4l1 4.2l1 2.6l1 1.5l1-.1l1-.8l1-1.1l1-.9l1-.4l1 .3l1 .3l1-.6l1-1.2l1-1.4l1-1.3l1-1.2l1-1.6l1-1.9l1-2.8l1-2.9l1-3.3l1-3.2l1-2.4l1-2.4l1-3l1-3.6l1-3.4l1-1.9l1-2.2l1-1.9l1-.9l1-.4l1-.1l1 .1l1 .6l1 .7l1 .7l1 1.1l1 1.4l1 1.5l1 1.3l1 1.4l1 1.1l1 1l1 .9l1 .5l1 .5l1 .6l1 1l1 1.3l1 1.4l1 1.4l1 1.3l1 1.2l1 1.3l1 1.3l1 1.4l1 1.3l1 1.4l1 1.3l1 .9l1 .5l1 .1l1-.1l1 0l1 .4l1 .6l1 .7l1 .7l1 1.1l1 1.6l1 1.6l1 1.8l1 2.1l1 1.4l1 .2l1-.7l1-.9l1-1l1-.9l1 .2l1 1.7l1 .7l1-.1l1 0l1-1.8l1-.8l1 1.9l1 1.5l1 1.1l1 .4l1-1.2l1-1.7l1-1.6l1-1.9l1-1.1l1-.9l1-.7l1-.8l1-.9l1-.9l1-.9l1-.4l1 0l1 .1l1 .1l1-.4l1-.4l1-.9l1-1.5l1-1l1-.1l1 0l1 .3l1-.3l1-.4l1-.7l1-1.7l1-1.4l1 .3l1 1.4l1 2.4l1 2.9l1 3.2l1 3.1l1 2.4l1 2.7l1 1.4l1 .5l1-.3l1-.5l1-.8l1-1.3l1-1.2l1-.3l1 1.2l1 1.4l1-.8l1-2.8l1-2.5l1-2.7l1-2.3l1-1.7l1-1.6l1-2l1-2.5l1-2.9l1-3.2l1-3.5l1-3.5l1-3.6l1-2.8l1-1.4l1-1l1-.1l1 0l1 .5l1 1.5l1 2l1 2.1l1 1.9l1 1.3l1 1.4l1 1.9l1 2.3l1 1.6l1 .6l1 .5l1 1.1l1 .9l1 .8l1 .7l1 .9l1 .9l1 .8l1 .6l1 .5l1 .7l1 .7l1 .7l1 .5l1 .4l1 .6l1 .6l1 .4l1 .3l1 .3l1 .5l1 .6l1 1.2l1 1.8l1 2l1 1.7l1 1.9l1 1.5l1 .4l1-.6l1-1.3l1-1.6l1-2.4l1-1.1l1 .1l1 .1l1 .8l1 1.4l1-.3l1-.4l1-.4l1-.1l1-.1l1 0l1-.5l1-1l1-1.9l1-2l1-1.8l1-2.1l1-1.4l1-.8l1-.4l1-.4l1-.2l1-.2l1 .1l1 .1l1 .5l1 .4l1 .3l1 1.4l1 .7l1-.4l1-.4l1 .2l1 .6l1 1.2l1 2.4l1-1.2l1-2.5l1-1.3l1-.5l1 1l1 1.8l1 1.7l1 2.3l1 2.8l1 3.1l1 2.8l1 2.2l1 1l1-.1l1 .4l1 .7l1 1l1 1.4l1 1.6l1 1.5l1 1.3l1 .4l1-1l1-1.3l1-1.2l1-1.3l1-.9l1-.2l1 0l1 .2l1 .3l1-.3l1-.9l1-2.5l1-4l1-4.3l1-4.6l1-4.6l1-4.6l1-4.8l1-5l1-4.8l1-4.2l1-3.4l1-2.9l1-1.5l1-1.3l1-1l1-.3l1 .7l1 1.2l1 .7l1 .6l1 1.3l1 2l1 2.6l1 2.5l1 1.9l1 1.3l1 1l1 1l1 1l1 1l1 1l1 1.2l1 1.1l1 1.2l1 1l1 1.3l1 1.5l1 1.4l1 1.3l1 1.5l1 2l1 2.2l1 2.3l1 .9l1-1.7l1-2.7l1-2.2l1-1.6l1 1.2l1 4.1l1 3.6l1 4.2l1 3.2l1 2.1l1-.2l1-.1l1 0l1-.1l1-.6l1-.2l1 .2l1 .6l1 .6l1 .6"/>
<path d="M1066.0 1817.0l1 0l1 .5l1 .7l1 .5l1 .1l1-.5l1-.4l1-.1l1 .8l1 1l1 1l1 .8l1 .8l1 .7l1 .3l1 .1l1 .1l1 .2l1 .7l1 .7l1 .5l1 .3l1 .2l1 .3l1 .2l1 .4l1 .5l1 .4l1 .2l1-.6l1-1.2l1-1.2l1-1.2l1-1.2l1-1.3l1-1.6l1-1.6l1-1.3l1-.9l1-1.1l1-.7l1 .7l1 1.1l1-1.2l1-3.1l1-1l1 .6l1 1.7l1 3.6l1 3.5l1 2l1-.2l1-2.4l1-2.2l1-2.1l1-1.8l1-.9l1 .2l1 .4l1 .5l1 0l1-.5l1-1.1l1-1l1-1l1-.8l1-.2l1 .3l1 .6l1 .5l1 .2l1 .3l1 .2l1 .4l1 .3l1 .4l1 .3l1 .1l1-.1l1-.3l1-.2l1 .2l1 .9l1 1.1l1 .9l1 .7l1 .5l1-.1l1-.7l1-.6l1-.1l1 .2l1 .4l1 .6l1 .8l1 .8l1 .5l1 .3l1 .1l1 .3l1 .1l1 .3l1 .1l1 .1l1-.5l1-.4l1 .1l1 .5l1-.3l1-.8l1-.7l1 .2l1 1l1 1.2l1 .6l1-.9l1-1.4l1-1.1l1-1l1-1.2l1-1l1-.6l1-.3l1 .1l1 .5l1 .9l1 .7l1 1l1 .5l1 .1l1-.5l1-.2l1-.2l1 .1l1 .8l1 1.3l1 1.4l1 1.3l1 1.2l1 .9l1 .7l1 0l1-.1l1-.3l1 .1l1 .2l1 .6l1 .6l1 .7l1 .5l1 .1l1-.1l1-.5l1-.4l1-.3l1 0l1 .1l1 .2l1 .1l1-1l1-1.9l1-4.1l1-2.3l1-1l1-.3l1 1l1 .9l1-.6l1-1.8l1-.6l1 .9l1 1.5l1 .8l1 0l1-.1l1 0l1-.1l1-.3l1-.6l1-.2l1 .4l1 .7l1-.2l1-1.4l1-.9l1 .3l1 .8l1 .2l1-.2l1-.7l1-.3l1 1l1 1.2l1-.3l1-1.2l1-.7l1-.2l1-.2l1-1.5l1-2.7l1 .5l1 1l1 .6l1 .4l1 .6l1 .8l1 .8l1 .5l1 .5l1 1l1 1.4l1 1.5l1 1.1l1 1.2l1 .6l1 .2l1 0l1 0l1-.4l1-.4l1-.2l1-.2l1-.1l1-.2l1-.1l1-.1l1 0l1-.1l1 0l1 .2l1 .4l1 .1l1-.1l1-.6l1-.6l1-.7l1-.4l1-.4l1-.4l1-.5l1-1.5l1-1.9l1-1.8l1-1.8l1-1.6l1-1.2l1-.9l1-.2l1 .8l1 1.5l1 1l1 1l1 1.1l1 1.2l1 1.2l1 1.1l1 1.1l1 1.4l1 1.7l1 1.6l1 1.3l1 1.1l1 .9l1 .3l1 .1l1 .2l1 .3l1 .1l1 .1l1 .2l1 .4l1 .3l1 .4l1 .6l1 .7l1 .7l1 .7l1 1.2l1 .9l1-.7l1-1.9l1-2.2l1-2.2l1-2.1l1-1.5l1-1l1 .9l1 1.6l1-.2l1-3.4l1-3.4l1-2.2l1-1.1l1 1.2l1 2.6l1 1.1l1 1.1l1 .7l1 .5l1 .3l1 1l1 .7l1-6l1-4l1-1.3l1 .9l1 2.2l1 .9l1-.2l1-.1l1 .2l1 .7l1 1.6l1 1.4l1-2.9l1-4.6l1-2.2l1-1.4l1 .4l1 1.9l1 1.7l1 .5l1 .4l1 0l1-.1l1-.4l1-.2l1 0l1 .6l1 .7l1 0l1-.6l1-.6l1 .3l1 .9l1 .8l1 .7l1 .5l1 .5l1 .4l1 .4l1 .7l1 .5l1 .4l1 .2l1-.1l1-.1l1 0l1 .7l1 .7l1 .5l1-.3l1-.6l1-.7l1-.1l1 .7l1 1.2l1 1l1 .7l1 .5l1 .1l1-.8l1-1.4l1-2.2l1-3.3l1-2.1l1-1.1l1 .2l1 1.2l1 1.2l1 1.6l1 1.8l1 .9l1 .4l1-.2l1 .2l1 .5l1 1.4l1 1.4l1 1.1l1 .8l1 .6l1 .3l1 .3l1 .5l1 .4l1 .3l1 .2l1 .3l1 .4l1 .5l1 .4l1 .3l1-.2l1-.3l1-.5l1-.8l1-1.2l1-1l1 0l1 .5l1 .7l1 .1l1-.7l1-1.4l1-1.1l1-1l1-1l1-1.1l1-.7l1-.6l1-.4l1-.3l1-.4l1-.4l1-.3l1-.4l1-.5l1-.3l1 1.1l1 2.2l1 3l1-1.8l1-3.9l1-2.2l1-.5l1 .1l1 .1l1-1.7l1-2.1l1 1.4l1 2.2l1-.1l1-1.4l1-.9l1-.8l1 0l1 1.8l1 .6l1-.9l1-.7l1-.6l1-.2l1 .2l1 .7l1 .9l1 4l1 2.4l1 1.2l1-1l1-1.5l1 .5l1 1.6l1 1.1l1 .2l1 .1l1 .4l1 .9l1 .9l1 .6l1 .2l1 .4l1 .5l1 .2l1 .1l1 0l1 0l1-.1l1 0l1 0l1-.2l1-.2l1-.5l1-.7l1-1l1-1l1-1.3l1-1.4l1-1.6l1-1.3l1-1.6l1-1.2l1-.5l1 0l1 0l1 .1l1 .2l1 .4l1 .4l1 .2l1-.4l1-.4l1-.4l1 .8l1 1.5l1 1.5l1 .7l1 .6l1 .7l1 .8l1 1l1 1l1 1.2l1 1.1l1 1l1 .8l1 .6l1 .2l1-.4l1-.4l1-.5l1-.4l1-.7l1-.6l1 0l1 0l1 .1l1-.4l1-.2l1-.1l1-.2l1-.2l1-.3l1-.5l1-1.2l1-.3l1 1.5l1 1.5l1-.2l1-.2l1-.2l1-.3l1-1.2l1-1.4l1-.6l1 .3l1 .4l1-.4l1-2l1-1.2l1 1.4l1 1.7l1 0l1-.9l1-.6l1 2.6l1 4.8l1 5l1 1.9l1-.2l1-5.4l1-6.6l1-3.8l1-.8l1 1.2l1 2.4l1-2.3l1-2.1l1-1.1l1-.5l1 .9l1 .8l1-.4l1-.5l1-.1l1 1l1 1.7l1 2.5l1-1.7l1-3.7l1-1.9l1-.9l1 1.1l1 2.2l1 1.7l1 1.4l1 1.2l1 1l1 .7l1 .7l1 .4l1 .3l1 .5l1 .6l1 .8l1 .8l1 .7l1 .3l1-.1l1-.2l1-.7l1-.7l1-.6l1 .1l1 .1l1 .2l1-.1l1 .2l1-.4l1-.5l1-1l1-.7l1-.9l1-.8l1-1l1-2.6l1-3l1-1.9l1-1.3l1-.5l1 .3l1 .6l1 .6l1 .6l1 .1l1 .4l1 .5l1 .7l1 .7l1 .6l1 .7l1 1l1 1.2l1 1.4l1 1.3l1 .9l1 .8l1 1.4l1 2.7l1 2.6l1 2.1l1 1.7l1 1l1 .1l1-.2l1-.3l1-.3l1-.4l1-.5l1-.5l1-.5l1-.3l1-.5l1-.7l1-.7l1-.5l1-.4l1-.6l1-.7l1-.4l1-.2l1-.3l1-.4l1-.5l1-.1l1 .2l1 .6l1 0l1-1.5l1-1.8l1 .2l1 1.4l1 .7l1-1.3l1-2.4l1-1.5l1 .3l1 1.6l1 1.6l1 1.5l1 .5l1-1.6l1-2.2l1-2l1-1.4l1-1.5l1-1.4l1-1.5l1-.3l1 .8l1 .8l1-.5l1-1.5l1-.2l1 2l1 1.1l1-.4l1-.6l1-.5l1-.5l1 1l1 6.9l1-1l1-5.1l1-5.3l1-1.3l1 3.7l1 3.2l1 1.9l1 1.1l1 .3l1 .2l1 .1l1 0l1 0l1 0l1 1.2l1 1.2l1 .5l1 .3l1 .5l1 1.4l1 1.8l1 1.7l1 1l1-2.6l1-3.2l1-1.9l1 .1l1 1.2l1 1l1 .8l1 .9l1 .5l1-.7l1-2.5l1-2.4l1-2.2l1-1.8l1-1.5l1-1.4l1-.6l1 .2l1 .4l1 .4l1 .4l1 .1l1 .1l1-.2l1-.4l1-.4l1 .3l1 1.3l1 1.5l1 1.3l1 .9l1 .9l1 .9l1 1.1l1 1.5l1 2.1l1 2.6l1 2l1 1.5l1 1.3l1 1l1 .6l1 .4l1-.2l1-.5l1-.7l1-.5l1-.6l1-.8l1-.9l1-.7l1-.4l1-.3l1-.6l1-1.9l1-2.5l1-.6l1-.2l1 .1l1 .1l1-.1l1-.2l1 .3l1 1.8l1 1.5l1 1.1l1 .7l1-1.2l1-3.9l1-3.6l1-1.4l1 1.4l1 .8l1-.8l1-1.1l1-1.2l1-1l1 .4l1 1.2l1 .5l1-.5l1-.5l1 0l1 .5l1 .5l1-3.2l1-2l1 1.2l1 .5l1-1.6l1-1.2l1-.7l1-.7l1 .1l1 1.1l1 1.3l1 .9l1 1.1l1 1.8l1 2.8l1 1.6l1-2l1-2.8l1 .6l1 2l1 4.4l1 1l1-2.7l1-.9l1 1.1l1 1.4l1 1.5l1 1.2l1 .3l1-.4l1-.2l1 .1l1 .5l1 .5l1 1l1 1l1-.5l1-2.1l1-1.8l1-1.6l1 .5l1 2l1 1.2l1-.8l1-1.1l1-1.2l1-1.8l1-2.1l1-2.2l1-2.3l1-1.6l1-1.3l1-.9l1-.5l1-.5l1 0l1 0l1 .1l1 .1l1 .1l1 .4l1 .3l1 .6l1 .5l1 .7l1 .5l1 .4l1 .1l1-.2l1-.3l1 .1l1 .6l1 .9l1 .9l1 .9l1 1.3l1 1.6l1 1.7l1 1.6l1 1.6l1 1.5l1 1.5l1 1.8l1 1.9l1 1.5l1 .9l1 .5l1 0l1-.3l1-.6l1-.6l1-.8l1-.5l1-.6l1-.3l1-.3l1-.3l1-.5l1-.6l1-.7l1-.7l1-.7l1-.7l1-.7l1-.6l1-.4l1-.1l1 .1l1 .1l1-.1l1 0l1-1.1l1-1.8l1-1.6l1-1.5l1 .8l1 3l1 1.3l1 .5l1 .7l1 1.6l1 1.4l1 1.4l1 0l1-5l1-4.9l1-4.2l1-3.2l1-1l1 .8l1 1.3l1 .9l1 1.2l1 1l1 .9l1 .1l1-.9l1-1.3"/>
<path d="M1071.0 1890.8l1 .2l1 .4l1 .3l1 .2l1 .2l1 .1l1 .2l1 .2l1 .3l1 .4l1 .5l1 1.1l1 1.2l1 .7l1 .4l1 .3l1 .3l1-.2l1-.3l1-.7l1-.4l1-.1l1 .3l1 .2l1-.5l1-.9l1-1.3l1-1.5l1-1.8l1-1.6l1-1.6l1-1.6l1-1.6l1-1.3l1-1.1l1-.9l1-.2l1 .6l1 .8l1 .5l1-.4l1-.4l1-.4l1-.1l1 0l1 .5l1 .8l1 .8l1 .1l1-.6l1-.7l1-.4l1 .2l1 .1l1 .1l1-.1l1-.1l1 .2l1 0l1-.3l1-.5l1-.6l1-1l1-1.5l1-1.4l1-1.3l1-.8l1 .2l1 .5l1 .8l1 1.9l1 1.7l1 .5l1 .1l1 .2l1-.5l1-.1l1 .3l1 .9l1 .6l1 .7l1 .7l1 .6l1 .3l1 .4l1 .2l1 .3l1 .2l1 .2l1 .3l1 .5l1 .6l1 .7l1 .5l1 .5l1 .2l1 .3l1 .1l1 .3l1-.1l1 .2l1-.2l1 0l1-.3l1 0l1-.1l1 .1l1-.1l1-.1l1-.6l1-1l1-1.1l1-1l1-.9l1-.7l1-.3l1-.4l1-.6l1-.8l1 .2l1 2.1l1 1.9l1 1l1 .8l1 0l1-.4l1-.5l1 0l1 1.5l1 2.2l1 1.6l1 1.7l1 1.3l1 .8l1 .6l1-.4l1-1.4l1-1.2l1-.5l1-.5l1 .4l1 1.5l1 1.3l1 .8l1 .5l1-.1l1-.3l1-.6l1-.4l1-1.1l1-1.2l1-1.3l1-1.1l1-1.4l1-1.4l1-1l1-.7l1-.5l1-.4l1-.4l1-.1l1-.1l1 0l1-.2l1-.1l1-.3l1-.6l1-.6l1-.2l1 .2l1 .2l1 .1l1 .2l1 .3l1 .3l1 .4l1 .2l1 .1l1 0l1 0l1-.3l1-.4l1-.7l1-1.3l1-2.4l1-2.8l1-2l1-2.1l1-1.2l1 .3l1 .8l1 .8l1 1.5l1 1.1l1-.1l1-.4l1-.5l1-.7l1-.2l1 1.4l1 2.2l1 1.8l1 1.5l1 1.4l1 1.5l1 1.7l1 1.8l1 1.2l1 .8l1 .4l1 .4l1 .4l1 .3l1 .4l1 .2l1 .6l1 .4l1 .5l1 .2l1 .2l1 .5l1 .4l1 .3l1 .2l1 .4l1 .3l1 .2l1-1l1-1.8l1-1.4l1-.8l1-1l1-1.1l1-1.6l1-1.8l1-2.1l1-3.5l1-3.9l1-1.2l1-.8l1 .1l1 .4l1 .5l1 .4l1 .8l1 1.2l1 1.4l1 1.9l1 3.2l1 2.4l1 1.6l1 1l1 1.1l1 2.4l1 3.6l1 1.2l1 0l1-.2l1-.3l1-.1l1 .2l1 .3l1 .3l1 .3l1 .3l1 .3l1 .3l1 .3l1 .4l1 .5l1 .1l1-.6l1-1.4l1-1.4l1-1.2l1-1.1l1-1l1-1.2l1-1l1-1.4l1-1.5l1-2.6l1-2.4l1-1.2l1-.5l1-.1l1 1.1l1 1.4l1 .5l1-.1l1 0l1 0l1 .4l1 .6l1 .3l1-.3l1-.6l1-.7l1-.2l1-.3l1-.2l1-.2l1 0l1-.2l1-.5l1-.7l1-.8l1-1l1-1.4l1-1.1l1-.4l1-.6l1-.7l1-.4l1 .2l1 .6l1 .6l1 .2l1-.1l1-.4l1-.4l1-.3l1 0l1 .5l1 .9l1 .6l1 1l1 1.1l1 1.4l1 1.8l1 1.4l1 .6l1 .2l1 .1l1 .1l1 .3l1 .2l1 .2l1 .1l1 .3l1 .3l1 .5l1 .4l1 .3l1 .3l1 .2l1 .4l1 .3l1 0l1-.1l1-.2l1 .8l1 1.6l1 1l1-.7l1-1.3l1-1.6l1-2.3l1-2.4l1-1.6l1-1.3l1-.6l1-.7l1-.3l1 .6l1 2.1l1 1.9l1 1.6l1 1.6l1 1.2l1 1.1l1 .7l1 .4l1 .4l1 1.5l1 2.8l1 3.2l1 1.1l1-1.2l1-1.2l1 .3l1 .3l1 .8l1 1.2l1 .1l1-.4l1-.5l1-.4l1-.2l1-.1l1-.1l1-.3l1-.5l1-.4l1-.2l1-.5l1-1.3l1-1.7l1-3.1l1-2l1-.7l1-.8l1-.9l1-1.4l1-.9l1-.4l1 .2l1 .1l1 .1l1-.1l1 .1l1 0l1 .3l1 .2l1-.6l1-1.1l1-1.1l1-.5l1-.5l1-.2l1-.2l1-.5l1-1.6l1-1.9l1-1.2l1-.8l1-.5l1 .5l1 1.2l1 .9l1 .4l1 .4l1-.3l1-1.3l1 0l1 1.2l1 1.8l1 1.2l1 1.1l1 .8l1 .7l1 .7l1 .8l1 .8l1 1.2l1 1.1l1 1.1l1 .9l1 1.1l1 1.1l1 1l1 1l1 .8l1 .7l1 .2l1 .2l1-.1l1-.1l1 0l1-.2l1-.2l1-.7l1-.7l1-.8l1-.6l1-.7l1-.8l1-.9l1-.8l1-.8l1-.6l1-.8l1-.8l1-1.6l1-2.6l1-2.4l1-1.3l1-.9l1 0l1 .7l1 1l1 1l1 1.1l1 0l1-.8l1-.7l1 .6l1 1.5l1 1.5l1 1.5l1 1.7l1 1.5l1 1.5l1 1.6l1 2.3l1 1l1 .3l1 .4l1 1.6l1 2l1 .8l1 .5l1-.4l1-1.3l1-.7l1-.4l1-.3l1 .1l1 .4l1 .4l1 0l1-1.5l1-1.8l1-1.7l1-1.5l1-.7l1-.3l1-.1l1 0l1 .1l1-.2l1-.3l1-.4l1-.2l1-.2l1-.3l1-.3l1-.3l1-.3l1-.2l1 0l1 0l1-.2l1-.1l1 .1l1 .2l1 .4l1 0l1 0l1-.4l1-.3l1-.4l1-.5l1-.6l1-.6l1-.4l1-.6l1-.9l1-1.2l1-2.5l1-1.1l1 .5l1 .3l1-.1l1-.2l1-.1l1-.7l1-1.7l1-.8l1-.3l1 .1l1 .4l1 .9l1 1.1l1 1.7l1 1.8l1 1.9l1 2l1 1.3l1 .9l1 .7l1 .8l1 .9l1 .9l1 .8l1 .6l1 .8l1 .8l1 .7l1 .4l1 .4l1 .1l1-.1l1-.3l1-.3l1-.3l1-.5l1-.8l1-.9l1-.6l1-.6l1-.4l1-.7l1-.7l1-.6l1-.9l1-1.3l1-1.5l1-2.1l1-2.5l1-2.4l1-2.4l1-1.4l1 .5l1 1.3l1 1.5l1 2l1 1.5l1-.5l1-1.7l1-1.1l1-.5l1-.5l1 1.6l1 2.4l1 2.4l1 2.3l1 2.3l1 2.4l1 2.2l1 2l1 1.5l1 1.5l1 1.1l1 1.3l1 1l1 .9l1 .8l1 .5l1 .2l1 0l1 0l1-.3l1-.5l1-.7l1-.1l1 .2l1 .2l1-.2l1-.6l1-.8l1-.9l1-2.2l1-2.9l1-1.2l1 .7l1 .8l1 .3l1 0l1-.4l1-1.7l1-1.9l1-1.1l1-.4l1-.4l1-.5l1-.5l1-.2l1-.2l1-.1l1-.5l1-.8l1-1l1-.9l1-.9l1-.7l1-.8l1-.6l1-.6l1-.5l1-.3l1 0l1 .1l1 0l1-1.4l1-1.6l1-.2l1 1.3l1 .7l1 .1l1-.2l1-.1l1 .4l1 .5l1 .2l1-.7l1-.8l1-.6l1 .6l1 1.2l1 1.4l1 1.4l1 1.6l1 .9l1 .6l1 .5l1 .6l1 .8l1 .8l1 .9l1 .6l1 .6l1 .7l1 .6l1 .7l1 .5l1 .4l1-.1l1-.3l1-.5l1-.2l1 .2l1 .2l1 .1l1-.5l1-.6l1-.8l1-.6l1-.9l1-.9l1-1.4l1-1.9l1-1.8l1-1.4l1-1.3l1-1.3l1-.9l1-.6l1-.2l1 .4l1 1.2l1 .5l1-.2l1-.4l1-.1l1 .3l1 1.3l1 1.7l1 2.4l1 2.6l1 1.6l1 1.1l1 1.3l1 1.8l1 1.9l1 1.8l1 1.9l1 .8l1-.6l1 .2l1 1.5l1 2.2l1 2.3l1 .1l1-.4l1-.5l1-.3l1-.1l1 .1l1-.4l1-2l1-2.6l1-2.5l1-2.6l1-1.1l1-.5l1-.3l1 .2l1 .7l1 .1l1-1.1l1-.8l1 .1l1 0l1-.3l1-.8l1-.8l1-.5l1-.1l1 .2l1 0l1 0l1-.6l1-.6l1-.6l1 .1l1-.1l1-.1l1-1.1l1-2.4l1-2.3l1-2.1l1-1.9l1-1.2l1-.9l1-.1l1 .4l1 .7l1 .3l1 .3l1 0l1 0l1 0l1-.1l1 0l1-.1l1 .1l1 .5l1 1.1l1 1l1 1.3l1 2.1l1 2.1l1 2.1l1 1.8l1 1.7l1 1.9l1 1.5l1 1.2l1 .9l1 .8l1 .1l1-.1l1-.2l1 .2l1 0l1-.2l1-.5l1-.3l1-.2l1-.4l1-.4l1-.7l1-.2l1-.2l1-.1l1-.7l1-1.1l1-1.7l1-2.1l1-2l1-2l1-2.3l1-2.4l1-1.9l1-1.5l1-.7l1 .2l1 .1l1 .1l1 .7l1 .9l1 .6l1-.3l1-.7l1 0l1 .2l1 .3l1 .6l1 1.4l1 1.8l1 2.3l1 2.1l1 1.1l1 .5l1-1.1l1-1.1l1 .3l1 1.9l1 1.8l1 1.7l1 1.6l1 1.7l1 1.8l1 2l1 1.9l1 1.4l1 1.5l1 1.2l1 .7l1-.1l1-.1l1-.1l1-.2l1-.5l1-.4l1-.5l1-.3l1-.6l1-.6l1-1.1l1-1l1-1.2l1-1.2l1-1l1-.7l1-.5l1-.6l1-.6l1-.7l1-.6l1-.7l1-.6l1-.5l1-.6l1-.4l1-.2l1 .1l1 0l1-.2l1-.4l1-.7l1-.9l1-.6l1 .2l1 2l1 1.3l1-.7l1-2.1l1-1.7l1-1.6l1-1l1-.3l1-.4l1 0l1 .3l1 .7l1 .2l1 0l1-.1l1-.1l1-.2l1-.6"/>
<path d="M1071.0 1929.1l1 1l1 1.9l1 4.3l1 5.2l1 4.9l1 3.1l1 2.3l1 1.7l1 1.2l1 .9l1 .9l1 .9l1 1l1 1l1 .6l1 .7l1 .5l1 .4l1-.2l1-.5l1-1l1-.7l1-1l1-1.1l1-1.4l1-1.6l1-2l1-2.2l1-2.2l1-2.3l1-2.4l1-2l1-2.2l1-1.9l1-1.5l1-.6l1-.5l1-.3l1 0l1 0l1 .3l1 .1l1 0l1-.2l1-.2l1-.1l1 .1l1 .1l1 .3l1 .1l1 0l1-.2l1 0l1 0l1 0l1-.1l1-.1l1-.1l1-.4l1-.6l1-.7l1-.8l1-1.3l1-1.6l1-1.6l1-1.6l1-1.6l1-1.6l1-1.8l1-1.9l1-1.6l1-1.3l1 1.4l1 4.4l1 6.4l1 6l1 4.9l1 1.2l1 .3l1-.6l1-.7l1-.6l1-.4l1 0l1 .6l1 .7l1 .3l1 .2l1 .2l1 .9l1 .7l1 .9l1 .4l1 .3l1 .3l1 .3l1 .4l1 .2l1 .2l1-.3l1-.5l1-.8l1-1.1l1-1.2l1-1.3l1-1.2l1-1.2l1-1.2l1-1.5l1-1.6l1-1.7l1-1.7l1-1.6l1-1.3l1-1.1l1-1.2l1-1l1-.3l1 0l1 .1l1 .3l1 0l1-.4l1-.5l1 .9l1 4.4l1 5l1 5.2l1 4l1 3.5l1 2.1l1 1.8l1 1.1l1 .8l1 .5l1 .3l1 .3l1 .1l1 .4l1 .4l1 .8l1 .9l1 .8l1 .1l1-.5l1-.9l1-1l1-1l1-1.4l1-1.6l1-2.1l1-2.6l1-2.6l1-1.9l1-1.5l1-.3l1-.1l1-.2l1-.3l1-.5l1-.6l1-.5l1-.2l1 0l1 0l1 0l1 0l1 0l1-.1l1-.1l1-.1l1 .3l1 .7l1 .7l1 .3l1 .2l1 .3l1 .6l1 .4l1-.1l1-.5l1-.5l1-.5l1-.3l1-.5l1-.8l1-.9l1-.8l1-.9l1-1.1l1-1.5l1-1.4l1-1.4l1-1.5l1-1.5l1-1.6l1-1.9l1-2l1-1.7l1-.9l1-.7l1 .1l1 4l1 5.3l1 6.4l1 3.6l1 2.6l1 1.3l1 1l1 .8l1 1.1l1 .9l1 .8l1 .7l1 .7l1 .5l1 .5l1 .5l1 .7l1 .6l1 .5l1 .1l1 .1l1 .2l1 .1l1-.1l1-.8l1-1.7l1-2.1l1-1.9l1-2.4l1-2.8l1-2.9l1-3.2l1-3l1-2.7l1-2.6l1-2.7l1-2l1-1.5l1-.9l1-.2l1 .3l1 .2l1 .5l1 .8l1 1.2l1 2.8l1 5.4l1 7l1 6.8l1 5.6l1 2.1l1 .9l1 1.1l1 1l1 1l1 .8l1 .9l1 .6l1 .6l1 .7l1 .7l1 .9l1 .7l1 .6l1-.1l1-.6l1-1.1l1-1.1l1-1.7l1-2.1l1-1.9l1-1.6l1-1.4l1-1.6l1-1.5l1-1.5l1-1.4l1-1.1l1-1.2l1-.9l1-1.1l1-.9l1-.8l1-.6l1-.6l1-.3l1-.2l1-.1l1 .1l1-.1l1 .1l1-.1l1 .3l1 .1l1 .4l1 .3l1 .3l1 .1l1-.2l1 0l1-.3l1-.2l1-.5l1-.5l1-.5l1-.7l1-1l1-1.1l1-1l1-1l1-1l1-1l1-1.4l1-1.5l1-1.8l1-1.8l1-1.9l1-1.3l1-1l1-.7l1-.2l1 2.8l1 4.3l1 5l1 4.4l1 3.6l1 2.5l1 1.9l1 1.4l1 1l1 .9l1 .6l1 .1l1 .2l1 0l1 .2l1 .4l1 .9l1 1.1l1 1.4l1 1l1 1.2l1 .8l1 .7l1 0l1-.2l1-.6l1-1.3l1-1.9l1-1.9l1-2.1l1-2.5l1-2.9l1-3.4l1-3.6l1-3.8l1-3.3l1-2.6l1-2.3l1-1.2l1-.6l1 .3l1 1.1l1 1l1 .5l1 .5l1 .6l1 2.6l1 5.3l1 6l1 6.3l1 6l1 3.1l1 1.8l1 1.2l1 1.2l1 1.2l1 1.1l1 .9l1 .6l1 .6l1 .6l1 .7l1 .6l1 .3l1-.3l1-.9l1-1l1-1.2l1-1.5l1-1.7l1-1.4l1-1.6l1-1.5l1-2.1l1-2.3l1-2.6l1-2.3l1-1.7l1-1.6l1-1.2l1-1l1-.6l1-.6l1-.7l1-1l1-1l1-.6l1 .1l1 .6l1 .8l1 .7l1 .4l1 .5l1 .3l1 .1l1-.1l1-.1l1-.1l1-.1l1-.4l1-1.5l1-1.8l1-1.6l1-1.4l1-1.5l1-1.2l1-1.4l1-1.2l1-1.3l1-1.9l1-2.5l1-.5l1-.1l1 1l1 5.9l1 6.9l1 6.2l1 4.8l1 .9l1 .5l1 .3l1 .7l1 .6l1 .7l1 .6l1 .7l1 .9l1 1l1 1.1l1 1l1 .6l1 .5l1 .6l1 .8l1 .3l1 .1l1-.3l1 0l1-.3l1-.7l1-1.1l1-1.5l1-2.4l1-2.8l1-3.1l1-3.6l1-3.3l1-3.5l1-2.9l1-2.4l1-2l1-2.1l1-2.4l1-1.6l1-.9l1-.7l1-.2l1-.1l1 .3l1 .3l1 1.2l1 6.7l1 6l1 5.7l1 5.8l1 3.4l1 1.6l1 1.3l1 1.5l1 1.5l1 1.1l1 1l1 1.1l1 1l1 .8l1 .9l1 .7l1 .4l1-.1l1-.3l1-.6l1-.9l1-1.2l1-1.4l1-1.6l1-1.5l1-1.8l1-1.8l1-1.4l1-1.2l1-1.1l1-.9l1-.5l1-.4l1-.4l1-.1l1 0l1 .3l1 .3l1 .2l1-.1l1-.3l1-.5l1-.5l1 0l1 .3l1 .6l1 0l1-.4l1-.9l1-.3l1-.1l1 .1l1 .1l1 0l1 .1l1-.1l1-.1l1-.6l1-.8l1-.6l1-.2l1 .1l1-.1l1-.3l1-.6l1-1l1-1l1-1.1l1-1l1-1l1-.9l1-1.3l1-1.5l1-1.4l1-1.1l1-1.3l1-1.1l1-.5l1 1.1l1 3l1 7.1l1 6.1l1 2.8l1 .7l1 .6l1 .4l1 .7l1 .4l1 .4l1 .3l1 .5l1 .5l1 .7l1 .6l1 .6l1 .5l1 .6l1 .5l1 0l1 .1l1-.1l1 0l1-.7l1-.9l1-1l1-1.1l1-1.2l1-1.6l1-2.2l1-3.3l1-3.3l1-2.9l1-2.4l1-2.5l1-2.6l1-3l1-2.9l1-1.9l1-1.6l1-.8l1-.3l1-.1l1-.1l1-.3l1-.7l1 .8l1 4.2l1 5.1l1 6.7l1 4.9l1 3.3l1 2.4l1 2.1l1 1.7l1 1.5l1 1.5l1 2.3l1 2.6l1 2.9l1 3.3l1 2.8l1 1.8l1 1.6l1 .9l1 .2l1-.7l1-1.1l1-1.3l1-1.6l1-1.7l1-1.8l1-1.6l1-1.8l1-1.6l1-1.5l1-1.4l1-1.3l1-1l1-.7l1-.4l1-.3l1-.5l1-.6l1-.5l1-.4l1-.5l1-.8l1-.8l1-.5l1-.3l1-.2l1-.3l1-.2l1-.3l1-.2l1-.3l1-.6l1-.6l1-.9l1-.5l1-.5l1 0l1-.4l1-.5l1-.7l1-.6l1-.5l1-.6l1-.8l1-1.1l1-1.6l1-2.1l1-2.1l1-2.1l1-2.1l1-2l1-1.5l1-1.4l1-.8l1 .1l1 .2l1 .2l1-.7l1 1.7l1 5.2l1 6.1l1 5.5l1 4.9l1 2.9l1 2.1l1 1.6l1 1l1 .9l1 1.1l1 1.5l1 1.2l1 1.1l1 .7l1 1.1l1 1l1 .8l1 .7l1 .8l1 .5l1 .1l1-.4l1-.6l1-1l1-.9l1-1.3l1-1.5l1-2.6l1-3.7l1-3.5l1-4.1l1-4.1l1-4l1-3.8l1-3.3l1-3.3l1-2.5l1-1.7l1-1.1l1-.2l1 .4l1 .3l1-.5l1-1l1-.9l1 .3l1 4.2l1 5.9l1 7.4l1 6.4l1 5l1 3.4l1 1.4l1 .7l1 1l1 1.8l1 2.1l1 2.1l1 1.7l1 1.7l1 1.6l1 1.6l1 1.9l1 1.5l1 .6l1-1l1-1.5l1-.9l1-.5l1-.5l1-1.1l1-2.5l1-3.4l1-2.4l1-2.3l1-2l1-1.6l1-1.4l1-1l1-.5l1-.4l1-.2l1-.5l1-.3l1-.2l1 0l1-.3l1-.3l1-.5l1-.3l1-.4l1-.3l1-.2l1-.2l1-.1l1 0l1 0l1-.2l1-.6l1-.6l1-.5l1-.4l1-.6l1-.6l1-.8l1-.9l1-1.2l1-1.2l1-1.2l1-1.3l1-1.4l1-1.2l1-.9l1-.7l1-.7l1-.5l1-.5l1-.4l1-.5l1 .3l1 3.3l1 4.7l1 5.6l1 4.6l1 2.6l1 1.1l1 .9l1 .9l1 1.3l1 1l1 .8l1 .7l1 1.1l1 1.2l1 1.1l1 .9l1 1l1 .7l1 .6l1 .5l1 .5l1 0l1-.3l1-.4l1-.5l1-.8l1-1.4l1-1.9l1-2.6l1-3.6l1-3.7l1-4.2l1-4.3l1-3.9l1-3.4l1-2.8l1-2.2l1-2l1-1.3l1-.5l1-.4l1-.4l1-.4l1-.9l1-.7l1 .4l1 3.5l1 5.3l1 6.2l1 4.5l1 2.2l1 1l1 .8l1 .8l1 .6l1 .8l1 .8l1 .7l1 .5l1 .8l1 1.2l1 2.1l1 2.1l1 2l1 1.8l1 1.7l1 1.1l1 .6l1 .2l1 0l1-.4l1-.7l1-.8l1-1.6l1-1.9l1-1.7l1-1l1-.8l1-.5l1-.2l1 0l1-.3l1-.2l1-.5l1-.3l1-.5l1-.2l1-.4l1-.3l1-.6l1-.4l1-.7l1-.2l1-.2l1 0l1-.1l1-.4l1-.8l1-.9l1-.7l1-.4l1-.4l1-.5l1-1l1-1.6l1-1.1l1-.7l1 1.2l1 4.4l1 4.9l1 2l1 0l1-.6l1-2.1l1-1.9l1-1.3l1-1.2l1-1.1l1-.5l1-.2l1 0l1 .2l1 .1l1 .1l1 0"/>
<path d="M1071.0 2002.3l1-.2l1-.4l1 .6l1 2.7l1 2l1 .6l1 .4l1 0l1 0l1-.2l1-.4l1-.6l1-.7l1-.5l1-.4l1-.9l1-1.4l1-1.9l1-2.2l1-2.5l1-2.1l1-2l1-1.7l1-1.4l1-1l1-.8l1-.5l1-.1l1 0l1-.3l1-.5l1-.7l1-.5l1-.1l1 .4l1 .6l1 .3l1 0l1-.1l1-.2l1-.2l1-.2l1 .1l1 .2l1 .3l1 .2l1 .3l1 .4l1 .4l1 0l1 .1l1 .2l1 .4l1 .2l1 0l1-.3l1-.4l1-.1l1 0l1-.1l1-.5l1-.8l1-1.2l1-1.7l1-1.8l1-2.4l1-2.8l1-3l1-3.2l1-2.6l1-2.8l1-1.7l1 1.1l1 4.3l1 8.9l1 9.3l1 7.7l1 2l1 .4l1-1l1-1.5l1-.6l1-.3l1-.3l1-.3l1 .2l1 .6l1 .7l1 .6l1 .4l1 .5l1 .5l1 .6l1 .5l1 .2l1-.1l1-.6l1-.6l1-.8l1-.7l1-.7l1-.5l1-.9l1-.9l1-1.1l1-1.1l1-1.3l1-2.2l1-2.6l1-2.7l1-2.8l1-2.4l1-2.5l1-1.6l1 .7l1 2.5l1 4.6l1 5.5l1 5.8l1 4.3l1 3.5l1 .9l1 .4l1 .1l1-.2l1-1l1 .7l1 1l1 .1l1-.1l1 0l1 0l1-.1l1-.2l1 0l1 .1l1 .4l1-.6l1-1.7l1-1.7l1-1.8l1-1.7l1-1.3l1-1l1-1l1-.6l1-.4l1 0l1 .1l1 0l1-.4l1-.6l1-.6l1-.5l1-.2l1-.1l1 .2l1 .3l1 .1l1-.5l1-.5l1-.4l1 .5l1 .8l1 .7l1-.1l1-.7l1-.7l1-.3l1 .3l1 .7l1 .8l1 .5l1 .2l1 .1l1 .2l1 .3l1 .3l1 .5l1 .3l1 .1l1-.1l1-.2l1 0l1 .2l1 0l1-.5l1-1l1-.9l1-1.1l1-2l1-2.7l1-2.6l1-3.1l1-2.6l1-1.9l1-1l1 1l1 2.7l1 2.9l1 3.6l1 3.2l1 2.6l1 2.4l1 3l1 2.4l1 .1l1 0l1 .3l1 .6l1 .7l1 .7l1 .5l1 .5l1 .4l1 .4l1 .3l1 .3l1 .3l1 .5l1 .3l1 .1l1-.3l1-.7l1-.7l1-.5l1-.9l1-1.2l1-1.6l1-2.2l1-2.4l1-3l1-3.8l1-3.9l1-3.9l1-3.7l1-3.3l1-3l1-1.2l1 .5l1 2l1 5.8l1 5.2l1 4.8l1 3.5l1 2.4l1 2.1l1 2.3l1 2.8l1 2.5l1 2.5l1 1.8l1 1.6l1 1.4l1 1.1l1 .8l1 .6l1 .2l1-.3l1-.3l1-.3l1-.6l1-1.1l1-1.2l1-1.5l1-2.1l1-2.2l1-1.9l1-1.8l1-1.6l1-1l1-.8l1-.2l1-.2l1 0l1-.2l1-.3l1-.3l1-.3l1-.6l1-.6l1-.8l1-.6l1-.6l1-.5l1-.6l1-.3l1-.6l1-.4l1-.4l1 .1l1 .3l1 .3l1 .4l1 .3l1 .4l1 .3l1 .8l1 1l1 .4l1-.1l1-.4l1-.3l1-.5l1-.3l1-.4l1-.3l1-.7l1-.9l1-1.4l1-1.7l1-2.6l1-2.8l1-2.7l1-3.4l1-3.2l1-1.9l1-1.4l1 1.6l1 5.3l1 6l1 6l1 3.6l1 2.9l1 2.2l1 1.9l1 1.5l1 1.1l1 .7l1 .6l1 .5l1 .7l1 .5l1 .5l1 .2l1 .2l1 .4l1 .4l1 .4l1 .2l1-.1l1-.1l1-.2l1-.2l1-.7l1-.9l1-1.2l1-1.6l1-1.9l1-2.2l1-2.6l1-2.9l1-3l1-3.7l1-4.6l1-3.4l1-2.5l1-1.5l1-.2l1 .6l1 1.9l1 6.4l1 6.5l1 6.8l1 4.6l1 1.5l1 .8l1 .9l1 1.4l1 1.9l1 1.9l1 1.8l1 2l1 1.6l1 .7l1 .3l1 0l1-.5l1-.5l1-.5l1-.6l1-1.2l1-1.5l1-1.7l1-2.1l1-2.3l1-1.8l1-1.9l1-1.6l1-1.2l1-.3l1-.3l1-.5l1-.5l1-.4l1-.3l1-.2l1-.3l1-.2l1-.5l1-.9l1-.9l1-.7l1-.2l1-.1l1-.2l1-.6l1-1l1-.7l1-.1l1 1l1 1.1l1 .7l1 .2l1 .4l1 0l1-.1l1-.2l1 .1l1 .2l1 .3l1-.1l1-.9l1-1.4l1-1.2l1-1.7l1-1.8l1-2.3l1-2.3l1-2.6l1-1.8l1-1l1-.6l1 .2l1 3.6l1 5.3l1 9l1 6.2l1 4.9l1 2l1-.3l1-.8l1-.6l1-.6l1-.9l1-.4l1 .1l1 .9l1 1l1 .6l1 .5l1 .4l1 .4l1 .1l1 0l1 0l1 .4l1 .4l1-.2l1-1l1-.9l1-1l1-1.2l1-1.6l1-1.9l1-2.4l1-2.7l1-3.1l1-3.7l1-4l1-3.1l1-2.5l1-1.7l1-.1l1 .5l1 .9l1 3.5l1 3.6l1 3.8l1 3.3l1 1.9l1 1.1l1 .7l1 .4l1 .5l1 1.4l1 2.3l1 2.4l1 1.5l1 .8l1 .4l1 .1l1 0l1 .1l1 .2l1 .8l1 .4l1-.7l1-1.7l1-1.7l1-1.2l1-1.2l1-1.3l1-1.1l1-.8l1-.6l1-.2l1 0l1 .1l1-.1l1-.1l1-.4l1-.1l1 0l1-.1l1-.2l1-.2l1 .3l1 .6l1 .4l1 .3l1-.2l1 0l1 0l1 .2l1 0l1 0l1-.2l1-.4l1-.2l1 .1l1 .4l1 .3l1-.2l1-.1l1 .2l1 .6l1 .2l1 0l1-.3l1-.3l1-.4l1-.2l1-.1l1 0l1 .2l1-.1l1 .1l1-.3l1-1.3l1-1.9l1-1.9l1-2.4l1-3.1l1-2.7l1-1.9l1-1.5l1-.2l1 1.2l1 2.1l1 4l1 3.9l1 2.3l1 2l1 2.4l1 3.5l1 1.8l1 .1l1-.1l1 0l1-.1l1-.2l1 0l1 .2l1 .3l1 .4l1 .4l1 .4l1 .3l1 .4l1 .4l1 .3l1 0l1-.6l1-.8l1-1l1-1.1l1-1.3l1-1.6l1-2l1-2.1l1-2.1l1-2.6l1-3.6l1-4.7l1-4.5l1-3.5l1-3.5l1-2.4l1-1.4l1 .3l1 4.1l1 6.1l1 7.2l1 4.6l1 3.5l1 1.9l1 .8l1 .5l1 .6l1 .8l1 1l1 1.5l1 1.7l1 1.4l1 .8l1 .5l1 .5l1 .6l1 1l1 1.1l1 1.2l1 1l1 1.2l1-.1l1-.9l1-1.1l1-.7l1-.9l1-1l1-1l1-.3l1-.2l1 .1l1-.2l1-.4l1-.4l1-.2l1-.1l1 0l1-.2l1-.4l1-.4l1-.3l1-.4l1-.2l1-.5l1-.4l1-.3l1 .1l1 0l1-.3l1-.4l1-.4l1-.4l1-.3l1-.3l1-.3l1-.4l1-.6l1-.7l1-.7l1-.6l1-.5l1-.5l1-.5l1-.5l1-.5l1-.6l1-.9l1-1.2l1-1.7l1-1.9l1-2.2l1-2.8l1-3l1-3.2l1-3.5l1-2.9l1-2.3l1-1.2l1 1.9l1 4l1 7.7l1 5.3l1 4.3l1 3.6l1 3.3l1 2.7l1 2.6l1 1.7l1 .6l1 .1l1 .8l1 .7l1 .6l1 0l1 .3l1 .6l1 1.1l1 .7l1 .8l1 .8l1 .7l1-.3l1-.6l1-1l1-.8l1-1.2l1-1.2l1-1.5l1-1.5l1-1.6l1-1.5l1-1.6l1-1.9l1-2.6l1-4.2l1-4.7l1-4.3l1-3.6l1-2.1l1-1.3l1 .5l1 2.8l1 4.6l1 6.6l1 5.4l1 4.6l1 1.3l1 1l1 .3l1-.4l1-.7l1 .2l1 1.7l1 1.6l1 1.4l1 1.2l1 .8l1 .4l1 0l1 .1l1 .2l1 .8l1 .7l1 .2l1-.5l1-.8l1-1.3l1-1.4l1-1.2l1-.6l1-.4l1-.3l1-.2l1 .6l1 1.2l1 .5l1-.6l1-.7l1-.7l1-.3l1-.4l1-.2l1-.2l1 .1l1-.1l1-.1l1-.2l1-.6l1-.6l1-.6l1-.5l1-.4l1-.4l1-.2l1-.4l1-.2l1-.4l1-.1l1-.4l1-.1l1 0l1 .3l1-.1l1-.2l1-.4l1-.4l1-.2l1-.1l1-.5l1-.6l1-.7l1-1l1-1.3l1-1.7l1-2.9l1-3.4l1-3.4l1-3.2l1-1.8l1-.9l1 1.8l1 3.5l1 3.6l1 4.2l1 3.7l1 3.5l1 3l1 2.8l1 2.2l1 .8l1 0l1 0l1-.2l1 0l1 .3l1 .6l1 .8l1 .6l1 .6l1 .3l1 .5l1 .7l1 .9l1 1l1 .6l1 .6l1-.2l1-.7l1-1.1l1-1l1-1l1-1.5l1-1.8l1-3l1-4l1-4.2l1-4l1-3.6l1-2.6l1-2.4l1-1.3l1-.7l1 .4l1 2.9l1 3.5l1 4.7l1 3.5l1 2.5l1 1.8l1 .5l1 .4l1 .5l1 1.3l1 1.4l1 1l1 .3l1 .5l1 .2l1 .2l1-.1l1-.1l1-.1l1-.1l1-.7l1-.9l1-1l1-.6l1-.4l1 0l1 .4l1 .5l1 .4l1 .1l1 .2l1 .9l1 1.2l1 .9l1 .3l1 .1l1 0l1 .1l1 .2l1 .2l1 .1l1 0l1 .2l1 .2l1 .7l1 .6l1 0l1-.3l1-.4l1-.1l1-.2l1-.3l1-.7l1-.6l1-.8l1-.7l1-.6l1-.6l1-.5l1-.6l1-.6l1-.8l1-.5l1-.5l1-.3l1-.1l1-.3l1-1.8l1-3.2l1-4.6l1-5.1l1-3.1l1-.4l1 3.5l1 5l1 5.7l1 4.9l1 1.5l1-1.1l1-1.6l1-.8l1 .2l1 .6l1 .6l1 .3l1 .3l1-.1"/>
<path d="M1071.0 2076.6l1-1.1l1-.9l1 .1l1 .4l1 .3l1-1l1-1.3l1-1.2l1-.4l1-.4l1-.5l1-.5l1-.9l1-1.3l1-1.4l1-1.3l1-1.2l1-1.4l1-1.9l1-2.7l1-2.2l1-1.5l1-1.2l1-1l1-.9l1-.3l1 .2l1 .5l1 .5l1 .5l1 .5l1 .3l1 0l1-.1l1 .4l1 .6l1 .3l1 0l1-.2l1-.1l1 .1l1 .5l1-.1l1-.1l1-.4l1 .3l1 .7l1 .9l1 .5l1 0l1 .1l1 .4l1 .3l1 .1l1-.2l1-.5l1-.4l1-.2l1 0l1 0l1-.1l1-.2l1-.6l1-.8l1-.8l1-.8l1-1.7l1-2.2l1-2.8l1-2.7l1-1.6l1-.9l1 2l1 4.9l1 5.9l1 5.5l1 4.6l1 .5l1-.6l1-1.4l1-1.9l1-.9l1-.4l1-.1l1 .1l1 .1l1-.1l1 0l1 0l1-.1l1-.2l1-.1l1-.3l1-.3l1-.6l1-.6l1-.5l1-.1l1 .2l1 .3l1 .2l1 0l1 0l1-.1l1 .1l1 .2l1 .1l1-1.5l1-2.4l1-2.1l1-2l1-1.1l1-.5l1-.3l1 1.2l1 3.8l1 5.8l1 6.2l1 5.3l1 2.4l1 1.1l1 0l1-.9l1-.9l1-.9l1-.7l1-1l1-1.1l1-1.1l1-1.1l1-.9l1-.8l1-.5l1-.5l1-.6l1-.6l1-.6l1-.8l1-1.9l1-2.4l1-1.4l1-1l1-.7l1-.7l1-1l1-.8l1 .1l1 .6l1 .8l1 .4l1 .6l1 .4l1 .3l1 0l1 .4l1 .6l1 1l1 .5l1 .3l1-.4l1-.5l1-.4l1 .5l1 .6l1 .5l1 0l1-.4l1-.6l1-.3l1 .4l1 .4l1 .6l1 .4l1 .4l1 .3l1 .2l1 .2l1 .5l1 .2l1 .3l1 .1l1 .4l1 .2l1 .4l1 .4l1 .5l1 .5l1-.4l1-.9l1-1.3l1-2.4l1-3.2l1-2.2l1-1.7l1-.8l1 .5l1 .9l1 2.5l1 3.5l1 1.5l1 1l1 .7l1 .5l1 .3l1 .1l1 0l1 0l1 .1l1-.1l1-.1l1-.1l1 0l1 .2l1 .1l1 .1l1 .2l1 .1l1 .1l1-.2l1-.4l1-.3l1-.4l1-.4l1-.6l1-.7l1-.8l1-.8l1-.6l1-.6l1-1l1-1.4l1-1.7l1-3l1-2.5l1-1.3l1-.7l1-1.1l1-1.2l1 .2l1 3.6l1 5.8l1 5.9l1 2.9l1 1.9l1 1.3l1 .8l1 1.1l1 1.4l1 1.5l1 .9l1 .2l1 .3l1 0l1 .5l1 .7l1 .6l1 0l1-.5l1-.5l1-.5l1-.7l1-1.3l1-1.6l1-1.8l1-1.8l1-1.9l1-1.7l1-2.1l1-1.7l1-1l1 .9l1 1.4l1 .5l1-.3l1-.3l1 .3l1 .8l1 1l1 1l1-.2l1-1l1-1l1-.7l1-.6l1-.7l1-.9l1-.6l1-.6l1 0l1 0l1 .2l1 .2l1 .5l1 .5l1 .5l1 .4l1 .3l1 .2l1 .2l1 .3l1 .2l1 .1l1 .1l1 0l1-.2l1-.3l1-.1l1-.3l1-.8l1-1.4l1-1.4l1-1.7l1-1.8l1-1.6l1-2.1l1-1.7l1-.7l1-.4l1 3.9l1 7.9l1 6.1l1 2.9l1-.5l1-1l1-.1l1 .5l1 .3l1-.1l1-.6l1-.6l1-.3l1 0l1 .2l1 .1l1-.1l1-.2l1-.1l1-.2l1-.1l1-.3l1-.1l1-.3l1-.2l1-.6l1-.7l1-1.1l1-1.1l1-1.1l1-1.1l1-1.4l1-1.5l1-1.6l1-1.3l1-1.6l1-1.9l1-2.1l1-.5l1 .2l1 1.5l1 4.5l1 6.8l1 6.5l1 4.8l1 3.4l1 1.8l1-.7l1-1l1-.1l1 .3l1 .4l1 1l1 1.2l1 .5l1-.1l1-.2l1-.6l1-1.1l1-1.3l1-1.4l1-1.6l1-1.5l1-1.7l1-1.8l1-1.9l1-2l1-2.1l1-1.5l1-.9l1-.4l1 .2l1 .7l1 .5l1 .4l1 .2l1 .6l1 .5l1 .6l1 .5l1 .1l1-.4l1-.9l1-.4l1-.3l1 .2l1 .2l1 .2l1 0l1-.1l1-.1l1-.1l1-.5l1-.6l1-.4l1 0l1 .5l1 .4l1 .4l1 .2l1 .5l1 .8l1 .7l1 .8l1 .3l1-.1l1-.8l1-.8l1-1.5l1-2.6l1-2.5l1-1.8l1-1.2l1 .2l1 1.7l1 3.4l1 4.3l1 4l1 3.1l1 2l1 1l1-.6l1-1.4l1-1.1l1-1.2l1-.9l1-.3l1 .1l1 0l1-.1l1-.1l1-.2l1-.3l1-.4l1-.1l1 0l1 0l1 0l1 0l1-.2l1-.4l1-.7l1-.6l1-.7l1-.3l1-.6l1-.6l1-1l1-1.9l1-2.6l1-2.2l1-2.2l1-1.4l1-.6l1-.2l1 .4l1 3.2l1 4.4l1 5.1l1 3.9l1 2.4l1 1.4l1 .1l1-.3l1-.4l1-.3l1-.3l1-.2l1 .4l1 .7l1 .1l1-.6l1-.9l1-.8l1-.7l1-.6l1 0l1-.1l1-.2l1-.8l1-1.6l1-1.6l1-1.2l1-.9l1-.9l1-.6l1-.6l1-.5l1 .2l1 .7l1 1l1 .5l1 .1l1 .2l1 .2l1 .8l1 .4l1 .5l1 .2l1 .4l1 .5l1 .5l1 .2l1 .4l1 .4l1 .2l1 .2l1 .1l1 .3l1 .2l1-.1l1 .1l1 .1l1 .4l1 .2l1 .1l1-.2l1-.1l1-.1l1-.1l1-.2l1-.2l1 0l1 .1l1 .1l1 .2l1 .2l1 .4l1 .5l1 .5l1-.3l1-1.4l1-2l1-2.3l1-2.6l1-1.8l1-1.5l1-.7l1 .1l1 .7l1 2.5l1 3.8l1 2.7l1 2.3l1 1.3l1 .6l1 .5l1 .2l1-.3l1-.6l1-.6l1-.4l1-.9l1-.8l1-.7l1-.2l1-.3l1-.1l1-.2l1 .2l1 .1l1 0l1-.3l1-.4l1-.6l1-.7l1-1l1-.9l1-1.1l1-.9l1-.8l1-.8l1-.9l1-1.3l1-1.7l1-2.9l1-3.6l1-2.9l1-2.3l1-1.3l1-.8l1-.3l1 4.2l1 7.2l1 9.4l1 6.7l1 3.1l1 1.3l1-.4l1-1l1-.7l1-.1l1 .1l1 0l1-.3l1-.7l1-.8l1-.4l1 0l1 0l1-.2l1-.3l1-.2l1 0l1 1.5l1 1.9l1-.5l1-1.5l1-1.5l1-.6l1-.4l1-.4l1-.3l1 .1l1 .4l1 .7l1 .5l1 .5l1 .5l1 .9l1 .9l1 .8l1 .5l1 .5l1 .4l1 .3l1-.1l1-.7l1-1l1-1.2l1-1.3l1-.6l1 .9l1 .9l1-.8l1-1l1-.1l1 .3l1 .2l1-.1l1-.2l1-.6l1-1l1-1.2l1-1.1l1-.8l1-.5l1-.4l1-.6l1-.5l1-.3l1-.4l1-.8l1-1.3l1-1.8l1-2l1-1.6l1-2.1l1-2.2l1-2l1-1.4l1-1.1l1 .2l1 2.2l1 5.2l1 6.8l1 4.6l1 1.8l1 .6l1 .4l1 1.1l1 1.6l1 .5l1 0l1-.4l1-.6l1-.5l1-.3l1 .1l1 0l1 .2l1 .3l1 .4l1 .2l1 0l1-.2l1-.6l1-1l1-1.1l1-.8l1-.9l1-.9l1-1l1-1.1l1-.7l1-.8l1-.6l1-1l1-1.5l1-1.7l1-2.5l1-1.9l1-1l1-.6l1 .6l1 2.9l1 4.7l1 7.3l1 6.3l1 4l1 1.8l1-.2l1-1.4l1-1.5l1-.4l1-.1l1 0l1-.3l1-.7l1-.9l1-.9l1-.5l1-.5l1-.4l1-.5l1-.4l1-.5l1-.6l1-.5l1-.5l1-.7l1-.8l1-.8l1-.4l1-.1l1 0l1-.1l1 .7l1 1l1 .9l1 .6l1 .7l1 .7l1 .4l1 .3l1 .3l1 0l1-.2l1-.2l1 .1l1 0l1-.1l1-.1l1-.1l1-.3l1-.3l1-.5l1-.6l1-1.2l1-.8l1-.5l1 .6l1 .9l1 .9l1 0l1-.3l1-.6l1-.4l1-.3l1-.1l1 0l1 .1l1 0l1 .1l1-.1l1 0l1-.9l1-1.2l1-1.7l1-3.1l1-3.2l1-2.1l1-1.5l1-.1l1 .8l1 2.2l1 5.1l1 3.1l1 2.5l1 1.3l1 .8l1 .3l1 .4l1 .6l1 .6l1 0l1-.8l1-1.1l1-.3l1 0l1 0l1-.2l1 .1l1-.4l1-.6l1-.6l1 .3l1 1.2l1 1.2l1 .5l1 0l1 .1l1-.1l1-.1l1-.6l1-.5l1-.6l1-1.1l1-1.8l1-2.2l1-2.7l1-2.5l1-1.2l1-.8l1-.5l1-.1l1 1.6l1 3.5l1 6.3l1 4.2l1 2.5l1 .9l1 .1l1-.6l1-.3l1-.6l1-.2l1-.6l1-.4l1-.6l1-.5l1-.5l1-.3l1-.3l1-.3l1-.6l1-.7l1-.9l1-1.5l1-1.7l1-1.6l1-1l1-.8l1-.4l1 .2l1 .7l1 .9l1 .6l1 .5l1 .9l1 1.1l1 1.4l1 1.5l1 1.7l1 1.3l1 1.4l1 1.2l1 .9l1 .7l1 .5l1 .7l1 .7l1 .7l1 .3l1-.2l1-.2l1-.5l1-.4l1-.4l1-.3l1-.5l1-.5l1-.6l1-.4l1-.7l1-.7l1-1.3l1-1.5l1-1.4l1-.3l1 .3l1 .3l1-.1l1-.6l1-1.1l1-1.8l1-6l1-6l1-5.4l1-3l1-.6l1 4l1 5.9l1 7.3l1 5.3l1 3.1l1-.4l1-1.3l1-.8l1 .5l1 .7l1 .2l1-.3l1-.1l1-.1"/>
<path d="M1071.0 2124.1l1-.8l1-1l1-.9l1-.5l1-.1l1 0l1-.6l1-1.1l1-1l1-1.1l1-1.4l1-1.6l1-.8l1-.3l1 0l1-.5l1-2l1-2.8l1-1.9l1-.6l1-.6l1-.4l1-.2l1-.1l1-.1l1 0l1 0l1 0l1 0l1 .4l1 .9l1 .8l1 1l1 1.1l1 .8l1 .2l1 .2l1-.1l1-.4l1-.4l1-.2l1-.2l1-.4l1-.6l1-.7l1-.6l1-.2l1 .7l1 1.5l1 1.1l1 .1l1-.6l1-.6l1-.4l1 0l1 0l1 0l1-.1l1 .2l1 .3l1 .4l1 .4l1 .3l1 .6l1 .5l1 .3l1 0l1-.2l1-.4l1-.4l1-1.2l1-.6l1 1.3l1 1.8l1 1.3l1 1.1l1 0l1-.4l1-.5l1-.8l1-1.2l1-1.1l1-.6l1-.5l1-.5l1-.7l1-.6l1-.5l1-.4l1-.7l1-.5l1-.3l1-.1l1-.1l1-.2l1-.3l1-.4l1-.2l1 .1l1 .7l1 1l1 .9l1 .7l1 .7l1 .6l1 .6l1 .6l1 .3l1 0l1-.4l1-.3l1 .2l1 1.1l1 2l1 3.6l1 3.8l1 3.1l1 2.3l1 1.5l1-.1l1-1l1-1l1-1.1l1-1.3l1-1.3l1-1.4l1-1.2l1-1.1l1-1.2l1-1.5l1-1.8l1-1.3l1-1l1-1l1-1.1l1-1.3l1-1.6l1-1.5l1-1.1l1-.9l1-1l1-.4l1-.1l1 .3l1 .3l1 .4l1 .6l1 1l1 1.1l1 .6l1 .6l1 .7l1 .6l1 .3l1 .5l1 .8l1 .9l1 .6l1 .4l1 .1l1 .3l1 0l1 .2l1 0l1 .3l1 .3l1 .3l1 .2l1 .3l1 .1l1 .3l1 .1l1 .4l1 .1l1 .3l1 0l1 .1l1 .2l1 0l1-.3l1-.5l1-.3l1-.2l1-.3l1 .4l1 1.7l1 1.6l1 1.7l1 .8l1-.3l1-1.1l1-2.3l1-2.7l1-1.1l1-.2l1 1.7l1 1.6l1 1.3l1 .7l1-.4l1-.8l1-.7l1-.8l1-.7l1-.7l1-.5l1-.8l1-.9l1-1l1-.8l1-.9l1-.7l1-.3l1-.2l1 0l1-.2l1-.2l1-.4l1-.5l1-.9l1-.5l1-.6l1-.1l1-.2l1-.1l1-.5l1-.3l1 .5l1 1.2l1 .5l1-1l1-1.3l1-.9l1-.5l1 1l1 1.5l1 1.4l1 1.3l1 1.9l1 4.2l1 4.3l1 3.7l1 .4l1-.4l1-.5l1-.6l1-.3l1-.1l1 .5l1 1l1 .8l1 0l1-.8l1-.9l1-.9l1-.5l1-.5l1-.4l1-.8l1-1l1-1l1-.8l1-.7l1-.9l1-.7l1-.3l1 0l1-.5l1-1.5l1 0l1 2.2l1 1l1 .2l1 .1l1 .3l1 .6l1 .6l1 .3l1-.1l1-.1l1-.1l1 .1l1 .1l1 0l1-.2l1-.2l1 .1l1 .2l1 .2l1 0l1-.1l1-.1l1-.2l1-1l1-1.1l1-.4l1 .2l1 .5l1 .3l1-.1l1-.4l1-.3l1-.1l1 .2l1-.2l1-.1l1-.2l1 0l1 .2l1 .1l1 0l1-.5l1-.4l1-.3l1-.2l1-.1l1 .4l1 1.5l1 1.7l1 2.4l1 .9l1-.2l1-.7l1-.9l1-.9l1-.9l1-.8l1-.8l1-1.1l1-1l1-.9l1-.7l1-.4l1-.2l1 0l1-.2l1-.7l1-1.7l1-1.2l1-.4l1-.2l1-.3l1-.4l1-.5l1-.4l1 0l1 .5l1 .5l1 .3l1 .4l1 .4l1 .4l1-.1l1-.2l1-.4l1 .6l1 1.4l1 2.1l1 3.1l1 3.6l1 4.3l1 3.5l1 2.4l1 .9l1 .4l1-.5l1-1l1-.7l1-.7l1 .1l1 1.2l1 1.4l1-.4l1-2.1l1-1.6l1-1.8l1-1.6l1-1.5l1-1.3l1-.9l1-.6l1-.8l1-1.2l1-1.4l1-1.1l1-1.2l1-.9l1-.8l1-.3l1-.2l1 .2l1 0l1 .3l1 .1l1 1.1l1 .8l1 .5l1 .4l1 .5l1 .1l1 .1l1 .1l1 .1l1 .2l1 .2l1 .5l1 .2l1 0l1-.3l1-.2l1-.1l1 .6l1 .7l1 .2l1-.2l1-.2l1 0l1 .3l1 .5l1 .7l1 .7l1 1.2l1 1.3l1 .9l1 .1l1-.2l1-.5l1-.8l1-.7l1 0l1 .4l1 .6l1 .4l1 .5l1 .6l1 .6l1 .2l1 .2l1 .2l1-.5l1-1.7l1-1.5l1-1.4l1-1.2l1-.8l1-.5l1-.4l1-.4l1-.4l1-.6l1-.3l1-.2l1-.3l1-.6l1-.7l1-.3l1 0l1 .1l1 0l1 0l1-.1l1 0l1-.1l1-.1l1 0l1 .2l1 .1l1-.3l1-.7l1-.2l1 .8l1 1.3l1 1.6l1 2.1l1 2.4l1 2.5l1 1.5l1 .9l1-.1l1-.9l1-.6l1-.3l1-.1l1-.4l1-.1l1-.2l1 .1l1 .1l1-.6l1-1.5l1-1.4l1-.7l1-.3l1-.2l1-.4l1-.6l1-.7l1-.8l1-.7l1-.9l1-1l1-1l1-1.5l1-1.2l1-1.1l1 .2l1 1.3l1 1.4l1 .7l1 .5l1 .7l1 .8l1 .8l1 .8l1 .6l1 .3l1 .5l1 .3l1 .4l1 .4l1 .6l1 .9l1 .7l1 .5l1 .4l1 .3l1 .1l1 0l1 0l1 .2l1 .5l1 .4l1 .2l1 0l1-.2l1-.1l1-.2l1 .1l1-.1l1-.1l1-.6l1-.1l1 0l1 .6l1 .7l1 .7l1 .8l1 .8l1 .4l1-.2l1-.5l1-.3l1-.4l1-.5l1-.6l1-.3l1-.1l1-.1l1 1.4l1 1.2l1 0l1-.3l1-.1l1-.7l1-.8l1-.8l1-.7l1-.7l1-1.1l1-1l1-1.3l1-1l1-.7l1-.2l1-.2l1 0l1-.4l1-.9l1-1l1-.6l1-.3l1-.3l1-.4l1-.5l1-.8l1-.5l1-.4l1-.3l1-.4l1-.3l1-.6l1-.6l1-.7l1-.6l1-.5l1 .1l1 .7l1 1.3l1 2.2l1 3.6l1 4.7l1 4.2l1 2.6l1 1l1-.7l1-.8l1-.3l1-.4l1-.8l1-.8l1-.4l1 0l1 0l1-.2l1-.8l1-.8l1-.7l1-.8l1-1l1-.4l1-.1l1 .3l1 .7l1 1.2l1 1.1l1 .6l1 .5l1 0l1-.9l1-1l1-.1l1 .1l1 .6l1 .6l1 .4l1 .6l1 .5l1 .7l1 .5l1 .8l1 .6l1 .6l1 .3l1 .2l1 0l1-.8l1-2l1-.7l1 .3l1 .4l1-.1l1-.1l1-.3l1 0l1-.4l1-.3l1-.5l1-.2l1 .2l1 .3l1 .2l1 0l1-.3l1-.7l1-1l1-.7l1-.7l1-.1l1-.2l1-.3l1-.4l1-.3l1-.1l1-.2l1-.3l1-.3l1-.3l1-.4l1-.6l1-.7l1 .1l1 1.7l1 2l1 1.4l1 .9l1-.1l1-.7l1-.4l1 .1l1 .6l1 .7l1 .3l1-1.1l1-1.7l1-1.5l1-.6l1-.4l1-.3l1-.2l1-.2l1-.2l1-.3l1-.5l1-.5l1-.6l1-.3l1-.2l1-.1l1-.3l1-.2l1-.3l1-.1l1 .1l1 .2l1 .1l1-.1l1-.1l1 0l1-.2l1-.1l1 .3l1 1.6l1 2.2l1 4.5l1 3.9l1 3.2l1 2.4l1 1.2l1-.8l1-1.8l1-1.3l1-1.2l1-1l1-.6l1-.6l1-.7l1-.6l1-.6l1-.8l1-1.1l1-1l1-.9l1-.8l1-.6l1 0l1 .2l1 0l1 .1l1 0l1 .3l1 .2l1 .2l1 .1l1 0l1 0l1-.1l1 .1l1 .5l1 .8l1 .6l1 .6l1 .5l1 .4l1 .5l1 .6l1 .4l1 .2l1 .1l1 0l1-.1l1-.2l1-.2l1-.3l1-.2l1-.5l1-.7l1-1l1-.8l1 0l1 .7l1 .9l1 .4l1-.2l1-.3l1-.3l1 0l1 0l1 .6l1 .7l1 .9l1 .6l1 .6l1 .3l1 .5l1 .8l1 .8l1 .1l1-1.1l1-1.7l1-1.8l1-1.8l1 .3l1 1.7l1 1.5l1 1.5l1 .7l1-.5l1-.9l1-.9l1-.3l1-.5l1-1.1l1-1.7l1-2.1l1-1.8l1-1.1l1-.9l1-.2l1-.1l1 .1l1-.1l1-.4l1-.6l1-.5l1-.1l1 .4l1 .4l1 .3l1 0l1 .1l1 .1l1 .5l1 .8l1 1l1 .5l1-.2l1-.9l1-1.1l1-.7l1-.1l1 1.2l1 1.7l1 1.5l1 1.4l1 1.7l1 3.1l1 2.6l1 2.1l1 .7l1-1.3l1-1.7l1-1.1l1-.7l1-.4l1-.6l1-.6l1-.7l1-.6l1-.8l1-1.1l1-1.2l1-1.3l1-1.1l1-1.2l1-1.2l1-1.1l1-1.3l1-1.3l1-.5l1 .4l1 1l1 1.1l1 .8l1 .7l1 .6l1 .9l1 1.1l1 1.7l1 1.9l1 2.2l1 1.5l1 1.4l1 1.3l1 1.1l1 .3l1 .2l1-.2l1 0l1 .2l1 .1l1-.1l1-.1l1-.1l1 .2l1 .1l1 .3l1 .1l1 .2l1-.2l1 .1l1-.2l1-.4l1-1.1l1-.9l1-1.1l1-.7l1 .9l1 1.4l1-.9l1-1.5l1-.7l1-.3l1-.8l1-2.3l1-3.3l1-3.3l1-2.8l1-1.3l1 .1l1 4.4l1 4.9l1 4.3l1 2.6l1 .8l1-1.2l1-1.7l1-1l1-.8l1-.7l1-.8l1-.6l1-.3l1-.3"/>
</g>
</svg>
</body></html>
